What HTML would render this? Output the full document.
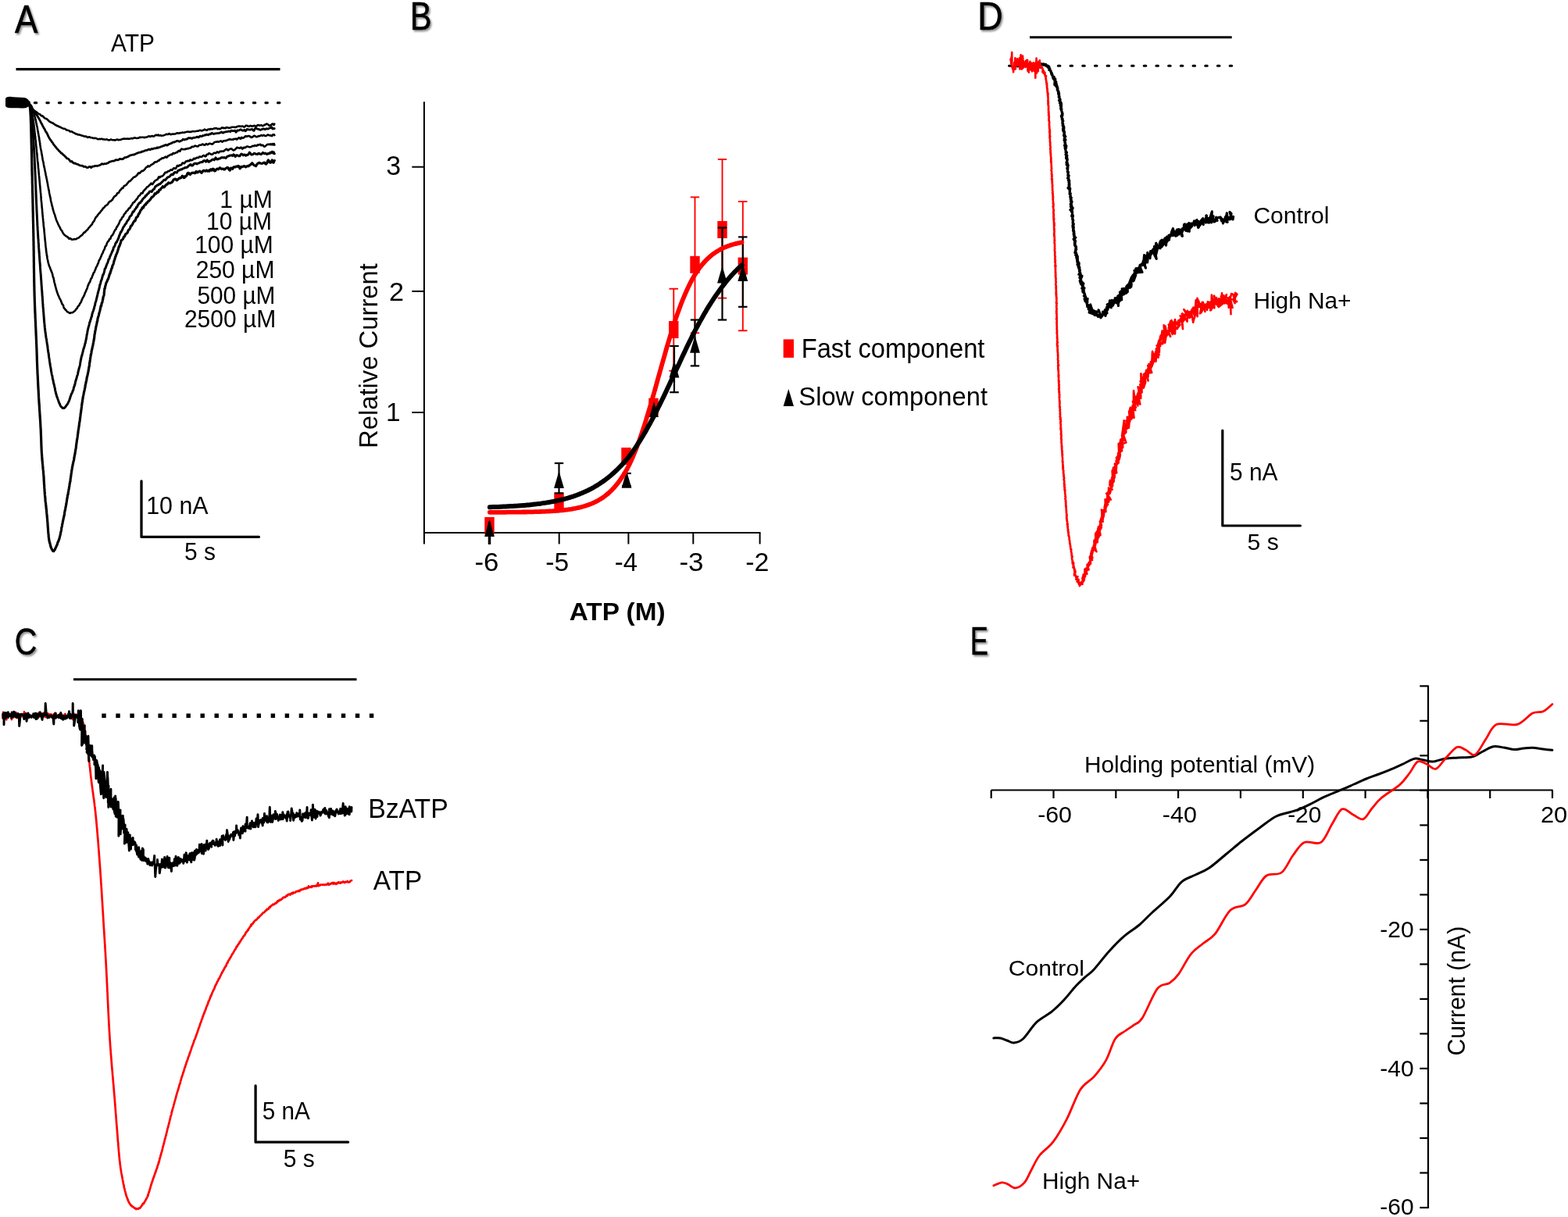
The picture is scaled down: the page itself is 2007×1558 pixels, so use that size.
<!DOCTYPE html>
<html><head><meta charset="utf-8"><title>Figure</title><style>html,body{margin:0;padding:0;background:#fff;overflow:hidden}svg{display:block}text{font-family:"Liberation Sans",Arial,Helvetica,sans-serif;fill:#000}</style></head><body>
<svg xmlns="http://www.w3.org/2000/svg" width="2007" height="1558" viewBox="0 0 2007 1558">
<defs><filter id="sh" x="-30%" y="-30%" width="160%" height="160%"><feDropShadow dx="1.8" dy="2.2" stdDeviation="1.3" flood-color="#000" flood-opacity="0.45"/></filter></defs>
<rect width="2007" height="1558" fill="#fff"/>
<line x1="20.5" y1="88.6" x2="358.5" y2="88.6" stroke="#000" stroke-width="3.1"/>
<path d="M44.3,131.6H361" stroke="#000" stroke-width="3.2" stroke-dasharray="2.4 13.16" stroke-linecap="round" fill="none"/>
<path d="M36,130.8 36.3,131.2 36.7,132 37.2,133 37.8,134.1 38.4,135.1 39,136.4 39.7,137.6 40.3,138.4 41,139 41.7,139.5 42.4,140.1 43.1,140.9 43.9,141.7 44.7,142.2 45.5,142.5 46.3,143.4 47.2,143.9 48,144.4 48.8,145.5 49.7,145.9 50.6,146.1 51.5,146.7 52.4,147.7 53.3,148.4 54.2,148.4 55.1,148.9 56,150.1 56.9,151 57.8,151.6 58.6,151.9 59.5,152 60.4,152.7 61.3,153.7 62.1,154.3 63,155.3 63.9,155.9 64.8,156.2 65.7,156.8 66.6,157.3 67.4,157.5 68.3,158 69.2,158.8 70.1,159.6 71,159.8 71.9,160.4 72.9,161.1 73.9,161.1 74.9,161.7 75.9,162.4 76.9,162.5 77.9,163.1 78.9,163.8 79.9,164 80.9,164.7 81.9,164.7 82.9,164.7 83.9,165.5 84.8,166.3 85.8,166.6 86.8,166.7 87.8,167 88.8,167.6 89.8,168.4 90.8,168.6 91.8,168.3 92.8,169 93.8,169.8 94.8,170 95.8,170.6 96.7,171.4 97.6,171.5 98.5,171.6 99.3,172.2 100.2,172.5 101.2,172.4 102.4,172.8 103.8,173.3 104.6,173.6 105.4,173.8 106.3,173.9 107.2,174.4 108.2,174.6 109.2,174.6 110.2,174.6 111.2,175.3 112.3,176 113.4,175.5 114.5,175.2 115.5,175.9 116.6,176.2 117.7,176.2 118.7,176.7 119.7,176.9 120.7,176.9 121.7,176.9 122.7,177 123.7,177.4 124.7,177.9 125.7,178.2 126.7,177.9 127.7,178 128.7,178.2 129.7,177.7 130.7,177.8 131.7,178.5 132.7,178.4 133.7,178.5 134.7,178.7 135.7,178.5 136.8,178.4 137.8,179 138.9,179.4 139.9,179.2 141,179.1 142.1,178.5 143.1,178.9 144.2,179.2 145.2,179.3 146.3,179.4 147.4,179.4 148.4,179.3 149.5,178.5 150.5,178.8 151.6,179.2 152.6,178.9 153.6,179.1 154.6,178.9 155.6,178.2 156.6,178 157.6,177.9 158.6,177.6 159.6,177.6 160.6,177.7 161.6,177.7 162.6,177.6 163.6,177.5 164.6,177.9 165.6,177.7 166.6,177.5 167.6,177.3 168.7,177.1 169.7,177.4 170.8,177 171.8,176.4 172.9,176.4 173.9,176.7 175,177 176,176.8 177.1,176.8 178.2,176.2 179.2,175.6 180.3,176 181.4,175.8 182.4,175.7 183.5,175.7 184.5,176.1 185.6,175.9 186.6,175.7 187.7,175.6 188.8,175.2 189.9,174.5 191,174.3 192,175 193.1,174.5 194.2,174.1 195.2,174 196.2,174.6 197.2,174.4 198.2,173.6 199.1,173 200,172.7 201.1,173.3 201.8,173.3 202.4,172.5 202.8,172.7 203.2,173.4 203.7,173.5 204.5,173.5 205.5,173.2 206.9,173.7 208.8,173.5 211.3,172.6 211.9,172.3 212.6,171.9 213.3,171.8 214,171.9 214.8,172.1 215.6,171.7 216.4,171.1 217.3,171.4 218.1,172.1 219,172.1 220,171.7 220.9,171.5 221.9,171.7 222.9,171.5 223.9,171.5 224.9,171.2 225.9,170.7 227,170.2 228.1,170.6 229.2,170.7 230.3,170.1 231.4,170.3 232.5,169.9 233.6,169.5 234.7,169.8 235.9,169.7 237,169.2 238.2,169 239.3,168.7 240.5,168.6 241.6,168.8 242.8,168.9 243.9,168.9 245,168.7 246.2,168.1 247.3,168.2 248.4,168.3 249.5,168.2 250.6,168 251.7,167.7 252.8,167.7 253.9,167.6 254.9,167.1 256,166.7 257,166.9 258,167.4 259,167.2 259.9,166.7 260.9,166.5 261.8,165.6 262.7,166 263.9,166.7 265,166.6 266.1,165.8 267.2,165.4 268.3,165.8 269.4,165.1 270.4,165.1 271.4,165.3 272.5,165.2 273.5,164.7 274.4,164.2 275.4,164.4 276.4,164.1 277.3,164.3 278.3,165.1 279.2,165 280.2,164.7 281.1,165.1 282,165 283,164.3 283.9,163.4 284.8,163.5 285.8,164 286.7,163.7 287.7,163.9 288.6,164.2 289.6,163.3 290.6,163.1 291.6,163.5 292.6,163.6 293.6,163.7 294.6,163.6 295.7,163.3 296.7,162.7 297.8,162.7 298.9,162.7 300,162.7 301.2,163.1 302.1,162.7 303,162.3 304,162.1 305,161.5 306,161.6 307,161.5 308,161.7 309.1,161.9 310.2,161.5 311.3,161.9 312.4,162.6 313.5,162.1 314.7,160.7 315.8,160.7 317,161.3 318.1,161.8 319.3,161.7 320.5,160.9 321.6,161.2 322.8,161.8 324,161.3 325.2,160.9 326.3,161.1 327.5,161.9 328.7,161.4 329.8,160.1 331,160.3 332.1,160.6 333.2,160.5 334.3,160.3 335.4,160.7 336.5,161.2 337.5,160.7 338.6,159.7 339.6,159.6 340.6,158.9 341.6,158.5 342.5,159.2 343.4,159.7 344.3,160.6 345.2,161 346,160.2 346.8,160.2 347.5,159.6 348.3,158.7 349,158.6 349.6,158.7 350.2,159.9 350.8,159.8 351.3,158.6" fill="none" stroke="#000" stroke-width="2.6" stroke-linejoin="round" stroke-linecap="round"/>
<path d="M36,131 36.3,131.8 36.7,132.7 37.2,133.2 37.8,133.7 38.4,134.7 39,135.9 39.7,137 40.3,138.1 41,138.8 41.5,139.7 42,140.8 42.6,141.4 43.1,142.1 43.7,142.7 44.3,143.6 44.9,144.7 45.5,145.4 46.1,146.1 46.8,147.2 47.4,148 48,148.5 48.5,149.5 49,150.5 49.4,150.9 49.9,151.7 50.4,152.9 50.9,153.8 51.4,154.5 51.9,155.7 52.5,157.1 53,158 53.5,158.6 54,159.7 54.5,161 55,161.8 55.5,162.6 56,163.8 56.5,164.6 57,165.1 57.5,166.1 58,167.3 58.5,168.4 59,169 59.5,169.5 60,170.5 60.4,171.2 60.9,172.3 61.4,173.7 61.9,174.4 62.4,175.5 62.9,176.6 63.4,177.3 63.9,178 64.5,179.1 65.1,179.6 65.7,180.5 66.4,181.8 67,182.2 67.6,183.1 68.2,184.2 68.8,185.2 69.4,186 70.1,186.6 70.7,187.6 71.3,188.1 71.9,188.9 72.6,190 73.4,190.7 74.1,191.4 74.8,192.3 75.5,193.3 76.3,193.7 77,194.4 77.7,195.4 78.5,196.3 79.2,196.4 79.9,196.8 80.7,198.1 81.5,198.6 82.3,199 83.1,200.1 83.9,200.8 84.6,201.4 85.4,202.7 86.2,202.9 87,203.1 87.8,203.8 88.7,204.6 89.5,205.8 90.3,206.8 91.1,206.6 92,206.5 92.8,207.6 93.8,208.5 94.7,209 95.8,208.9 96.7,209.3 97.6,209.9 98.6,210.1 99.7,210.4 100.7,210.9 101.8,211.6 102.9,211.9 103.9,212.1 105,212.2 106,212.4 106.9,213.3 107.8,213.5 109,213.2 110,213.7 110.9,214.3 111.8,214.6 112.7,214.5 113.6,213.8 114.6,213.3 115.8,213.7 116.6,214.6 117.5,213.9 118.4,213 119.3,213.2 120.3,213 121.2,212.5 122.3,212.4 123.3,212.3 124.3,212.5 125.4,212.1 126.6,211.8 127.7,211.4 128.6,211 129.5,210.4 130.4,209.6 131.4,210.1 132.4,210.1 133.4,209.7 134.4,209.7 135.5,209.6 136.5,209.3 137.5,208.9 138.6,208.4 139.6,207.6 140.6,207.1 141.7,206.9 142.7,206.5 143.7,206.2 144.7,206.1 145.7,206.1 146.7,205.7 147.7,204.8 148.7,204.6 149.7,204.9 150.7,204.9 151.6,204.7 152.6,203.9 153.6,203.3 154.6,203.7 155.6,203.8 156.6,203.5 157.6,203.5 158.6,202.5 159.6,201.7 160.6,201.7 161.6,201.4 162.6,201.1 163.6,200.6 164.6,200.2 165.6,199.4 166.6,198.9 167.6,198.7 168.6,198.5 169.6,198.2 170.6,198 171.6,198 172.6,197.5 173.6,197 174.6,196.6 175.6,196.1 176.6,195.7 177.6,195.4 178.7,195.2 179.8,195 180.8,194.7 181.9,194 183,193.8 184,193.6 185.1,192.8 186.1,192.7 187.1,192.4 188,192.3 189,192 189.9,191.4 190.7,191.1 191.5,191.5 192.7,191.5 193.5,190.6 194,190.5 194.4,190.4 195.1,190.8 196,190.6 197.6,189.8 200,189.8 200.6,189.1 201.3,188.8 202,189.3 202.7,189.1 203.4,188.7 204.2,188.6 205,188.3 205.9,187.9 206.8,187.5 207.7,187.3 208.6,186.8 209.5,186.5 210.5,186.4 211.5,185.5 212.5,185.4 213.5,186 214.5,185.9 215.6,184.8 216.6,184.4 217.7,184.1 218.8,183.5 219.9,183.4 220.9,182.3 222,182 223.1,182.1 224.2,181.5 225.3,181 226.4,180.4 227.5,180.3 228.6,180.7 229.7,181.3 230.8,180.7 231.8,180.2 232.9,179.8 233.9,178.5 235,178.4 236,179 237,178.5 238,178.2 238.9,178.3 239.9,177.7 240.9,176.7 241.9,176.7 242.8,176.9 243.8,176.7 244.8,176.9 245.8,177.4 246.8,176.7 247.7,176.1 248.7,176.4 249.7,176.2 250.7,176 251.7,175.4 252.7,175.1 253.7,175.8 254.7,175.6 255.7,174.4 256.7,174.1 257.6,174.6 258.6,174.4 259.6,173.5 260.6,173.7 261.6,173.3 262.6,172.7 263.6,173 264.6,172.2 265.6,172.5 266.6,172.9 267.6,171.8 268.6,171.7 269.6,171.8 270.6,170.7 271.5,170.4 272.5,171.1 273.5,171.5 274.5,171.3 275.5,170.9 276.5,170.8 277.5,170.6 278.5,170.7 279.6,170.7 280.6,170.2 281.6,170.2 282.6,169.5 283.6,168.9 284.6,169.8 285.7,170.1 286.7,169.2 287.7,169.1 288.7,168.9 289.7,168.7 290.8,168.5 291.8,168.4 292.8,167.9 293.8,168.2 294.8,168.6 295.8,167.2 296.9,167.2 297.9,167.6 298.9,167.7 299.9,167.2 300.9,167.2 301.9,169.2 302.9,168.4 304,166.8 305,167.2 306,167 307,166.2 308,165.6 309,166.5 310,166.8 311,167.3 312,166.9 313,166.2 314,167.7 315,167.2 316.1,165.4 317.2,165.6 318.3,165.9 319.4,166.2 320.5,166.2 321.7,165.4 322.8,165.4 324,166.9 325.2,167.3 326.3,164.7 327.5,164 328.7,164.8 329.9,165.1 331,165.3 332.2,165.9 333.3,166.4 334.5,165.8 335.6,165.4 336.7,164.9 337.8,164.9 338.9,165.5 340,165.5 341,164.7 342,165 343,165.2 343.9,164.5 344.9,164 345.7,163.7 346.6,163.8 347.4,162.6 348.2,163.4 348.9,165 349.6,164.4 350.2,164.6 350.8,164.9 351.3,164.5" fill="none" stroke="#000" stroke-width="2.8" stroke-linejoin="round" stroke-linecap="round"/>
<path d="M36,131 36.4,131.7 36.8,132.3 37.4,132.8 38,133.7 38.6,134 39.3,134.4 40,135.4 40.7,136.7 41.4,138.6 42,140.2 42.2,140.8 42.5,141.1 42.7,141.8 43,142.8 43.2,144 43.4,145.2 43.7,145.9 43.9,146.7 44.2,147.5 44.4,148.6 44.6,149.4 44.9,150.2 45.1,151.3 45.4,152.3 45.6,153.3 45.8,154.4 46.1,155.5 46.3,156.8 46.6,157.8 46.8,158.9 47,160.3 47.3,161.2 47.5,162.2 47.8,163.5 48,164.9 48.2,165.9 48.3,166.7 48.5,167.6 48.7,169 48.8,170 49,170.4 49.2,171.5 49.3,172.5 49.5,173.4 49.7,174.6 49.8,175.4 50,175.8 50.2,176.9 50.3,178.4 50.5,179.4 50.7,180.5 50.8,181.8 51,182.6 51.2,183.7 51.3,185.2 51.5,186.2 51.7,187.2 51.8,188.2 52,189.5 52.2,190.4 52.3,190.9 52.5,192 52.7,192.9 52.9,193.4 53,194.5 53.2,195.9 53.4,197.2 53.6,197.7 53.7,198.2 53.9,199.4 54.1,200.8 54.3,201.9 54.5,203.1 54.7,204.5 54.9,205.4 55.1,206.3 55.3,207 55.5,207.6 55.7,208.9 55.9,210.3 56.1,211.4 56.3,212.4 56.5,213.4 56.7,214.5 56.9,214.9 57.1,215.6 57.3,217.1 57.5,218.3 57.7,218.9 57.9,220 58.1,221.2 58.3,221.9 58.5,223.1 58.7,224.3 58.9,224.9 59.1,225.9 59.3,227.2 59.5,227.9 59.7,228.8 59.9,229.5 60.1,230.4 60.3,231.9 60.5,232.9 60.7,233.8 60.9,234.9 61.1,236 61.3,237.3 61.5,238.3 61.7,239.1 61.9,240.3 62.1,241.8 62.3,242.7 62.5,243.4 62.7,244.2 62.9,245.4 63.1,246.9 63.3,247.9 63.5,248.8 63.7,249.4 63.9,250.6 64.1,252 64.3,252.6 64.5,253.1 64.7,254.4 64.9,255.7 65.1,257.2 65.3,258 65.5,258.3 65.7,259.4 65.9,260 66.1,260.8 66.4,262.4 66.6,263.5 66.8,263.8 67.1,264.7 67.4,266.1 67.7,267.7 68,268.7 68.3,269.5 68.6,270.6 68.9,271.8 69.2,272.7 69.5,273.7 69.9,274.4 70.2,275 70.5,276.4 70.8,277.6 71.1,278.3 71.5,279.4 71.8,280.8 72.1,281.7 72.5,282.4 72.8,283.3 73.1,284.2 73.5,284.6 73.8,285.3 74.2,286.7 74.5,287.2 75,288.1 75.6,289.4 76.1,290.2 76.6,291.1 77.2,292.4 77.7,293.6 78.3,294.6 78.9,295.1 79.4,295.8 80,297.1 80.6,298.2 81.1,299 81.7,299.7 82.3,300.5 82.8,301.1 83.4,301.3 84.3,302 85.2,302.9 86.1,303 86.9,303.5 87.8,305.1 88.7,305.7 89.6,305 90.5,305.4 91.4,306.5 92.4,306.8 93.4,306.5 94.3,306.4 95.3,306.1 96.3,306.2 97.3,306.1 98.3,305.4 99.4,304.9 100.5,304.6 101.6,303.6 102.7,302.6 103.4,302.2 104,301.5 104.7,301.1 105.4,300.6 106.1,299.5 106.9,298.5 107.6,297.6 108.4,297.7 109.1,297 109.8,295.9 110.6,295.3 111.3,294.6 112.1,294 112.8,292.9 113.5,291.8 114.2,291.2 114.8,290.5 115.5,289.7 116.1,288.8 116.7,288.2 117.3,287.8 117.9,287 118.4,285.6 118.9,284.7 119.5,284.1 120,283.2 120.5,282.9 121,281.8 121.5,280.4 122.1,279.4 122.6,278.4 123.2,277.6 123.8,277.2 124.4,276.6 125.1,275.1 125.8,274.7 126.4,273.7 127,272.7 127.6,272.6 128.2,271.8 128.9,270.8 129.5,269.8 130.2,269.1 130.9,268.6 131.5,267.3 132.2,266.2 132.9,266.2 133.6,265.4 134.4,264.1 135.1,263.4 135.8,263 136.6,262.5 137.3,262.3 138.1,261.3 138.9,259.6 139.6,258.7 140.4,258.1 141.2,257.5 141.8,257.6 142.5,256.8 143.1,256.2 143.8,255.9 144.4,254.7 145.1,253.3 145.8,252.4 146.4,251.6 147.1,251.1 147.8,250.8 148.5,250.1 149.2,249.4 149.9,247.7 150.6,247 151.3,247.1 152,246.6 152.7,245.3 153.5,243.7 154.2,243.3 154.9,242.5 155.6,241.3 156.3,240.6 157,241 157.7,240.4 158.4,238.6 159.1,238 159.8,237.6 160.5,237.5 161.3,237 162,236.1 162.8,235.1 163.6,234.2 164.3,233.3 165.1,232.1 165.9,232.2 166.6,231.8 167.4,230.8 168.2,230.2 168.9,229.1 169.7,228.5 170.5,227.5 171.3,226.8 172,226.7 172.8,226.4 173.6,225.8 174.3,225.2 175.1,224.5 175.9,223.6 176.6,222.2 177.4,221.4 178.2,222 178.9,221.6 179.7,220.7 180.5,220 181.4,218.9 182.3,219 183.1,218.7 184,217.9 184.9,217.3 185.8,216.1 186.7,214.6 187.6,214.1 188.5,213.8 189.3,212.4 190.2,212.8 191.1,213.2 192,212.4 192.8,211.7 193.6,210.9 194.5,210.5 195.3,210.1 196.1,209.5 196.8,209.2 197.6,207.9 198.3,207.5 199,207.7 200.1,207.1 201.1,207.1 202,206 202.9,205.4 203.6,205.6 204.4,204.7 205.1,203.9 205.9,203.8 206.8,202.9 207.7,202.3 208.7,202.6 209.9,202.1 211.3,200.9 212,200.6 212.7,201.4 213.5,201.6 214.3,200.7 215.1,199.5 215.9,199.2 216.7,199.1 217.5,198.4 218.4,197.9 219.3,197.9 220.2,198 221.1,196.4 222,196 223,196.5 224,196.1 225,195.6 226,194.9 227,195.1 228,193.4 229.1,192.9 230.2,193.7 231.3,192 232.4,190.5 233.5,190.9 234.7,191.2 235.8,191.1 237,191.2 237.8,190.5 238.7,190.6 239.5,190.4 240.4,190.1 241.3,190.1 242.2,189.7 243.1,189.5 244.1,189.4 245,188.3 246,187.7 246.9,188 247.9,187.7 248.9,186.9 249.9,186.6 250.9,187.1 251.9,187.2 252.9,187.5 253.9,187 254.9,185.9 256,185.7 257,185.6 258,185.4 259.1,184.5 260.1,184.7 261.2,185.7 262.2,185.8 263.2,184.7 264.3,184 265.3,185.1 266.4,184.9 267.4,184 268.4,183.8 269.4,183.9 270.5,184.2 271.5,184.6 272.5,184.2 273.5,183.2 274.5,182.2 275.5,181.7 276.5,181.7 277.5,181.6 278.5,181.1 279.5,181.6 280.4,181.5 281.4,180.9 282.4,180.6 283.4,180.5 284.4,181.7 285.4,180.9 286.4,180.2 287.4,180.3 288.4,180.1 289.4,180.2 290.4,179.6 291.4,179.1 292.3,179 293.3,178.5 294.3,178 295.3,178.7 296.3,178.8 297.3,178.5 298.3,178.9 299.3,177.9 300.3,178 301.3,177.9 302.2,177.6 303.2,178.6 304.2,177.8 305.2,176.4 306.2,176.2 307.2,177.6 308.1,177.8 309.1,175.8 310.1,176.3 311.1,176.7 312.1,176.1 313,175.6 314,174.4 315,174.4 316.1,174.8 317.2,174.2 318.3,174.1 319.4,174.3 320.5,175.1 321.7,175.9 322.8,175.6 324,174.8 325.2,173.8 326.3,174.1 327.5,174.9 328.7,175.2 329.9,174.8 331,174.1 332.2,174.2 333.3,173.7 334.5,173 335.6,173.7 336.7,173.4 337.8,172.9 338.9,173.9 340,174 341,173.7 342,172.9 343,172.5 343.9,172.9 344.9,173.2 345.7,173.5 346.6,173.2 347.4,173.9 348.2,174.1 348.9,172.9 349.6,172.2 350.2,172.2 350.8,172.2 351.3,173.1" fill="none" stroke="#000" stroke-width="2.6" stroke-linejoin="round" stroke-linecap="round"/>
<path d="M36,131.4 36.3,131.3 36.6,131.6 37,133 37.5,133.8 38,134.8 38.5,136 39,137.1 39.5,138.1 40,140 40.2,140.9 40.3,141.4 40.5,141.9 40.6,142.8 40.8,143.7 40.9,144.2 41.1,144.7 41.2,145.1 41.4,146.3 41.5,147.5 41.7,148.2 41.8,149.2 42,150.3 42.1,151.5 42.3,152.1 42.4,153.1 42.6,154 42.7,155.1 42.9,156.2 43.1,157.3 43.2,159.2 43.4,160.5 43.6,161.7 43.8,163.1 44,164.8 44.1,165.9 44.2,166.9 44.3,167.3 44.3,167.7 44.4,168.6 44.5,169.4 44.6,170 44.7,170.9 44.8,172.1 44.9,173.1 45,173.9 45.1,174.8 45.2,175.5 45.3,176.5 45.4,177.8 45.5,178.7 45.6,179.4 45.7,180.4 45.8,181.4 45.9,182.6 46,183.5 46.1,184.5 46.2,185.6 46.3,186.5 46.4,187.1 46.5,188.1 46.6,189.3 46.7,190.4 46.8,191.2 46.9,192.5 47,194 47.1,195 47.2,195.3 47.3,196 47.4,197.4 47.5,198.5 47.6,199.7 47.7,201.4 47.8,202.6 47.9,203.1 48,204.4 48.1,205.7 48.2,206.7 48.3,207.6 48.5,208.7 48.6,210 48.7,210.7 48.8,211.4 48.9,213.1 49,214.7 49.1,215.5 49.2,216.2 49.3,217.3 49.4,218.3 49.5,219.4 49.6,221.1 49.7,222.2 49.8,223.2 49.9,224.2 50,225 50.1,226.3 50.2,226.9 50.3,227.6 50.4,228.8 50.5,229.9 50.6,231.3 50.7,232.4 50.7,232.7 50.8,233.6 50.9,234.7 51,235.6 51.1,237.2 51.2,238.3 51.3,238.9 51.4,240 51.5,241.2 51.6,242.5 51.7,243.4 51.8,244.3 51.9,245.6 52,246.5 52.1,247.1 52.2,248.2 52.3,249.7 52.4,250.9 52.5,251.5 52.6,252.5 52.6,254.3 52.7,255.4 52.8,256.1 52.9,257.3 53,258.2 53.1,259 53.2,260 53.3,261.1 53.4,261.8 53.5,263.4 53.6,265.1 53.7,265.6 53.8,266.4 53.9,267.3 54,268.5 54.1,269.7 54.2,270.6 54.2,271.3 54.3,272.3 54.4,274 54.5,274.9 54.6,275.6 54.7,276.6 54.8,277.7 54.9,278.9 55,279.6 55.1,280.2 55.1,281.2 55.2,282.2 55.3,282.9 55.4,283.9 55.5,285 55.6,285.6 55.7,286.4 55.7,288.1 55.8,289.1 55.9,289.4 56,290.6 56.1,291.7 56.3,291.9 56.4,292.8 56.5,294.3 56.6,295.9 56.7,297.7 56.9,298.3 57,299.5 57.1,300.9 57.2,301.9 57.3,303.4 57.4,304.5 57.5,305.5 57.6,306.6 57.7,307.4 57.8,308.5 58,310 58.1,311.2 58.2,312.6 58.3,313.6 58.4,314.2 58.5,315.4 58.6,316.2 58.7,316.6 58.8,317 58.9,318.5 59,320 59.1,320.8 59.2,321.5 59.3,322.3 59.5,323.7 59.6,324.5 59.7,324.8 59.8,325.4 59.9,326.8 60,327.5 60.2,327.4 60.3,327.9 60.4,329 60.5,330.4 60.7,331.5 60.8,331.9 61.1,333 61.4,334.5 61.7,336.1 62,337.1 62.3,338.2 62.6,339.2 63,340.6 63.3,341.2 63.6,341.7 64,342.8 64.3,343.7 64.6,344.7 65,345.4 65.3,346.3 65.6,347.1 66,348 66.3,348.5 66.6,349.3 66.9,350.5 67.2,351.3 67.5,352.7 67.7,353.8 68,354.9 68.2,355.2 68.5,355.5 68.7,357.2 69,358.2 69.2,359 69.4,360.7 69.7,361.9 69.9,362.3 70.2,363.3 70.4,364.6 70.6,365.5 70.9,366.3 71.1,367.3 71.4,368 71.6,368.9 71.9,369.9 72.1,370.9 72.4,372.1 72.8,372.9 73.1,374 73.5,375.4 73.9,376.3 74.3,377.4 74.7,378.4 75.2,379.1 75.6,380.2 76,381.2 76.4,382.4 76.8,382.8 77.2,383.3 77.6,384.3 78,385.1 78.4,386.4 78.8,387.3 79.3,388.7 79.9,389.9 80.4,390.1 80.9,390.7 81.4,392.8 81.9,394.3 82.4,394.9 82.9,395 83.4,396.3 84,396.8 84.5,397 85.4,398.4 86.2,399.2 87.1,399.6 88,399.9 88.9,400.8 89.8,400.9 90.8,400.3 91.6,400.2 92.5,400.3 93.4,399.9 94.2,399.1 95.1,398.5 96.1,397.8 97,396.3 98,395.2 98.5,394.9 98.9,394.2 99.4,393 99.9,392 100.4,391.7 101,391.3 101.5,390.4 102,389.2 102.5,388.4 103.1,387.6 103.6,386.9 104.1,385.8 104.6,384.2 105.1,383.3 105.6,381.9 106.1,380.9 106.6,380.4 107,379.5 107.5,378.7 107.9,377.8 108.4,376.3 108.8,375.2 109.2,374.4 109.6,373.5 110,372.8 110.4,371.6 110.7,370.8 111.1,370.4 111.5,369.2 111.9,368.1 112.2,366.8 112.6,365.5 113,365.2 113.4,364 113.8,362.6 114.3,361.9 114.7,361.4 115.1,361.1 115.5,359.7 115.9,358.5 116.4,357 116.8,356.3 117.2,356.2 117.6,355.4 118.1,353.7 118.5,352.5 119,352.1 119.4,350.2 119.9,349.1 120.3,348.9 120.7,348.5 121,347.7 121.4,346.4 121.8,345.6 122.2,344.8 122.6,343.5 123,342.3 123.4,341.6 123.8,341 124.2,340.5 124.6,339.4 125,338.3 125.5,337.6 125.9,336.5 126.3,335.1 126.7,333.5 127.2,332.7 127.6,332.3 128,331.5 128.4,330.6 128.8,329.7 129.2,328.8 129.6,327.9 130.1,326.5 130.5,325.6 130.9,324.8 131.3,324.2 131.8,323.2 132.2,321.8 132.6,320.8 133,320.1 133.5,319.6 133.9,318.5 134.3,316.9 134.8,315.4 135.2,315 135.6,314.8 136.1,314.3 136.5,312.7 137,311.2 137.5,310.3 138,309.2 138.5,308.9 139,308.6 139.4,307.8 139.9,306.5 140.4,305.8 140.9,305.6 141.4,305.7 141.9,304 142.4,302.4 143,301.8 143.6,301.4 144.2,300.7 144.8,299.7 145.5,298.2 145.9,297 146.3,296.4 146.8,295.3 147.2,294.7 147.6,293.9 148,293.8 148.5,293.5 148.9,291.7 149.4,290.5 149.8,290.6 150.3,289.8 150.7,288.6 151.2,288 151.7,287.3 152.2,286.4 152.7,285.1 153.2,283.8 153.8,282.3 154.3,281.6 154.9,281.3 155.5,280.2 156.1,279.2 156.7,277.9 157.3,277.7 157.9,277 158.6,275 159.3,273.9 160,273.2 160.5,273 161,271.5 161.6,270.7 162.1,270.6 162.7,269.6 163.2,269.4 163.8,269 164.4,267.6 165,266.5 165.6,266.6 166.3,266.3 166.9,265.2 167.5,263.9 168.2,263.1 168.8,262.4 169.5,261.1 170.1,259.8 170.8,259.3 171.5,259 172.2,258.4 172.8,257.3 173.5,256.5 174.2,255.8 174.9,254.9 175.6,254.4 176.3,253 177,251.6 177.6,251 178.3,250.5 179,250.1 179.7,249.1 180.4,247.5 181.1,247 181.7,247.5 182.4,247.4 183.1,245.8 183.7,244.4 184.4,244 185.1,243.2 185.7,242.4 186.5,241.7 187.3,240.6 188.1,239.7 188.9,239.2 189.7,238.8 190.5,237.8 191.3,237 192.1,236.4 192.9,235.3 193.7,234.6 194.5,235.7 195.3,236 196.1,234.3 196.9,233.5 197.7,232.3 198.5,231.4 199.3,230.9 200.1,230.5 200.9,230 201.7,229.8 202.5,227.8 203.3,226.4 204.1,227.3 204.9,226.8 205.7,225.9 206.5,226 207.3,225.6 208.1,225.2 208.9,224.5 209.7,223.4 210.5,222.4 211.3,221 212.2,220.6 213.1,220.9 214,220.3 214.8,219.2 215.7,219 216.6,219.1 217.5,218.3 218.4,217.4 219.3,217.5 220.2,217.9 221,216.9 221.9,215.7 222.8,215.2 223.7,215.4 224.6,216 225.5,214.9 226.4,213 227.2,211.8 228.1,212.7 229,212.5 229.9,211.3 230.8,211.5 231.7,211.3 232.6,210.3 233.5,208.6 234.3,208.6 235.2,209.1 236.1,209.1 237,207.8 237.9,206.6 238.9,206.8 239.8,206 240.7,205.7 241.6,206.3 242.5,206 243.3,204.6 244.2,204.5 245.1,205.2 246,204.9 246.8,204.6 247.7,203.2 248.6,202.8 249.5,203.5 250.4,202.8 251.3,202.2 252.2,201.7 253.2,202 254.1,202 255.1,200.6 256.1,200.5 257.2,200.7 258.2,200.7 259.3,199.9 260.4,198.9 261.5,199.2 262.7,200.3 263.5,200.1 264.4,198.1 265.2,197.7 266.1,197.8 266.9,196.5 267.8,196.3 268.7,196.7 269.6,197 270.5,197.7 271.4,197.8 272.3,197.4 273.2,196.3 274.2,195.7 275.1,195.7 276,196.1 277,195.5 278,194.3 278.9,195.1 279.9,195.5 280.9,194.2 281.9,193.8 282.9,193.9 283.9,193.6 285,193.7 286,193.6 287,192.9 288.1,192.2 289.1,191.1 290.2,190.9 291.3,192.2 292.3,192.4 293.4,191.2 294.5,190.7 295.6,190.4 296.7,190.5 297.8,191.8 298.9,192.5 300.1,191.9 301.2,191.1 302.1,190.2 303,188.9 304,188.9 305,189.2 306,189.5 307,189.7 308,188.8 309.1,188.8 310.2,190.6 311.3,189.7 312.4,188.6 313.5,189.3 314.7,188.4 315.8,187.5 317,187.5 318.1,187.9 319.3,188.2 320.5,188.3 321.6,188 322.8,187 324,186.9 325.2,186.9 326.3,186 327.5,186.6 328.7,186.7 329.8,185.4 331,185.7 332.1,185.1 333.2,184.9 334.3,186.3 335.4,185.9 336.5,185.7 337.5,187.2 338.6,187.8 339.6,187 340.6,186.3 341.6,185.4 342.5,184.8 343.4,184.9 344.3,184.9 345.2,185 346,184.4 346.8,185.3 347.5,185.1 348.3,184.2 349,185.4 349.6,185.1 350.2,184 350.8,184 351.3,185.6" fill="none" stroke="#000" stroke-width="2.6" stroke-linejoin="round" stroke-linecap="round"/>
<path d="M36,131.1 36.2,131.3 36.5,131.2 36.8,131 37.2,131.5 37.5,132.8 38,133.5 38.4,134.2 38.8,135.6 39.2,137 39.6,139.6 40,142.4 40.1,142.5 40.1,143.9 40.2,144.4 40.3,144.5 40.3,145.1 40.4,145.9 40.5,146.2 40.6,146.7 40.6,148.3 40.7,149.2 40.8,149.6 40.8,150.4 40.9,151.4 41,152.1 41,153 41.1,153.5 41.2,154.4 41.2,155.5 41.3,156.4 41.4,157.4 41.4,158 41.5,158.9 41.6,159.9 41.7,161.1 41.7,162.2 41.8,163.2 41.9,164 41.9,165.1 42,166.3 42.1,167.3 42.1,168.6 42.2,169.2 42.3,170.1 42.3,171.3 42.4,172.4 42.5,174 42.6,175.1 42.6,176.2 42.7,176.9 42.8,177.9 42.8,179.3 42.9,180.7 43,181.7 43,182.7 43.1,184.1 43.2,184.9 43.2,185.8 43.3,187.4 43.4,188.6 43.4,189.5 43.5,191.1 43.6,192.7 43.7,193.7 43.7,194.9 43.8,196.1 43.9,197.3 43.9,198.5 44,200 44,201.2 44.1,201.8 44.1,202.4 44.2,203.3 44.2,203.9 44.3,204.9 44.3,206.2 44.4,206.9 44.4,207.8 44.4,208.7 44.5,209.7 44.5,211 44.6,211.6 44.6,211.9 44.7,212.8 44.7,213.9 44.7,214.7 44.8,215.9 44.8,217.4 44.9,218.4 44.9,219.1 45,219.7 45,220.6 45,221.7 45.1,222.9 45.1,224.1 45.2,225 45.2,226.2 45.3,227.1 45.3,228.4 45.3,229.6 45.4,230.3 45.4,231.3 45.5,232.5 45.5,233.8 45.5,234.8 45.6,235.8 45.6,236.7 45.7,237.4 45.7,238.3 45.8,239.6 45.8,240.7 45.8,241.4 45.9,242.9 45.9,244.1 46,244.8 46,246.2 46.1,247.4 46.1,248.4 46.1,249.4 46.2,250.5 46.2,251.8 46.3,252.8 46.3,254 46.4,255 46.4,255.6 46.5,256.8 46.5,258.1 46.5,259.1 46.6,259.8 46.6,261 46.7,262.4 46.7,263.3 46.8,263.8 46.8,265 46.9,266.4 46.9,267.4 46.9,268.3 47,269 47,270.1 47.1,271.5 47.1,272.7 47.2,273.7 47.2,274.8 47.3,275.5 47.3,276.5 47.4,277.3 47.4,278.1 47.5,279.6 47.5,280.9 47.6,281.3 47.6,282.2 47.7,283.5 47.7,284.1 47.8,285.2 47.8,286.4 47.8,287.6 47.9,288.2 47.9,288.7 48,289.9 48.1,290.7 48.1,292.1 48.2,293.9 48.3,294.7 48.3,295.5 48.4,296.7 48.4,297.7 48.5,298.7 48.6,299.9 48.6,300.9 48.7,302.1 48.8,303.5 48.8,304.9 48.9,305.5 49,306.1 49.1,307.2 49.1,308.3 49.2,309.7 49.3,310.6 49.3,311.3 49.4,312.2 49.5,313.6 49.5,315.3 49.6,316.6 49.7,317.4 49.8,318 49.8,318.9 49.9,319.9 50,320.6 50,322.2 50.1,323.5 50.2,324.4 50.3,325.4 50.3,326.7 50.4,328.1 50.5,328.6 50.6,329.3 50.6,330.3 50.7,331.7 50.8,333.1 50.8,333.8 50.9,335 51,336 51.1,336.3 51.1,336.8 51.2,338 51.3,339.5 51.4,340.4 51.4,341.4 51.5,342.7 51.6,343.6 51.6,344.5 51.7,345.8 51.8,346.7 51.8,347.1 51.9,348.1 52,349.2 52.1,350.5 52.1,351.3 52.2,351.4 52.3,352.5 52.3,353.8 52.4,354.5 52.5,355.5 52.5,356.5 52.6,357.6 52.7,358.2 52.7,358.7 52.8,359.7 52.9,360.7 52.9,361.8 53,362.9 53,363.5 53.1,364.5 53.2,365.9 53.3,367 53.4,368.2 53.4,369.2 53.5,370.2 53.6,371.4 53.7,372.4 53.8,373.5 53.9,375.1 54,376.4 54,377.1 54.1,378.7 54.2,379.8 54.3,380.6 54.4,382.1 54.4,383.3 54.5,384.1 54.6,384.9 54.7,386.1 54.7,387.4 54.8,388.6 54.9,389.5 55,390.6 55,392 55.1,393 55.2,393.8 55.3,394.5 55.3,395.4 55.4,396.3 55.5,397.4 55.6,398.6 55.6,399.2 55.7,399.9 55.8,401 55.9,402.2 55.9,403 56,403.8 56.1,404.8 56.1,405.6 56.2,406.5 56.3,407.5 56.4,408.7 56.4,409.6 56.5,410.1 56.6,411.1 56.6,412.3 56.7,412.7 56.8,413.4 56.9,414.1 56.9,414.5 57,415.2 57.1,417.3 57.3,418.9 57.4,419.9 57.6,421.2 57.7,422.2 57.8,423.4 58,424.7 58.1,426.1 58.2,426.7 58.4,427.5 58.5,428.7 58.6,428.9 58.7,429.8 58.9,431.4 59,432.2 59.1,432.8 59.3,433.4 59.4,433.8 59.6,434.7 59.7,436.1 59.8,436.8 60,437.8 60.1,438.9 60.3,440.4 60.4,441.2 60.6,441.5 60.7,442.2 60.8,443.3 61,444.7 61.1,445.8 61.2,446.7 61.4,447.9 61.5,449.1 61.7,450.2 61.8,451.2 62,451.6 62.1,452.6 62.3,453.8 62.4,455.1 62.6,456.2 62.7,457 62.9,458.2 63,459 63.2,459.9 63.3,461.5 63.5,462.4 63.6,463.2 63.8,464.4 63.9,465.2 64.1,466.1 64.2,467.3 64.4,468.2 64.5,469 64.7,470 64.9,470.9 65.1,471.8 65.3,473.6 65.5,475.3 65.7,475.9 65.9,476.9 66.1,478.2 66.3,479.3 66.5,480 66.7,480.5 66.9,481.4 67.1,482.6 67.3,484.2 67.5,485.6 67.8,486.2 68,486.7 68.2,488 68.3,489.5 68.5,489.9 68.7,490.4 68.9,491.5 69.1,492.2 69.3,493 69.6,494.2 69.8,495.5 70.1,496.4 70.4,497.5 70.6,499.2 70.8,500.4 71.1,501.4 71.3,502.4 71.6,503.2 71.8,504.5 72.1,505.4 72.3,505.9 72.6,507.1 72.8,507.9 73.1,508.2 73.5,509.3 73.9,510.6 74.3,511.8 74.7,512.8 75.1,514.1 75.5,515.4 75.9,516.2 76.3,516.8 76.7,517.7 77.1,518.8 77.5,519.8 78.3,520.7 79.1,521.2 79.9,522.4 80.7,522.6 81.6,522.3 82.3,522.4 83,521.8 83.7,520.9 84.4,520 85.1,518.9 85.8,518.1 86.5,517.2 86.9,516.2 87.3,515.4 87.8,514.5 88.2,513.6 88.6,512.6 89,511.5 89.4,510.3 89.8,509 90.2,507.7 90.6,506.6 91,505.5 91.3,504.5 91.7,503.7 92,503.4 92.3,502.8 92.7,501.7 93,500.7 93.3,500 93.7,499.7 94,498.2 94.4,496.5 94.7,495.4 95.1,494.4 95.5,493.4 95.7,492.4 96,491.6 96.2,490.8 96.5,489 96.8,487.5 97.1,487.3 97.3,486.2 97.6,485.2 97.9,484.8 98.2,483.2 98.5,481.7 98.8,481.1 99.1,480.6 99.4,479.6 99.7,478.2 99.9,476.6 100.2,475.4 100.5,474.6 100.7,473.4 101,472.6 101.2,471.7 101.4,470.6 101.6,470.5 101.9,469.2 102.2,468 102.4,466.9 102.6,465.4 102.8,464.2 102.9,463.2 103.1,463.1 103.2,462.4 103.4,460.6 103.6,460.1 103.8,459.4 104,457.8 104.3,456.9 104.5,455.6 104.7,455.2 105,455.1 105.2,453.6 105.5,452.4 105.8,451.4 106.1,450.1 106.3,449.1 106.6,447.8 106.9,446.7 107.2,445.9 107.5,445.5 107.8,444.2 108.1,443 108.4,442.5 108.6,441.1 108.9,439.7 109.2,439.2 109.4,438.7 109.6,437.2 109.9,435.7 110.1,434.8 110.3,434.3 110.5,433 110.7,431.5 110.8,431 111,429.6 111.2,428.2 111.4,427.9 111.6,426.8 111.8,425.4 112,424.1 112.2,423.2 112.4,422.3 112.6,421.1 112.8,420.5 113.1,419.4 113.3,418.6 113.5,418 113.8,416.9 114.1,416 114.3,414.9 114.6,413 114.9,412.4 115.2,412.3 115.5,410.9 115.8,409.5 116.1,409 116.4,408.1 116.7,406.7 117,405.8 117.3,405.6 117.6,404.6 117.9,402.1 118.2,401.4 118.4,400.9 118.7,399.4 119,398.8 119.3,398.1 119.6,397.3 119.9,396.3 120.2,395.3 120.5,394.7 120.7,393.2 121,392.1 121.3,391.6 121.6,390.5 121.9,388.4 122.2,387.2 122.4,386.7 122.7,386 123,384.9 123.2,383.9 123.5,382.9 123.7,381.7 124,380.7 124.2,379.9 124.5,378.7 124.8,377.7 125,376.5 125.3,375.1 125.5,374.4 125.7,373.9 125.9,372.9 126.1,372.1 126.4,371.4 126.6,370.8 126.9,369.3 127.2,368.3 127.5,366.8 127.7,364.8 128,364.8 128.2,364.1 128.5,363.1 128.7,362.3 129,361 129.3,359.8 129.5,359.1 129.8,358.6 130.1,358 130.4,356.9 130.7,355.6 131,354.9 131.3,353.3 131.7,351.9 132,352 132.3,351.5 132.6,350.5 133,349.4 133.3,348.4 133.6,347.1 134,345.1 134.3,343.9 134.7,343.6 135.1,343.3 135.5,342.3 135.8,340.7 136.2,340.1 136.6,338.9 137,337.7 137.4,337.3 137.8,336.2 138.2,335 138.6,333.6 139,332.2 139.4,331.7 139.8,331.6 140.2,330.5 140.6,328.8 141,327.8 141.4,327.4 141.8,326.2 142.2,325.1 142.6,324.5 143,323.5 143.4,322.4 143.8,321.4 144.2,321.2 144.6,320.1 145,318.5 145.4,316.8 145.9,316.1 146.3,315.8 146.7,314.9 147.1,314.2 147.5,312.8 148,311.6 148.4,310.4 148.9,310.4 149.3,310.2 149.7,308.9 150.1,308.1 150.6,307.4 151,306.3 151.4,305.3 151.8,305 152.2,303.1 152.7,301.5 153.1,300.9 153.5,300 154,298.4 154.4,297.1 154.9,297.4 155.3,296.4 155.8,295.4 156.3,294.6 156.8,293.4 157.3,292.2 157.8,291.1 158.3,290.1 158.9,289.6 159.4,288.7 159.8,287.8 160.3,287.4 160.8,286.4 161.3,286.3 161.8,285.4 162.4,283.8 162.9,283 163.4,282.6 164,281.5 164.5,281 165.1,280.4 165.6,278.7 166.2,277.5 166.8,276.7 167.3,276.3 167.9,275.9 168.5,274.9 169,273.4 169.6,272.5 170.1,271.1 170.7,270.7 171.2,271 171.8,269.8 172.3,269 172.8,267.9 173.5,267.4 174.1,266.8 174.7,265.1 175.2,265.2 175.8,264.2 176.3,262.8 176.9,262.1 177.4,261 178,260.5 178.5,259.7 179.1,259.6 179.7,259.6 180.3,258 180.9,257.7 181.6,257.2 182.3,255.4 183.1,254.7 183.9,253.5 184.8,253 185.7,252.1 186.3,250.5 186.9,250.6 187.5,250.2 188.2,249 188.9,248.2 189.6,247.5 190.3,247.4 191,245.9 191.8,245.1 192.5,245.1 193.3,245 194.1,245.5 194.9,244.4 195.7,243.1 196.5,242.6 197.3,242.1 198.1,240.3 198.9,238.6 199.8,238.3 200.6,237.6 201.4,236.9 202.3,236.9 203.1,236 204,235.4 204.8,235.7 205.6,234.9 206.5,233.8 207.3,233.1 208.1,232.3 208.9,231.4 209.7,230.4 210.5,230.3 211.3,230.7 212.2,229.8 213.1,228.7 214,227.5 214.8,226.7 215.7,226.8 216.6,226.3 217.5,225.6 218.4,224.6 219.3,223.4 220.2,223.1 221,223.8 221.9,223.2 222.8,221.3 223.7,220.6 224.6,220.6 225.5,221 226.4,221.1 227.2,219.6 228.1,218.1 229,217.9 229.9,217.9 230.8,217.1 231.7,217 232.6,216.9 233.5,216.1 234.3,215.8 235.2,215.5 236.1,215.1 237,214.5 238,214.8 238.9,214.3 239.9,214.1 240.8,212.9 241.8,211.8 242.7,211.5 243.6,210.6 244.5,210.8 245.4,212.1 246.3,212 247.2,211.3 248.1,209.9 249.1,209.2 250,209.4 250.9,209.1 251.9,210 252.9,209.3 253.8,209.1 254.9,208.7 255.9,207.9 257,207.8 258,207.5 259.2,207.5 260.3,206 261.5,205.6 262.7,206.2 263.5,207.1 264.4,205.9 265.2,204.8 266.1,206.4 266.9,207.2 267.8,207.2 268.7,206 269.6,205.9 270.5,205.6 271.4,204.5 272.3,204.2 273.2,203.9 274.2,204.8 275.1,203.9 276,201.9 277,203.2 278,204.1 278.9,203.9 279.9,203.3 280.9,203 281.9,202.8 282.9,201.9 283.9,201.6 285,201.8 286,201.9 287,201.4 288.1,202.1 289.1,202.4 290.2,201.1 291.3,199.9 292.3,199.9 293.4,199.5 294.5,198.9 295.6,199 296.7,198.8 297.8,199.5 298.9,197.9 300.1,198.5 301.2,200.5 302.1,199.3 303,198.5 304,199.1 305,199.3 306,199.8 307,199.7 308,197.9 309.1,197 310.2,197.5 311.3,198.9 312.4,198.1 313.5,198.1 314.7,199.3 315.8,198.2 317,198.4 318.1,197.4 319.3,195.1 320.5,196.3 321.6,197.9 322.8,197.9 324,197.5 325.2,196.2 326.3,196.5 327.5,197.2 328.7,197.3 329.8,197.6 331,196.2 332.1,196.4 333.2,197.6 334.3,197.6 335.4,196.6 336.5,195.3 337.5,196.2 338.6,196.8 339.6,196.1 340.6,196.8 341.6,197.5 342.5,197.1 343.4,196.2 344.3,196.8 345.2,196.2 346,195.1 346.8,196 347.5,195 348.3,194.2 349,195.7 349.6,196.1 350.2,194.7 350.8,195.9 351.3,196.8" fill="none" stroke="#000" stroke-width="3.0" stroke-linejoin="round" stroke-linecap="round"/>
<path d="M36,130.7 36.1,130.9 36.3,131.6 36.5,131.9 36.7,132.2 36.9,132.7 37.1,132.7 37.4,133.2 37.6,134.1 37.9,135.2 38.1,136.7 38.4,137.8 38.6,139.6 38.8,142.2 39,145.1 39,146 39.1,146.6 39.1,147.3 39.1,148 39.2,148.3 39.2,148.6 39.2,149 39.3,150.1 39.3,151.3 39.3,152.4 39.3,152.9 39.4,153.4 39.4,154.2 39.4,154.9 39.5,155.4 39.5,156.6 39.5,157.8 39.6,158.5 39.6,159.7 39.6,160.7 39.6,161.2 39.7,162.4 39.7,163.8 39.7,164.6 39.7,165.3 39.8,165.8 39.8,166.6 39.8,167.9 39.9,169.3 39.9,170.3 39.9,171.6 39.9,172.9 40,173.8 40,175 40,175.6 40,176.7 40.1,178.1 40.1,178.7 40.1,179.9 40.1,181.5 40.2,182.7 40.2,183.8 40.2,184.4 40.2,185.2 40.3,186.5 40.3,187.7 40.3,189 40.3,190.4 40.4,191.6 40.4,192.4 40.4,193.5 40.4,195.2 40.5,196.2 40.5,196.7 40.5,197.6 40.5,199 40.6,199.9 40.6,201.1 40.6,202.3 40.6,203.6 40.7,205.1 40.7,206.1 40.7,206.8 40.7,208 40.8,209.2 40.8,210.1 40.8,211.6 40.8,212.6 40.8,213.2 40.9,214.6 40.9,216.3 40.9,217.6 40.9,218.4 41,219.6 41,220.4 41,221.4 41,222.8 41.1,223.3 41.1,223.9 41.1,224.7 41.1,225.4 41.2,226.7 41.2,227.7 41.2,228.6 41.2,229.9 41.3,230.9 41.3,232 41.3,233.4 41.3,234.2 41.4,235 41.4,236.3 41.4,237 41.4,237.5 41.5,238.1 41.5,239.3 41.5,241 41.5,242 41.5,243.3 41.6,244.5 41.6,245.2 41.6,245.9 41.6,246.6 41.7,247.6 41.7,248.9 41.7,249.9 41.7,250.7 41.8,251.7 41.8,252.9 41.8,253.6 41.8,254.4 41.9,255.8 41.9,257 41.9,258.2 41.9,259 41.9,259.7 42,260.5 42,261.9 42,263.3 42,264.1 42.1,264.8 42.1,265.6 42.1,267 42.1,268.2 42.1,269.1 42.2,270.5 42.2,271.1 42.2,271.5 42.2,273 42.3,274.3 42.3,275 42.3,275.8 42.3,276.9 42.3,277.8 42.4,279.1 42.4,280.2 42.4,281.4 42.4,282.5 42.5,283.6 42.5,284.3 42.5,285 42.5,285.9 42.5,286.5 42.6,287.5 42.6,289 42.6,290.3 42.6,290.8 42.6,292 42.7,293.6 42.7,294.3 42.7,295 42.7,296 42.7,296.8 42.8,298.3 42.8,299.4 42.8,299.9 42.8,300.9 42.8,301.8 42.9,302.7 42.9,304 42.9,304.9 42.9,305.6 42.9,306.8 42.9,308.2 43,309.2 43,309.8 43,311.1 43,312.1 43,313 43,314.5 43.1,315.7 43.1,316.5 43.1,317.8 43.1,318.7 43.1,319.3 43.1,320 43.2,321.2 43.2,322.7 43.2,323.6 43.2,324.9 43.2,326.3 43.2,327.1 43.2,327.7 43.3,328.6 43.3,329.9 43.3,330.4 43.3,331.4 43.3,332.8 43.3,333.5 43.3,334.6 43.4,336.5 43.4,337.5 43.4,337.9 43.4,338.7 43.4,340.2 43.4,341.1 43.4,341.9 43.4,343.1 43.5,344.1 43.5,345.4 43.5,346.1 43.5,347 43.5,348.4 43.5,349.1 43.6,349.7 43.6,350.8 43.6,352 43.6,352.3 43.6,353.1 43.6,354.5 43.6,355.5 43.7,356.7 43.7,357.7 43.7,359.1 43.7,360.5 43.7,361.1 43.8,362.2 43.8,363.6 43.8,364.4 43.8,364.6 43.8,365.5 43.9,367.1 43.9,367.7 43.9,368.4 43.9,369.7 43.9,370.9 44,371.9 44,372.6 44,373.4 44,374.1 44.1,375.3 44.1,376.5 44.1,377.1 44.1,377.9 44.2,379.3 44.2,380.8 44.2,381.5 44.3,382 44.3,383.3 44.3,385 44.4,386.3 44.4,387.4 44.5,388 44.5,388.9 44.5,390.3 44.6,391.2 44.6,393 44.7,394.2 44.7,394.8 44.7,395.9 44.8,397.1 44.8,398.5 44.9,399.4 44.9,400.2 45,401.3 45,402.2 45.1,403.3 45.1,404.7 45.1,405.8 45.2,406.8 45.2,407.4 45.3,408.6 45.3,410.1 45.4,411.4 45.4,412.3 45.5,412.7 45.5,413.5 45.6,414.7 45.6,416.1 45.6,417.3 45.7,418 45.7,418.8 45.8,420.4 45.8,421.5 45.9,422.2 45.9,423.1 46,423.8 46,424.5 46,425.7 46.1,427.2 46.1,428.4 46.2,429.1 46.2,429.8 46.3,430.9 46.3,431.9 46.3,432.5 46.4,433.2 46.4,434.4 46.4,434.9 46.5,435.5 46.5,436.6 46.5,437.5 46.6,438.4 46.6,439.2 46.6,440.1 46.7,441 46.7,441.6 46.8,443.4 46.8,444.7 46.9,445.6 46.9,447.1 47,448.3 47,449.1 47,450.1 47.1,451.7 47.1,452.8 47.1,453.3 47.2,454.7 47.2,456 47.2,456.5 47.2,457 47.3,457.9 47.3,458.8 47.3,459.6 47.3,460.5 47.4,461.2 47.4,462.1 47.4,462.8 47.5,463.5 47.5,464.5 47.5,465.6 47.6,466.9 47.6,468 47.7,468.6 47.7,469.9 47.7,471.2 47.8,471.7 47.8,472.7 47.9,473.6 47.9,474.8 47.9,475.8 48,476.6 48,477.7 48.1,478.9 48.1,479.5 48.2,480 48.2,480.8 48.3,481.6 48.3,483.1 48.4,484.6 48.4,485.5 48.5,486.6 48.5,487.7 48.6,489 48.6,490.3 48.7,490.9 48.7,491.9 48.8,493.4 48.8,494 48.9,494.8 48.9,496 49,496.6 49,497.8 49.1,498.8 49.2,499.9 49.2,501.1 49.3,502 49.3,503.5 49.4,504.6 49.4,505.3 49.5,506.3 49.5,507.7 49.6,508.9 49.7,509.5 49.7,510.6 49.8,511.8 49.8,512.4 49.9,513.7 50,515 50,516 50.1,516.9 50.2,517.4 50.2,518.5 50.3,520 50.4,520.9 50.4,522.2 50.5,523.3 50.6,524.4 50.6,525.6 50.7,526.1 50.8,526.8 50.8,527.9 50.9,529.1 51,530.3 51,531.2 51.1,531.9 51.2,533.5 51.2,534.7 51.3,535.3 51.4,536.7 51.4,537.7 51.5,537.8 51.6,538.9 51.6,540.2 51.7,541.3 51.7,542.1 51.8,542.9 51.8,544.4 51.9,545.6 51.9,546.6 52,547.4 52.1,548.3 52.1,549.2 52.2,550 52.2,551.3 52.3,552.9 52.3,553.9 52.3,554.4 52.4,555.1 52.4,556.2 52.5,557.8 52.5,559 52.5,559.5 52.6,560.4 52.6,561.8 52.7,562.8 52.7,563.5 52.7,564.5 52.8,565.4 52.8,567 52.8,568 52.9,568.6 52.9,570 52.9,570.9 53,571.5 53,572.5 53.1,573.5 53.1,574.4 53.1,575.3 53.2,576.2 53.2,577.2 53.3,578.6 53.3,579.4 53.4,580.1 53.5,581.3 53.5,582 53.6,582.9 53.7,584.2 53.8,585.2 53.9,586.3 53.9,587.5 54,588.8 54.1,589.6 54.2,590.5 54.3,592 54.4,592.9 54.5,593.5 54.6,594.4 54.7,595.5 54.8,596.3 54.8,597.5 54.9,598.4 55,599.3 55.1,600.5 55.2,601.4 55.3,602 55.4,603.1 55.5,604 55.5,604.5 55.6,605.4 55.7,606.9 55.8,607.8 55.8,608.4 55.9,609.7 56,611 56.1,612 56.1,613.3 56.2,614.5 56.2,615.5 56.3,616.4 56.4,617.5 56.4,618.3 56.5,619.2 56.5,620.5 56.6,620.9 56.7,621.4 56.7,622.8 56.8,624.4 56.9,625.3 56.9,625.7 57,626.4 57,627.8 57.1,629.1 57.2,629.9 57.3,631 57.3,632 57.4,633.2 57.5,634 57.6,634.6 57.7,636.2 57.8,637.1 57.9,637.7 58,638.8 58,640.3 58.1,641.5 58.2,642.4 58.4,643.1 58.5,643.8 58.6,645.1 58.7,646.2 58.8,647 58.9,647.4 59,648.7 59.1,650.3 59.2,651.3 59.3,651.8 59.4,652.4 59.5,653.6 59.6,654.7 59.7,656 59.8,657 59.9,657.7 60,658.7 60.1,659.4 60.2,660.8 60.3,662.3 60.4,662.9 60.5,664 60.6,664.7 60.6,666.1 60.7,667.4 60.8,667.8 60.9,668.9 61,670.5 61.1,671.8 61.1,673 61.2,674.2 61.3,675.2 61.4,676.3 61.5,677 61.5,677.9 61.6,679.4 61.7,680.4 61.8,681.3 61.8,682.1 61.9,682.9 62,683.5 62.1,684.4 62.2,685.9 62.2,687.1 62.3,687.5 62.4,687.8 62.6,689.5 62.8,691 63,692.4 63.3,693.6 63.5,694.8 63.7,695 63.9,695.2 64.1,696.2 64.3,697.2 64.5,698.1 64.9,699.8 65.2,700.7 65.6,701.4 65.9,702.4 66.3,703 67.1,704.3 67.9,705.5 68.7,705.7 69.3,704.9 69.8,704.1 70.4,703.4 71,701.7 71.4,700.9 71.8,700.3 72.2,699.2 72.6,698.2 73.1,697.6 73.5,696 73.8,694.8 74.2,694 74.5,693.1 74.8,693 75.2,691.6 75.5,690.6 75.9,689.9 76.3,688.1 76.5,687.2 76.7,686.4 76.9,685.6 77.1,684.7 77.3,684 77.5,683.2 77.7,681.7 77.9,680.8 78.1,680.4 78.3,679.5 78.5,678 78.7,676.1 79,674.8 79.2,674.1 79.4,673.1 79.6,671.7 79.8,670.8 80,670.4 80.2,668.9 80.4,667.5 80.6,666.6 80.8,665.8 81,665.4 81.2,663.8 81.4,662.9 81.6,662.7 81.8,661 82,660.2 82.2,659.8 82.4,658.5 82.6,657.3 82.7,655.9 82.9,655 83.1,654 83.3,652.9 83.5,652.4 83.7,651.3 83.9,649.8 84.1,649 84.2,648.5 84.4,647.6 84.6,646.3 84.8,645.4 84.9,644.9 85.1,643.4 85.3,642.2 85.5,640.8 85.7,639.5 85.8,638.7 86,637.8 86.2,636.9 86.4,635.3 86.5,634.6 86.7,634 86.9,633.1 87.1,632.8 87.2,631.6 87.4,630.2 87.6,629.1 87.8,627.7 87.9,626.7 88.1,626.4 88.3,625.5 88.5,624 88.6,623.2 88.8,622.6 89,620.9 89.1,619.9 89.3,618.9 89.5,617.7 89.6,616.9 89.8,616.6 90,616.3 90.1,614.3 90.3,612.6 90.4,612 90.6,611.2 90.7,610.3 90.8,609 91,608 91.1,606.9 91.3,605.6 91.4,605 91.5,604.3 91.7,602.9 91.8,602.1 92,601.1 92.2,599.7 92.3,598.8 92.5,598.2 92.7,597.1 92.9,596.4 93,595.6 93.2,594.3 93.4,593.8 93.6,592.8 93.8,591.5 94,590.6 94.2,590.2 94.4,589.7 94.6,588.7 94.8,587.2 95,585.7 95.2,584.6 95.4,583.6 95.6,582.6 95.9,581.5 96.1,579.8 96.2,579.2 96.4,578.4 96.5,577.4 96.6,576.4 96.8,575.8 96.9,575.2 97.1,574 97.2,573.2 97.4,572.4 97.5,570.6 97.7,569.3 97.8,568.3 98,567 98.2,566.1 98.3,564.7 98.5,563.3 98.6,562.7 98.8,562 99,561 99.1,559.8 99.3,558.5 99.4,557.3 99.6,556.3 99.7,555.1 99.9,554.2 100,553.1 100.1,551.8 100.3,550.6 100.4,550 100.5,549.4 100.7,548.4 100.8,547.7 100.9,546.7 101.1,545.4 101.3,544.5 101.4,543.2 101.6,541.5 101.7,540.7 101.9,540.4 102,539.3 102.1,538.7 102.3,537.3 102.4,536.5 102.5,535.8 102.6,534.6 102.7,534.2 102.9,532.7 103,531.6 103.1,530.8 103.2,529.9 103.4,528.7 103.5,528.1 103.6,527.7 103.8,526 103.9,524.6 104.1,524.1 104.2,523.1 104.3,521.9 104.5,520.7 104.6,519.6 104.8,518.3 104.9,517.2 105,516.5 105.2,515 105.3,514.6 105.5,514.1 105.6,512.6 105.8,511.1 106,510.6 106.1,509.3 106.3,507.9 106.5,507.1 106.7,506.2 106.9,505.3 107.1,504.3 107.3,502.9 107.5,502 107.7,501.5 107.9,500.3 108.1,499.7 108.3,498.7 108.5,497.1 108.7,496.9 108.9,495.7 109.1,494 109.4,492.6 109.6,491.6 109.8,490.9 110,489.9 110.2,488.7 110.4,488 110.6,487.6 110.8,486.4 111,485.1 111.2,483.2 111.5,482.3 111.7,481.9 111.9,480.5 112.1,480 112.3,479.2 112.5,477.7 112.8,476.7 113,475.8 113.1,474.8 113.3,474 113.5,472.9 113.7,471.6 113.8,470.4 114,469.8 114.2,469 114.4,468.1 114.5,466.6 114.6,464.9 114.8,463.8 114.9,463.9 115,463.7 115.1,462.3 115.2,461.1 115.3,460.9 115.4,460.3 115.6,458.7 115.8,457.1 116,456.3 116.1,455.5 116.3,453.9 116.5,453.6 116.7,453 116.9,451.7 117.1,450.1 117.3,448.7 117.6,447.9 117.8,447 118,446.2 118.2,445.1 118.4,443.8 118.7,443.2 118.9,442 119.1,440.6 119.3,440 119.5,439.1 119.7,437.8 119.9,436.8 120.1,435.8 120.2,434.5 120.4,433.7 120.6,433.4 120.7,432 120.9,429.9 121,428.7 121.2,427.6 121.3,427.1 121.5,426.3 121.7,425.1 121.8,424 122,423.1 122.2,422.4 122.3,422.1 122.5,421.1 122.7,419.5 122.9,418.2 123.1,417.5 123.3,417.1 123.5,415.7 123.8,414.6 124,413.9 124.2,411.8 124.4,411.3 124.7,411.3 124.9,409.1 125.2,407.1 125.4,406.7 125.6,406.2 125.9,405.3 126.1,404.3 126.4,403.6 126.6,402.5 126.9,401.2 127.1,400.6 127.4,399.4 127.7,398.4 127.9,397.6 128.2,396.2 128.5,395 128.8,393 129.1,391.7 129.4,392.2 129.7,391.4 130,389.3 130.2,388.3 130.5,387.5 130.8,387.3 131.1,386 131.4,383.9 131.6,383.6 131.9,382.2 132.1,380.4 132.3,379.7 132.5,379.2 132.7,378.9 132.9,378.6 133.1,377.4 133.2,376.6 133.3,374.8 133.4,373.6 133.5,373.2 133.6,372.1 133.7,371.3 133.8,369.6 134,369.1 134.3,369.2 134.6,367.6 134.8,365.9 135.1,365.8 135.4,364.3 135.7,362.7 136,362.4 136.4,361.1 136.7,360.8 137.1,360 137.4,359 137.8,358.3 138.2,357.4 138.6,356.7 139,355.5 139.4,354.1 139.8,352.7 140.2,351.3 140.5,350.5 140.9,350.2 141.3,348.8 141.6,347.7 141.9,346.7 142.3,345.5 142.6,344.4 142.9,343.5 143.2,343.4 143.5,342.6 143.9,340.4 144.2,339.6 144.5,339.2 144.8,338.5 145.1,338 145.4,336.8 145.7,335.4 146,334.2 146.4,333.1 146.7,332.1 147,331.7 147.3,330.1 147.7,328.7 148,328.7 148.3,327.4 148.7,326 149,325.7 149.4,324.8 149.7,323.9 150.1,323 150.4,322.2 150.8,320.8 151.2,319.4 151.5,318.7 151.9,317 152.2,315.6 152.6,315.5 153,314.9 153.3,313.9 153.7,312.9 154,311.7 154.4,311.2 154.7,309.6 155.1,307.7 155.7,307.4 156.2,307.3 156.7,306.7 157.3,306 157.8,305.1 158.3,303.6 158.9,303 159.4,302.9 160,301.5 160.6,299.8 161.3,299.1 162,299.1 162.4,298.6 162.9,298.1 163.4,297.2 163.9,295.6 164.4,294.7 164.9,294.2 165.4,293.8 165.9,293.3 166.5,292.3 167,290.5 167.6,289.3 168.1,289.1 168.7,288.5 169.3,287.5 169.9,286.4 170.4,285.2 171,284.3 171.6,283.3 172.2,282.7 172.8,282.8 173.3,282 173.8,280.4 174.3,278.7 174.8,278.1 175.2,278 175.7,277.6 176.2,277.1 176.6,276.4 177.1,274.8 177.6,273.6 178.1,273.7 178.6,272.3 179.1,271.6 179.6,270.2 180.2,268.9 180.8,268.4 181.4,267.8 182,266.1 182.7,265.3 183.4,266.1 184.1,264.2 184.9,262.9 185.7,262.1 186.3,261.4 186.8,261.8 187.4,260 188.1,259.6 188.7,259.5 189.3,258 190,257.7 190.7,257.4 191.4,256.3 192.1,255.4 192.8,255 193.5,253.4 194.3,252.4 195,252.3 195.8,251.5 196.5,251 197.3,249.9 198.1,247.9 198.9,247.7 199.7,248.1 200.4,247 201.2,245.8 202,246.3 202.8,245.9 203.6,243.4 204.4,242.9 205.2,243 206,241.4 206.8,240.8 207.5,239.8 208.3,238.6 209.1,239.6 209.8,239.9 210.6,239.1 211.3,238.3 212.2,237 213.1,236 214,236.2 215,234.6 215.9,233.8 216.8,234.6 217.7,234.5 218.6,234.1 219.6,233.5 220.5,233 221.4,231.4 222.3,229.9 223.2,229.7 224.1,229 225.1,229.4 226,230.8 226.9,230.6 227.8,229.4 228.7,228.8 229.7,228.3 230.6,227.6 231.5,227.9 232.4,226.6 233.3,225.2 234.2,225.7 235.2,227.6 236.1,227.4 237,225.7 238,225.8 238.9,224.7 239.9,222.1 240.8,221.3 241.8,221.7 242.7,223.3 243.6,223.5 244.5,221.9 245.4,221.6 246.3,221.3 247.2,221.2 248.1,221.1 249.1,221.7 250,221.6 250.9,219.6 251.9,219.8 252.9,220.9 253.8,219.9 254.9,219.5 255.9,219.1 257,220.3 258,221.3 259.2,219.8 260.3,218.3 261.5,218.3 262.7,219.1 263.5,218.6 264.4,217.9 265.3,219.1 266.2,218.9 267,218.1 267.9,219.1 268.8,217.6 269.8,216.8 270.7,218.2 271.6,218 272.6,216.1 273.5,216.5 274.5,218.9 275.4,218.7 276.4,217.4 277.4,216.4 278.4,216 279.4,216.8 280.4,215.9 281.4,214.8 282.5,215.7 283.5,216.3 284.6,216.2 285.6,216.1 286.7,217 287.7,216.9 288.8,215.7 289.9,215.1 291,214.4 292.1,214.8 293.2,217.3 294.3,218.1 295.5,215.1 296.6,215.3 297.7,216.2 298.9,213.9 300,213.9 301.2,214 302.1,213.1 303,213 304,213.3 305,212.3 306,213 307,215.8 308,214.7 309.1,213.3 310.2,213.6 311.3,213.2 312.4,212.5 313.5,213.1 314.7,213.9 315.8,212.9 317,212.4 318.1,212.8 319.3,211.6 320.5,211.1 321.6,209.9 322.8,208.8 324,210.4 325.2,211.6 326.3,212 327.5,212.6 328.7,210.6 329.8,209.4 331,208.8 332.1,208.3 333.2,209 334.3,209.2 335.4,209.4 336.5,208.9 337.5,208.3 338.6,208.1 339.6,209.6 340.6,210.1 341.6,208.8 342.5,206.6 343.4,204.9 344.3,206.1 345.2,207.8 346,208.2 346.8,208 347.5,206.7 348.3,204.9 349,206.1 349.6,208 350.2,208.2 350.8,206.2 351.3,205.6" fill="none" stroke="#000" stroke-width="3.2" stroke-linejoin="round" stroke-linecap="round"/>
<path d="M7,126.5 C7.2,124.6 9.5,123.6 13,123.7 C18,124.4 26,124.4 31,125 C34,125.4 36.5,127.5 38.5,130.5 L38.5,134 C36.5,137 34,138.4 30,138.4 C24,138.3 18,138 14,138.2 C10,138.3 7.5,137.4 7,135.5 Z" fill="#000"/>
<path d="M181,615.8V687.4H331.4" fill="none" stroke="#000" stroke-width="3.3" stroke-linecap="round" stroke-linejoin="round"/>
<line x1="542.9" y1="130.3" x2="542.9" y2="683" stroke="#000" stroke-width="2"/>
<line x1="542" y1="682" x2="973.5" y2="682" stroke="#000" stroke-width="2"/>
<line x1="527.3" y1="213.7" x2="543" y2="213.7" stroke="#000" stroke-width="2"/>
<line x1="527.3" y1="372.9" x2="543" y2="372.9" stroke="#000" stroke-width="2"/>
<line x1="527.3" y1="528" x2="543" y2="528" stroke="#000" stroke-width="2"/>
<line x1="542.9" y1="682" x2="542.9" y2="696.5" stroke="#000" stroke-width="2"/>
<line x1="626.9" y1="682" x2="626.9" y2="696.5" stroke="#000" stroke-width="2"/>
<line x1="715.7" y1="682" x2="715.7" y2="696.5" stroke="#000" stroke-width="2"/>
<line x1="804.4" y1="682" x2="804.4" y2="696.5" stroke="#000" stroke-width="2"/>
<line x1="887.3" y1="682" x2="887.3" y2="696.5" stroke="#000" stroke-width="2"/>
<line x1="972.6" y1="682" x2="972.6" y2="696.5" stroke="#000" stroke-width="2"/>
<line x1="715.5" y1="635" x2="715.5" y2="650" stroke="#ff0000" stroke-width="1.9"/>
<line x1="709.8" y1="635" x2="721.2" y2="635" stroke="#ff0000" stroke-width="1.9"/>
<line x1="709.8" y1="650" x2="721.2" y2="650" stroke="#ff0000" stroke-width="1.9"/>
<line x1="801.5" y1="576" x2="801.5" y2="592" stroke="#ff0000" stroke-width="1.9"/>
<line x1="795.8" y1="576" x2="807.2" y2="576" stroke="#ff0000" stroke-width="1.9"/>
<line x1="795.8" y1="592" x2="807.2" y2="592" stroke="#ff0000" stroke-width="1.9"/>
<line x1="836.5" y1="512" x2="836.5" y2="530" stroke="#ff0000" stroke-width="1.9"/>
<line x1="830.8" y1="512" x2="842.2" y2="512" stroke="#ff0000" stroke-width="1.9"/>
<line x1="830.8" y1="530" x2="842.2" y2="530" stroke="#ff0000" stroke-width="1.9"/>
<line x1="862.3" y1="369.7" x2="862.3" y2="474.7" stroke="#ff0000" stroke-width="1.9"/>
<line x1="856.5" y1="369.7" x2="868" y2="369.7" stroke="#ff0000" stroke-width="1.9"/>
<line x1="856.5" y1="474.7" x2="868" y2="474.7" stroke="#ff0000" stroke-width="1.9"/>
<line x1="889.5" y1="252.4" x2="889.5" y2="426.3" stroke="#ff0000" stroke-width="1.9"/>
<line x1="883.8" y1="252.4" x2="895.2" y2="252.4" stroke="#ff0000" stroke-width="1.9"/>
<line x1="883.8" y1="426.3" x2="895.2" y2="426.3" stroke="#ff0000" stroke-width="1.9"/>
<line x1="924.5" y1="204" x2="924.5" y2="381.6" stroke="#ff0000" stroke-width="1.9"/>
<line x1="918.8" y1="204" x2="930.2" y2="204" stroke="#ff0000" stroke-width="1.9"/>
<line x1="918.8" y1="381.6" x2="930.2" y2="381.6" stroke="#ff0000" stroke-width="1.9"/>
<line x1="950.8" y1="258" x2="950.8" y2="423.3" stroke="#ff0000" stroke-width="1.9"/>
<line x1="945" y1="258" x2="956.5" y2="258" stroke="#ff0000" stroke-width="1.9"/>
<line x1="945" y1="423.3" x2="956.5" y2="423.3" stroke="#ff0000" stroke-width="1.9"/>
<rect x="620.3" y="662" width="12.4" height="22" fill="#ff0000"/>
<rect x="709.3" y="630.6" width="12.4" height="22" fill="#ff0000"/>
<rect x="795.3" y="573" width="12.4" height="22" fill="#ff0000"/>
<rect x="830.3" y="509.7" width="12.4" height="22" fill="#ff0000"/>
<rect x="856.1" y="411" width="12.4" height="22" fill="#ff0000"/>
<rect x="883.3" y="327.8" width="12.4" height="22" fill="#ff0000"/>
<rect x="918.3" y="283" width="12.4" height="22" fill="#ff0000"/>
<rect x="944.6" y="329.6" width="12.4" height="22" fill="#ff0000"/>
<line x1="715.5" y1="593" x2="715.5" y2="631.4" stroke="#000" stroke-width="2.2"/>
<line x1="709.8" y1="593" x2="721.2" y2="593" stroke="#000" stroke-width="2.2"/>
<line x1="709.8" y1="631.4" x2="721.2" y2="631.4" stroke="#000" stroke-width="2.2"/>
<line x1="802" y1="606" x2="802" y2="622" stroke="#000" stroke-width="2.2"/>
<line x1="796.2" y1="606" x2="807.8" y2="606" stroke="#000" stroke-width="2.2"/>
<line x1="796.2" y1="622" x2="807.8" y2="622" stroke="#000" stroke-width="2.2"/>
<line x1="863" y1="443" x2="863" y2="502.2" stroke="#000" stroke-width="2.2"/>
<line x1="857.2" y1="443" x2="868.8" y2="443" stroke="#000" stroke-width="2.2"/>
<line x1="857.2" y1="502.2" x2="868.8" y2="502.2" stroke="#000" stroke-width="2.2"/>
<line x1="889.5" y1="409.5" x2="889.5" y2="468.4" stroke="#000" stroke-width="2.2"/>
<line x1="883.8" y1="409.5" x2="895.2" y2="409.5" stroke="#000" stroke-width="2.2"/>
<line x1="883.8" y1="468.4" x2="895.2" y2="468.4" stroke="#000" stroke-width="2.2"/>
<line x1="924.5" y1="291.5" x2="924.5" y2="409.5" stroke="#000" stroke-width="2.2"/>
<line x1="918.8" y1="291.5" x2="930.2" y2="291.5" stroke="#000" stroke-width="2.2"/>
<line x1="918.8" y1="409.5" x2="930.2" y2="409.5" stroke="#000" stroke-width="2.2"/>
<line x1="950.8" y1="303.4" x2="950.8" y2="392.8" stroke="#000" stroke-width="2.2"/>
<line x1="945" y1="303.4" x2="956.5" y2="303.4" stroke="#000" stroke-width="2.2"/>
<line x1="945" y1="392.8" x2="956.5" y2="392.8" stroke="#000" stroke-width="2.2"/>
<line x1="626.5" y1="668" x2="626.5" y2="697" stroke="#000" stroke-width="3.5"/>
<path d="M626.5,665 L632.9,687 L620.1,687 Z" fill="#000"/>
<path d="M715.5,603 L721.9,625 L709.1,625 Z" fill="#000"/>
<path d="M802,602.7 L808.4,624.7 L795.6,624.7 Z" fill="#000"/>
<path d="M836.5,512 L842.9,534 L830.1,534 Z" fill="#000"/>
<path d="M863,461.5 L869.4,483.5 L856.6,483.5 Z" fill="#000"/>
<path d="M889.5,429.7 L895.9,451.7 L883.1,451.7 Z" fill="#000"/>
<path d="M924.5,340.5 L930.9,362.5 L918.1,362.5 Z" fill="#000"/>
<path d="M950.8,338 L957.2,360 L944.4,360 Z" fill="#000"/>
<path d="M626.9,655.9 628.8,655.8 630.6,655.8 632.5,655.8 634.3,655.8 636.2,655.8 638,655.8 639.9,655.8 641.7,655.8 643.6,655.8 645.4,655.8 647.3,655.8 649.1,655.7 651,655.7 652.8,655.7 654.7,655.7 656.5,655.7 658.4,655.7 660.2,655.7 662.1,655.6 663.9,655.6 665.8,655.6 667.6,655.6 669.5,655.5 671.3,655.5 673.2,655.5 675,655.4 676.9,655.4 678.7,655.4 680.6,655.3 682.4,655.3 684.3,655.2 686.1,655.2 688,655.1 689.8,655.1 691.7,655 693.5,654.9 695.4,654.9 697.2,654.8 699.1,654.7 700.9,654.6 702.8,654.5 704.6,654.4 706.5,654.3 708.3,654.2 710.2,654.1 712,653.9 713.9,653.8 715.7,653.6 717.6,653.4 719.4,653.3 721.3,653.1 723.1,652.9 725,652.6 726.8,652.4 728.7,652.1 730.5,651.9 732.4,651.6 734.2,651.2 736.1,650.9 737.9,650.5 739.7,650.1 741.6,649.7 743.4,649.3 745.3,648.8 747.1,648.3 749,647.7 750.8,647.1 752.7,646.5 754.5,645.8 756.4,645.1 758.2,644.3 760.1,643.5 761.9,642.6 763.8,641.7 765.6,640.7 767.5,639.6 769.3,638.5 771.2,637.3 773,636 774.9,634.6 776.7,633.1 778.6,631.6 780.4,629.9 782.3,628.1 784.1,626.3 786,624.3 787.8,622.2 789.7,619.9 791.5,617.6 793.3,615.1 795.2,612.4 797,609.7 798.9,606.7 800.7,603.6 802.6,600.4 804.4,597 806.2,593.4 807.9,589.7 809.6,585.8 811.3,581.8 813.1,577.5 814.8,573.1 816.5,568.5 818.3,563.8 820,558.9 821.7,553.9 823.4,548.7 825.2,543.3 826.9,537.8 828.6,532.2 830.3,526.5 832.1,520.6 833.8,514.7 835.5,508.6 837.3,502.5 839,496.4 840.7,490.2 842.4,484 844.2,477.8 845.9,471.6 847.6,465.4 849.4,459.2 851.1,453.2 852.8,447.1 854.5,441.2 856.3,435.4 858,429.7 859.7,424.1 861.4,418.6 863.2,413.3 864.9,408.1 866.6,403.1 868.4,398.2 870.1,393.5 871.8,389 873.5,384.6 875.3,380.4 877,376.4 878.7,372.5 880.4,368.7 882.2,365.1 883.9,361.6 885.6,358.3 887.4,355.2 889.1,352.3 890.9,349.4 892.7,346.8 894.5,344.2 896.2,341.9 898,339.6 899.8,337.5 901.6,335.5 903.4,333.6 905.1,331.8 906.9,330.1 908.7,328.5 910.5,327 912.2,325.6 914,324.3 915.8,323.1 917.6,322 919.4,320.9 921.1,319.9 922.9,318.9 924.7,318 926.5,317.2 928.2,316.4 930,315.7 931.8,315 933.6,314.4 935.3,313.8 937.1,313.2 938.9,312.7 940.7,312.2 942.5,311.8 944.2,311.4 946,311 947.8,310.6 949.6,310.3" fill="none" stroke="#ff0000" stroke-width="5.8" stroke-linejoin="round" stroke-linecap="round"/>
<path d="M626.9,649.3 628.8,649.2 630.6,649.1 632.5,649.1 634.3,649 636.2,648.9 638,648.9 639.9,648.8 641.7,648.7 643.6,648.6 645.4,648.5 647.3,648.4 649.1,648.3 651,648.3 652.8,648.1 654.7,648 656.5,647.9 658.4,647.8 660.2,647.7 662.1,647.6 663.9,647.4 665.8,647.3 667.6,647.2 669.5,647 671.3,646.9 673.2,646.7 675,646.5 676.9,646.4 678.7,646.2 680.6,646 682.4,645.8 684.3,645.6 686.1,645.4 688,645.1 689.8,644.9 691.7,644.7 693.5,644.4 695.4,644.1 697.2,643.9 699.1,643.6 700.9,643.3 702.8,643 704.6,642.6 706.5,642.3 708.3,642 710.2,641.6 712,641.2 713.9,640.8 715.7,640.4 717.6,640 719.4,639.5 721.3,639.1 723.1,638.6 725,638.1 726.8,637.6 728.7,637 730.5,636.5 732.4,635.9 734.2,635.3 736.1,634.6 737.9,634 739.7,633.3 741.6,632.6 743.4,631.8 745.3,631.1 747.1,630.3 749,629.4 750.8,628.6 752.7,627.7 754.5,626.8 756.4,625.8 758.2,624.8 760.1,623.8 761.9,622.7 763.8,621.6 765.6,620.5 767.5,619.3 769.3,618.1 771.2,616.8 773,615.5 774.9,614.1 776.7,612.7 778.6,611.3 780.4,609.8 782.3,608.2 784.1,606.6 786,604.9 787.8,603.2 789.7,601.5 791.5,599.7 793.3,597.8 795.2,595.9 797,593.9 798.9,591.9 800.7,589.8 802.6,587.6 804.4,585.4 806.2,583.1 807.9,580.8 809.6,578.4 811.3,575.9 813.1,573.4 814.8,570.8 816.5,568.2 818.3,565.5 820,562.8 821.7,559.9 823.4,557.1 825.2,554.2 826.9,551.2 828.6,548.1 830.3,545 832.1,541.9 833.8,538.7 835.5,535.5 837.3,532.2 839,528.8 840.7,525.5 842.4,522 844.2,518.5 845.9,515 847.6,511.5 849.4,507.9 851.1,504.3 852.8,500.7 854.5,497 856.3,493.3 858,489.6 859.7,485.9 861.4,482.2 863.2,478.5 864.9,474.8 866.6,471.1 868.4,467.4 870.1,463.7 871.8,460 873.5,456.3 875.3,452.6 877,449 878.7,445.3 880.4,441.8 882.2,438.2 883.9,434.7 885.6,431.2 887.4,427.7 889.1,424.3 890.9,420.9 892.7,417.6 894.5,414.3 896.2,411 898,407.9 899.8,404.7 901.6,401.6 903.4,398.6 905.1,395.6 906.9,392.7 908.7,389.8 910.5,387 912.2,384.3 914,381.6 915.8,379 917.6,376.4 919.4,373.9 921.1,371.5 922.9,369 924.7,366.6 926.5,364.3 928.2,362.1 930,359.9 931.8,357.7 933.6,355.6 935.3,353.6 937.1,351.7 938.9,349.8 940.7,347.9 942.5,346.1 944.2,344.4 946,342.7 947.8,341.1 949.6,339.5" fill="none" stroke="#000" stroke-width="6.0" stroke-linejoin="round" stroke-linecap="round"/>
<rect x="1002.7" y="434.4" width="13.3" height="23.5" fill="#ff0000"/>
<path d="M1009.3,498 L1016,520 L1002.7,520 Z" fill="#000"/>
<line x1="94" y1="869.8" x2="456.5" y2="869.8" stroke="#000" stroke-width="3.1"/>
<path d="M130.3,916.3H480" stroke="#000" stroke-width="5.6" stroke-dasharray="5.4 12.63" fill="none" stroke-linejoin="round"/>
<path d="M3.6,919.3 4,911.9 4.5,916.7 4.9,915.1 5.5,915.3 6,915.7 6.5,912.8 7.1,915.6 7.7,914.6 8.3,921.3 9,916.3 9.7,915.4 10.3,915.5 11.1,914.9 11.8,914.3 12.5,915.3 13.3,916.7 14.1,915.6 14.9,921.1 15.7,915.6 16.5,916 17.3,918.4 18.2,916.8 19.1,915.1 19.9,911.8 20.8,916.8 21.7,919 22.6,913 23.5,915.5 24.4,917.5 25.4,914.5 26.3,915.5 27.2,917.3 28.2,916.9 29.1,916.1 30.1,917 31,911.4 32,917.6 32.9,914.4 33.9,913.3 34.8,916.4 35.8,917 36.7,915.2 37.6,916.5 38.6,916 39.5,915.8 40.4,918.2 41.4,917.1 42.3,916.3 43.2,917.7 44.1,915.6 44.9,914.5 45.8,916.9 46.7,914.7 47.5,915.6 48.4,914.7 49.2,916.4 50,912 50.8,917.1 51.7,916.8 52.5,913.4 53.4,916.1 54.2,914.5 55.1,917.3 56,912.8 56.9,914.6 57.7,917.2 58.6,918 59.5,912.7 60.5,915.4 61.4,913.5 62.3,915.2 63.2,918.7 64.1,914.3 65,916.8 66,914.6 66.9,918.5 67.8,916.2 68.7,915.7 69.7,913.6 70.6,919 71.5,913.1 72.4,917.6 73.3,918.2 74.2,917 75.1,915.4 76,915.2 76.9,915.2 77.7,918.7 78.6,914.2 79.4,915.6 80.3,916 81.1,916.9 81.9,917.5 82.7,914.6 83.5,913.9 84.3,916.7 85.1,918.6 85.9,917.9 86.6,917.1 87.3,916.2 88,917.2 88.7,916.4 89.4,918.1 90,915.6 90.7,917.1 91.3,916.7 91.9,917.8 92.5,917.3 93,921 93.6,919.3 94.1,917.4 94.5,913.7 95,916.5 98.1,916.1 99.6,918 99.9,913.5 99.7,919.1 99.6,919.2 100,915.9 100.5,916.9 101.1,917.5 101.6,919.2 102.2,920.4 102.8,922.7 103.4,920.4 103.9,922.1 104.5,922.2 105,924.7 105.5,924.6 106,926.3 106.2,924.6 106.4,926 106.6,926 106.8,928.7 106.9,928.7 107.1,928.5 107.3,929.2 107.4,930.7 107.6,930.5 107.8,931.1 107.9,933 108.1,935.3 108.2,934.2 108.4,934.8 108.5,935.3 108.7,936.1 108.8,938.2 109,939.2 109.1,939.6 109.3,940.7 109.4,941.5 109.6,942.4 109.7,942.4 109.8,943.9 110,945.1 110.1,945.3 110.3,946.3 110.4,946.8 110.5,947.8 110.6,949.1 110.7,949.3 110.9,950.2 111,951.4 111.1,952.1 111.2,953.2 111.4,952.6 111.5,954.5 111.6,954.8 111.7,955.8 111.8,956.8 112,957.7 112.1,958.5 112.2,959 112.3,960.3 112.4,960.6 112.5,961.4 112.7,962.6 112.8,963 112.9,964.7 113,965.2 113.1,966.5 113.2,966.7 113.4,967.5 113.5,968.5 113.6,969.6 113.7,969.9 113.8,971 113.9,971.6 114,972.8 114,972.8 114.1,974.1 114.2,974.3 114.3,974.9 114.4,975.7 114.5,976.3 114.5,977.5 114.6,978.5 114.7,978.9 114.8,979.8 114.9,980.9 114.9,981.2 115,982 115.1,982.6 115.2,983 115.3,984.5 115.3,984.5 115.4,986 115.5,986.7 115.6,987.8 115.7,988.3 115.8,988.9 115.9,990.1 116,990.7 116,991.6 116.1,992.6 116.2,993.4 116.3,994.3 116.4,995 116.6,996.1 116.7,996.5 116.8,998 116.9,998.7 117,1000.3 117.1,1001.1 117.2,1000.8 117.3,1002.1 117.3,1002.7 117.4,1003.1 117.5,1004.3 117.6,1004.7 117.7,1005 117.8,1006.1 117.9,1006.8 118,1007.6 118.1,1007.9 118.2,1009.2 118.3,1009.9 118.4,1010.1 118.5,1011 118.6,1011.9 118.7,1012.4 118.8,1013.9 118.9,1014.2 119,1014.5 119.1,1015.3 119.2,1016.3 119.3,1017.8 119.4,1017.8 119.5,1018.7 119.6,1019.6 119.7,1020.2 119.8,1021.7 119.9,1021.6 120.1,1022.8 120.2,1023.4 120.3,1024.4 120.4,1024.6 120.5,1026.4 120.6,1026.6 120.7,1027.5 120.8,1028 120.9,1029 121,1030.2 121.1,1031.2 121.2,1032 121.4,1033.1 121.5,1033.8 121.6,1034.5 121.7,1035.6 121.8,1036.5 121.9,1037.2 122,1038.4 122.1,1039.5 122.2,1040.2 122.3,1040.9 122.4,1042.2 122.5,1043.6 122.6,1043.9 122.7,1044.6 122.7,1045.3 122.8,1046.4 122.9,1046.2 122.9,1047.5 123,1048.5 123.1,1048.6 123.1,1050 123.2,1050.4 123.3,1050.8 123.3,1051.7 123.4,1051.9 123.5,1052.9 123.5,1054.4 123.6,1054.3 123.7,1055.9 123.7,1056 123.8,1057.1 123.9,1057.5 123.9,1057.6 124,1058.9 124.1,1059.8 124.1,1060.2 124.2,1060.9 124.3,1062.2 124.3,1062.7 124.4,1063.1 124.5,1064.2 124.5,1065.5 124.6,1065.8 124.7,1067.1 124.7,1068 124.8,1068.4 124.9,1068.8 124.9,1069.6 125,1070.7 125.1,1071.8 125.1,1072.5 125.2,1073.3 125.3,1073.9 125.3,1074.9 125.4,1075.5 125.5,1076.4 125.5,1076.9 125.6,1077.6 125.7,1078.8 125.7,1079.4 125.8,1080.3 125.9,1081.6 125.9,1082.2 126,1084 126.1,1084.2 126.1,1084.6 126.2,1085.9 126.3,1086.6 126.3,1087.1 126.4,1088.5 126.5,1088.8 126.5,1089 126.6,1091 126.7,1091.4 126.7,1093 126.8,1093.2 126.8,1093.9 126.9,1095.6 127,1095.6 127,1096.9 127.1,1098.1 127.2,1098.6 127.2,1099.4 127.3,1100.4 127.4,1101.5 127.4,1101.8 127.5,1103.1 127.6,1104 127.6,1105.4 127.7,1105.5 127.7,1106.2 127.8,1107.6 127.9,1108.1 127.9,1109.2 128,1110 128.1,1111.1 128.1,1111.3 128.2,1112.2 128.2,1112.2 128.3,1113.5 128.3,1115 128.4,1115.1 128.4,1115.9 128.5,1116.5 128.5,1117.8 128.6,1118.5 128.6,1118.9 128.7,1120.3 128.8,1120.9 128.8,1121.9 128.9,1122.3 128.9,1123.8 129,1124.2 129,1124.9 129.1,1125.6 129.1,1126.5 129.2,1127.7 129.2,1128.2 129.3,1129.4 129.4,1130.1 129.4,1131.2 129.5,1131.9 129.5,1132.4 129.6,1132.7 129.6,1134.2 129.7,1135.2 129.7,1135.9 129.8,1136.9 129.8,1137.4 129.9,1138.3 130,1139 130,1140.6 130.1,1141 130.1,1141.7 130.2,1142.3 130.2,1143.5 130.3,1144.9 130.3,1145.4 130.4,1145.9 130.4,1147.5 130.5,1148.3 130.5,1149 130.6,1149.8 130.7,1150.8 130.7,1151.5 130.8,1152.4 130.8,1152.8 130.9,1154.3 130.9,1154.8 131,1156.2 131,1155.8 131.1,1157.5 131.1,1158.4 131.2,1158.9 131.2,1160 131.3,1160.9 131.3,1161.7 131.4,1162.2 131.4,1163.1 131.5,1164.3 131.5,1165.2 131.6,1165.7 131.6,1166.5 131.7,1167.4 131.7,1168.4 131.8,1168.6 131.8,1169.3 131.9,1170.6 131.9,1171 132,1171.9 132,1172.9 132.1,1173.9 132.1,1174.2 132.2,1175.5 132.2,1175.5 132.3,1177 132.3,1177.1 132.3,1177.9 132.4,1179.3 132.4,1179.7 132.5,1180.3 132.5,1181.2 132.6,1182.2 132.6,1182.8 132.7,1183.5 132.7,1184.5 132.7,1184.7 132.8,1185.5 132.8,1186.1 132.9,1187.3 132.9,1188 133,1188.7 133,1189 133.1,1190 133.1,1191.3 133.2,1191.9 133.2,1193.2 133.3,1194.1 133.4,1194.6 133.4,1195.6 133.5,1196.5 133.5,1197.9 133.6,1199 133.6,1199 133.7,1199.9 133.7,1199.9 133.8,1201.5 133.8,1202.2 133.9,1202.6 133.9,1203.9 134,1203.9 134,1205.1 134,1205.9 134.1,1206.2 134.1,1207.5 134.2,1208.3 134.2,1208.2 134.3,1208.9 134.3,1210.2 134.3,1210.7 134.4,1211 134.4,1211.9 134.5,1212.7 134.5,1213.3 134.6,1214.3 134.6,1214.8 134.6,1215.9 134.7,1216.5 134.7,1217 134.8,1217.8 134.8,1218.6 134.8,1219.1 134.9,1219.2 134.9,1220.5 135,1221 135,1222.2 135,1222.5 135.1,1223.4 135.1,1224.1 135.2,1225.3 135.2,1225.6 135.3,1226.3 135.3,1227.3 135.4,1227.9 135.4,1229 135.5,1229.8 135.5,1230.8 135.6,1232.2 135.6,1232.4 135.7,1233.5 135.7,1234.4 135.8,1235.7 135.8,1236.1 135.9,1237.3 135.9,1238.6 136,1239.9 136,1240.3 136.1,1240.8 136.1,1241.4 136.1,1242.4 136.2,1243.4 136.2,1243.7 136.2,1244.3 136.3,1245.1 136.3,1245.4 136.3,1246.3 136.4,1247 136.4,1247.9 136.4,1248.5 136.5,1248.8 136.5,1250.3 136.6,1251.2 136.6,1251.3 136.6,1252.3 136.7,1253 136.7,1253.9 136.7,1253.9 136.8,1255.7 136.8,1255.8 136.8,1257.1 136.9,1257.5 136.9,1258.1 137,1259 137,1260.1 137,1260.4 137.1,1261.3 137.1,1262.1 137.1,1262.5 137.2,1264.3 137.2,1264.9 137.3,1265.5 137.3,1266.7 137.3,1266.8 137.4,1267.9 137.4,1269.3 137.4,1269.9 137.5,1269.8 137.5,1270.3 137.6,1271.8 137.6,1273.3 137.6,1273.7 137.7,1274.6 137.7,1275.7 137.8,1276.1 137.8,1277.3 137.8,1278.3 137.9,1279.1 137.9,1279.9 138,1280.5 138,1281.7 138,1282.3 138.1,1283.7 138.1,1284.9 138.2,1284.8 138.2,1285.2 138.2,1286.6 138.3,1287.7 138.3,1288.8 138.4,1289.7 138.4,1290 138.5,1290.8 138.5,1292.3 138.5,1292.5 138.6,1294 138.6,1294.5 138.7,1295.6 138.7,1296.5 138.7,1297.4 138.8,1298.3 138.8,1298.6 138.9,1299.8 138.9,1300.6 139,1301.5 139,1302.7 139,1303.1 139.1,1303.8 139.1,1304.6 139.2,1305.6 139.2,1306.8 139.3,1307.2 139.3,1308.6 139.4,1309.2 139.4,1309.9 139.4,1310.4 139.5,1311.7 139.5,1312.7 139.6,1312.7 139.6,1314.5 139.7,1315.4 139.7,1315.8 139.8,1316.7 139.8,1318.1 139.8,1318.5 139.9,1318.7 139.9,1319.8 140,1320.5 140,1321.3 140.1,1321.4 140.1,1323.2 140.2,1323.5 140.2,1324.5 140.3,1325.2 140.3,1326.3 140.4,1326.7 140.4,1327.3 140.5,1328.4 140.5,1329.4 140.6,1329.8 140.6,1331.2 140.7,1331.7 140.7,1332.3 140.8,1333.8 140.8,1333.9 140.9,1335.4 141,1335.7 141,1336.9 141.1,1339 141.1,1338.2 141.2,1339.6 141.3,1340.2 141.3,1341 141.4,1341.6 141.4,1342.7 141.5,1343 141.6,1343.9 141.6,1345 141.7,1345.6 141.7,1346.5 141.8,1347.5 141.9,1348.3 141.9,1349.1 142,1350.5 142.1,1351.1 142.1,1352 142.2,1352.4 142.2,1353 142.3,1353.5 142.4,1354.7 142.4,1354.9 142.5,1356.2 142.6,1357.4 142.6,1358.5 142.7,1359.1 142.8,1359.3 142.8,1360.5 142.9,1360.9 142.9,1362.2 143,1362.7 143.1,1363.8 143.1,1365.1 143.2,1365.4 143.3,1366.6 143.3,1366.7 143.4,1367.3 143.5,1368.6 143.5,1369.5 143.6,1369.6 143.7,1370.5 143.7,1370.8 143.8,1372 143.9,1373.1 143.9,1373.6 144,1374.2 144.1,1374.7 144.1,1376.1 144.2,1377 144.3,1377.7 144.3,1378.3 144.4,1378.6 144.5,1380.4 144.5,1380.6 144.6,1381.3 144.7,1382.4 144.7,1382.2 144.8,1383.6 144.9,1384.4 144.9,1385.3 145,1386.4 145.1,1386.9 145.1,1387 145.2,1388.2 145.3,1389.2 145.3,1389.9 145.4,1390.2 145.5,1390.9 145.5,1392.4 145.6,1393.1 145.7,1393.7 145.7,1394 145.8,1395.9 145.9,1395.2 145.9,1396.8 146,1398.3 146,1398.4 146.1,1399.3 146.2,1399.7 146.2,1401.3 146.3,1401.2 146.4,1402.5 146.4,1403.2 146.5,1403.7 146.6,1405.1 146.6,1405.2 146.7,1406.2 146.8,1407.3 146.8,1408 146.9,1409.1 147,1410.1 147,1410.5 147.1,1411.3 147.2,1412.1 147.2,1413 147.3,1414.3 147.4,1414.8 147.4,1415.9 147.5,1416.6 147.6,1417.2 147.6,1418.6 147.7,1418.9 147.8,1420.1 147.8,1421.5 147.9,1421.5 148,1422.7 148,1423.1 148.1,1424.4 148.2,1424.9 148.2,1426.2 148.3,1427 148.4,1428.1 148.5,1429.5 148.5,1429.9 148.6,1431 148.7,1431.6 148.7,1432.5 148.8,1433.2 148.9,1433.7 148.9,1435.2 149,1436.6 149.1,1437.1 149.1,1437.7 149.2,1439.3 149.3,1439.5 149.3,1440.3 149.4,1441 149.5,1442 149.6,1443.1 149.6,1444.7 149.7,1444.8 149.8,1445.4 149.8,1446.4 149.9,1447.4 150,1447.8 150,1449.2 150.1,1450.3 150.2,1451 150.2,1451.9 150.3,1452.1 150.4,1452.8 150.4,1454.6 150.5,1455.4 150.6,1455.4 150.6,1456.7 150.7,1457.5 150.7,1458.4 150.8,1459.1 150.9,1459.7 150.9,1460.7 151,1461.5 151.1,1462.2 151.1,1462.4 151.2,1462.7 151.3,1464.2 151.3,1464.7 151.4,1466 151.4,1466.9 151.5,1467.5 151.6,1468 151.6,1468.8 151.7,1469.9 151.7,1469.9 151.8,1471.2 151.8,1471.8 151.9,1472.3 152,1473.3 152,1473.2 152.1,1474.4 152.1,1474.4 152.2,1475.1 152.2,1475.6 152.3,1476.7 152.3,1476.8 152.4,1477.7 152.4,1477.9 152.5,1479.1 152.6,1480.9 152.8,1481.8 152.9,1483.5 153,1484.4 153.1,1486.1 153.3,1486.6 153.4,1487.1 153.5,1489 153.6,1489.5 153.7,1490 153.8,1491 153.9,1491.4 154,1492.7 154.1,1493.1 154.2,1494.6 154.2,1494.9 154.3,1494.8 154.4,1495.4 154.5,1496.3 154.6,1496.5 154.7,1497.6 154.8,1498.2 154.9,1498.5 155,1499.1 155.1,1500 155.2,1500.9 155.3,1501.5 155.4,1501.6 155.5,1502.5 155.6,1502.6 155.7,1503.7 155.9,1503.9 156,1505.2 156.1,1505.4 156.3,1506.3 156.4,1507.5 156.6,1508.5 156.8,1508.7 156.9,1509.9 157.1,1511 157.3,1511.9 157.4,1512.4 157.6,1513.5 157.8,1514.3 157.9,1515.7 158.1,1516.3 158.3,1516.5 158.5,1517.1 158.7,1518.7 158.8,1519.9 159,1520.4 159.2,1521.4 159.4,1521.8 159.6,1522.3 159.8,1523.7 159.9,1524.3 160.1,1525.2 160.3,1525.3 160.5,1526.5 160.7,1526.9 160.9,1528.1 161,1528.3 161.2,1528.9 161.4,1529.5 161.7,1531.2 162.1,1531.9 162.4,1532.6 162.7,1533.5 163.1,1534.3 163.4,1536 163.7,1535.7 164,1536.8 164.4,1538 164.7,1538.8 165.1,1539 165.4,1539.9 165.8,1540.5 166.2,1541.2 166.6,1541.5 167,1542.5 167.6,1542.8 168.2,1543.9 168.9,1543.7 169.5,1545 170.2,1544.9 170.9,1545.3 171.6,1546.4 172.3,1546.4 173,1547.2 173.7,1546.9 174.3,1548 174.9,1547.6 175.7,1547.3 176.5,1547.6 177.3,1547.6 178,1546.6 178.7,1546.5 179.4,1546.4 180.2,1545.2 181,1544 181.4,1543.3 181.9,1543.2 182.3,1542 182.8,1540.9 183.2,1541.1 183.7,1540.4 184.1,1540.7 184.6,1539.5 185.1,1538.4 185.6,1537.6 186,1537.4 186.5,1536.1 187,1535.3 187.4,1534.6 187.9,1533.7 188.3,1532.8 188.6,1532.2 188.8,1531.9 189.1,1531.4 189.3,1529.6 189.6,1530.4 189.8,1528.9 190,1528.5 190.3,1527.1 190.5,1526.8 190.8,1526 191,1525.2 191.2,1524.7 191.5,1523.8 191.7,1522.4 191.9,1521.9 192.2,1521.4 192.4,1520.6 192.7,1519.4 192.9,1518.6 193.2,1517.8 193.4,1516.7 193.7,1515.8 193.9,1515.9 194.2,1514.4 194.5,1513.7 194.7,1512.6 195,1512.5 195.2,1511.9 195.5,1510.5 195.7,1510 196,1508.9 196.2,1509 196.5,1508 196.8,1506.7 197,1506.7 197.3,1505.6 197.5,1504.9 197.8,1504.2 198.1,1503.1 198.3,1502.4 198.6,1502 198.9,1501 199.2,1500 199.4,1500.2 199.7,1498.7 200,1497.8 200.3,1496.9 200.5,1496.6 200.8,1495.9 201.1,1494.9 201.4,1494.2 201.6,1492.6 201.9,1492.1 202.2,1491.2 202.5,1490.5 202.8,1489.8 203,1488 203.3,1488.9 203.5,1486.8 203.7,1486.6 203.9,1486 204.1,1485.3 204.3,1484.4 204.5,1482.6 204.7,1482.5 204.9,1482.4 205.1,1481.1 205.3,1480.3 205.5,1479.1 205.7,1479.6 205.9,1478.6 206.2,1477.3 206.4,1476.8 206.6,1476.1 206.8,1474.9 207,1474.4 207.2,1473.8 207.4,1473.1 207.6,1472.6 207.8,1471.4 208,1470.4 208.2,1469.9 208.4,1468.7 208.6,1467.7 208.8,1467.7 209,1466.4 209.3,1465.7 209.5,1465.1 209.7,1463.7 209.9,1463.4 210.1,1462.6 210.3,1461.5 210.5,1460.9 210.7,1459.7 210.9,1458.3 211.2,1458.2 211.4,1457.1 211.6,1457 211.8,1455.9 212,1454.8 212.2,1454.3 212.4,1454 212.6,1453.1 212.8,1452.1 213,1451.4 213.2,1450.3 213.4,1449.6 213.6,1449.1 213.8,1448 214,1447.4 214.2,1446.1 214.4,1445.1 214.6,1444.3 214.8,1444 215,1443.8 215.2,1442.9 215.4,1441.4 215.6,1440.4 215.8,1440.4 216,1439.5 216.2,1438 216.4,1438.1 216.6,1437 216.8,1436.6 217,1435.4 217.2,1434.8 217.4,1433.8 217.6,1432.5 217.8,1432 218,1431 218.2,1430.8 218.4,1429.3 218.6,1428.4 218.8,1428.4 219,1427.7 219.2,1427.1 219.4,1426.2 219.6,1424.5 219.8,1424 220,1423.3 220.2,1422.7 220.4,1421.2 220.6,1421.2 220.8,1420.6 221,1419.4 221.2,1419 221.4,1418.6 221.6,1417.4 221.9,1416.9 222.1,1416.1 222.3,1415 222.5,1414.2 222.8,1413.1 223,1412.9 223.2,1411.5 223.4,1410.6 223.6,1410.3 223.9,1409 224.1,1408.6 224.3,1408.1 224.5,1407 224.7,1406.2 224.9,1405.7 225.2,1404.9 225.4,1403.3 225.6,1402.6 225.8,1402.8 226,1401.7 226.3,1400 226.5,1399.5 226.7,1399.3 226.9,1398.2 227.1,1397.9 227.3,1397 227.6,1396.4 227.8,1395.1 228,1395 228.2,1394.7 228.4,1393 228.7,1393 228.9,1392.1 229.1,1391.2 229.3,1390.2 229.6,1389.1 229.8,1388.4 230,1388.3 230.2,1387.6 230.5,1386.9 230.7,1386 230.9,1385.3 231.1,1384 231.4,1383 231.6,1382.8 231.8,1382.2 232,1381.3 232.2,1380 232.5,1379.7 232.7,1378.6 232.9,1378.5 233.1,1377.3 233.3,1377 233.6,1376.4 233.8,1375.6 234,1375.4 234.2,1373.8 234.5,1372.7 234.7,1373.1 234.9,1372.5 235.1,1371.8 235.4,1370.6 235.6,1370 235.9,1369.1 236.1,1367.8 236.4,1367.3 236.6,1366.9 236.9,1365.7 237.2,1365.8 237.4,1363.7 237.7,1363.3 238,1363 238.3,1361.5 238.6,1360.4 238.9,1359.4 239.2,1358.7 239.4,1358.9 239.6,1357.9 239.9,1357.2 240.1,1356.2 240.4,1356 240.6,1355 240.8,1353.9 241.1,1353.3 241.4,1352.8 241.6,1352.5 241.9,1351.2 242.1,1350.7 242.4,1350.5 242.7,1348.7 243,1347.7 243.2,1347.8 243.5,1346.8 243.8,1345.8 244.1,1345.1 244.4,1344.1 244.7,1343.6 244.9,1342.5 245.2,1342.1 245.5,1340.5 245.8,1339.9 246.1,1339.4 246.4,1338.3 246.7,1338 247,1336.9 247.3,1335.9 247.6,1335.3 247.9,1334.2 248.2,1333.1 248.4,1332.4 248.7,1331.7 249,1331.1 249.3,1330.5 249.6,1330 249.9,1329.1 250.2,1328.7 250.4,1327.8 250.7,1326.5 251,1326.4 251.3,1325.5 251.5,1324.1 251.8,1323.7 252.1,1323.2 252.3,1322.2 252.6,1321.8 252.8,1320.9 253.1,1320.3 253.3,1319.2 253.5,1318.8 253.8,1317.9 254,1317.7 254.3,1315.8 254.7,1315.7 255,1315.1 255.3,1314 255.6,1312.9 255.9,1312.2 256.2,1310.9 256.5,1310 256.8,1309.4 257.1,1308.7 257.4,1308.3 257.7,1306.9 257.9,1306.8 258.2,1305.1 258.5,1304.6 258.7,1304.2 259,1303.9 259.2,1302.5 259.5,1301.2 259.8,1301.5 260,1300.6 260.3,1299.5 260.5,1298.9 260.8,1298.3 261,1297.9 261.3,1297.4 261.5,1295.9 261.8,1296.6 262.1,1295.1 262.3,1294.2 262.6,1293.9 262.9,1293 263.1,1293.1 263.4,1291.9 263.7,1290.6 264,1289.9 264.3,1289.1 264.6,1288.3 264.9,1288 265.2,1286.7 265.5,1286.8 265.8,1285.4 266.1,1284.6 266.4,1284.2 266.7,1282.3 267,1282 267.3,1281.8 267.7,1280.8 268,1280 268.3,1279.4 268.6,1278.3 268.9,1277.7 269.2,1276.4 269.5,1275.5 269.8,1275.9 270.2,1274.3 270.5,1273.7 270.8,1273.7 271.1,1272.8 271.4,1271.5 271.8,1270.7 272.1,1270.1 272.4,1269.1 272.7,1268.9 273,1268 273.4,1267.3 273.7,1266.8 274,1266.1 274.3,1265.8 274.7,1264.9 275,1263 275.3,1263.2 275.7,1261.7 276.1,1260.8 276.4,1260.9 276.8,1259.6 277.1,1259 277.5,1258.8 277.8,1257.4 278.2,1256.6 278.6,1256.3 278.9,1255.9 279.3,1254.9 279.7,1253.4 280,1253 280.4,1252.5 280.8,1252.6 281.1,1251.5 281.5,1250.8 281.9,1250.2 282.2,1248.9 282.6,1248.5 283,1247.8 283.3,1246.5 283.7,1246.2 284.1,1245.7 284.4,1244.4 284.8,1244.4 285.2,1243.7 285.5,1243.2 285.9,1241.8 286.3,1241.4 286.6,1241.3 287,1240.3 287.4,1239 287.8,1238.6 288.2,1238.3 288.6,1237 289,1236.5 289.4,1236.6 289.8,1234.8 290.2,1234.1 290.6,1233 291,1232.4 291.4,1232.5 291.8,1231.2 292.2,1230.1 292.6,1229.5 293,1229.1 293.4,1228.7 293.8,1227.4 294.2,1227.3 294.6,1226.1 295,1225.8 295.4,1225.1 295.8,1224.5 296.2,1223.4 296.6,1222.8 297,1222.4 297.4,1221 297.8,1220.9 298.2,1220.4 298.6,1219.9 299,1218.8 299.4,1218 299.9,1217.4 300.3,1216.3 300.8,1215.8 301.2,1215.3 301.7,1214.5 302.1,1213.3 302.6,1212.9 303,1211.4 303.4,1211.9 303.9,1210.7 304.3,1210.3 304.8,1209 305.2,1208.8 305.7,1208.3 306.1,1207.8 306.6,1206.2 307,1206.4 307.5,1205.3 307.9,1204.4 308.3,1204.2 308.8,1203.2 309.2,1202.5 309.7,1201.7 310.1,1201.4 310.6,1200.7 311,1199.9 311.5,1198.9 311.9,1198.4 312.4,1198 312.9,1197.7 313.3,1196.5 313.7,1196.4 314.2,1195.1 314.6,1194 315.1,1194 315.5,1192.6 316,1192.6 316.4,1192.2 316.9,1190.9 317.3,1190.3 317.8,1190.8 318.2,1189.1 318.7,1188.5 319.2,1188 319.7,1187 320.2,1186.3 320.7,1185.9 321.2,1184 321.8,1185 322.3,1183.2 322.9,1182.5 323.4,1182.7 323.9,1181.9 324.4,1180.7 324.9,1180.8 325.4,1179.6 326,1179.2 326.5,1178.3 327,1178 327.6,1178 328.2,1177.3 328.7,1176.8 329.3,1176.5 329.9,1175.4 330.4,1174.6 331,1174.2 331.6,1174.5 332.2,1173.2 332.8,1172.7 333.4,1172 334,1171.6 334.6,1171.1 335.2,1170.3 335.8,1169.7 336.4,1168.8 337,1168.3 337.6,1168.3 338.2,1167.9 338.8,1167.5 339.4,1166.5 340,1165.6 340.6,1165.8 341.3,1165.2 341.9,1163.7 342.5,1164.2 343.2,1163.6 343.8,1163.6 344.5,1161.7 345.2,1161.1 345.8,1161.6 346.5,1159.8 347.2,1159.8 347.8,1159.1 348.5,1158.7 349.2,1157.7 349.9,1158.1 350.5,1158.2 351.2,1157.4 351.9,1157 352.5,1156.1 353.2,1156.5 353.8,1155.6 354.5,1155.4 355.1,1153.7 355.7,1154.2 356.3,1153 356.9,1153.4 357.5,1152.9 358.1,1151.8 358.7,1152.1 359.5,1152.1 360.3,1151.2 361.1,1150.8 361.8,1149.5 362.6,1149.2 363.3,1148.5 364,1148.7 364.7,1148.9 365.4,1148.1 366,1147.5 366.7,1146.5 367.4,1147 368.1,1146.3 368.8,1145 369.4,1144.8 370.1,1145.2 370.8,1144.6 371.5,1145.6 372.3,1144.4 373,1143.4 373.8,1143.4 374.5,1144.2 375.3,1142.5 376.1,1143.1 376.8,1142.6 377.6,1142.8 378.4,1142 379.2,1141.1 380,1141.3 380.8,1140.8 381.6,1141 382.4,1140.1 383.2,1141 384,1139.5 384.8,1139.6 385.5,1138.7 386.3,1138.8 387.1,1138.5 387.8,1138.4 388.6,1138.5 389.4,1137.4 390.2,1137 391.1,1137.8 391.9,1136.8 392.7,1136.3 393.4,1137.1 394.2,1136.7 395,1134.4 395.8,1135.5 396.6,1136 397.4,1135.8 398.2,1134.8 399,1135.9 399.7,1134.3 400.6,1134.4 401.4,1134.4 402.2,1134.2 403,1134.5 403.8,1134.5 404.6,1133.7 405.4,1134.4 406.2,1133 407,1130.4 407.8,1134.3 408.6,1133.2 409.4,1133.7 410.3,1132.7 411.1,1132.7 411.9,1132.7 412.7,1132.8 413.6,1132.4 414.4,1132.5 415.2,1132.8 416,1133.1 416.9,1132.3 417.7,1132.5 418.5,1132.6 419.3,1131.2 420.1,1130.8 420.9,1132.7 421.8,1132.4 422.6,1131.5 423.4,1131.6 424.2,1130.7 425,1130.3 425.8,1131.3 426.6,1130 427.4,1131.5 428.3,1130.3 429.1,1130.9 429.9,1131.8 430.7,1131.7 431.5,1130.2 432.3,1130.9 433.2,1129.4 434,1129.6 434.8,1130.2 435.7,1130.7 436.5,1129.3 437.4,1129.9 438.3,1129.5 439.3,1128.5 440.2,1129.1 441.1,1130.1 442.1,1128.9 443,1129.1 443.9,1129.2 444.7,1128 445.6,1129.3 446.4,1129.4 447.1,1129.3 447.8,1129 448.5,1127.7 449,1127.5 449.6,1127.3 450,1127.2" fill="none" stroke="#ff0000" stroke-width="2.7" stroke-linejoin="round" stroke-linecap="round"/>
<path d="M3.7,914.6 3.8,915.6 4.2,919.7 5.1,917.4 5.2,912.4 5,927.7 5.4,914.6 6.1,916.3 6.7,912.5 6.7,916.5 7.2,916.5 7.2,919.5 8.1,916.7 8.8,917.1 9.3,912.7 9.4,912.3 10.4,911.8 10.5,918.4 11,915.3 11.9,914 12,914.5 12.8,914.5 13.3,916.8 14,915.7 14.7,919.2 15.1,911.9 15.7,916 16.3,914 16.6,917.7 17.7,911.3 18.8,915.2 19.1,916.4 19.9,912.7 20.3,918.1 20.9,916.3 21.7,918.2 22.4,918.1 23.1,913.8 23.4,914.2 24.3,915.5 24.7,929.4 25.9,917.8 26.4,914.4 27,914.6 27.5,914.2 28.6,914.6 29.4,915.4 30,915.6 30.8,920.5 31.1,914.8 32.2,915.3 32.7,916.9 32.8,913.8 34.1,923.2 34.6,916 35.4,917.6 36,913 36.7,918.9 37.8,915.2 38.1,916.3 39,917.8 39.8,917.4 40.2,918.3 40.7,916.3 41.7,915.9 42.3,916.6 42.8,913.8 43.7,918.6 44.6,914.2 45.2,913.2 46,920.5 46.6,915.7 47,913.4 47.6,920.1 47.9,915.3 49.1,918.3 49.3,914.2 50.1,915.5 51,912.3 51.3,911.8 51.5,913.9 52.3,915.9 53.1,917.8 54.1,921.4 54.3,913.8 55,918.3 55.5,914.7 56.5,915.7 57.1,912.8 57.9,912.8 58.2,900.6 59.2,913.5 59.4,916.1 60.3,914.5 61,918.9 61.7,916.4 62.5,916.5 62.6,918.6 63.8,917.3 64.4,916 64.9,915.9 65.8,915.9 66.7,918.5 67.2,917.9 67.8,917 68.8,926.9 69.2,915 70.2,917.3 70.8,913.1 71.5,919.2 72.2,916.4 73,916.6 73.3,917.5 74.3,916.2 74.6,915.7 75.5,918.9 76.2,916.5 76.8,914.3 77.1,917.3 77.8,912.5 78.4,920 79.3,915.9 80,916.4 80.7,921.3 80.9,921.1 81.9,916.6 82.6,917.8 83.1,918.8 83.6,920.1 84.4,916.2 85.1,916.8 85.7,919.2 86.2,917.1 86.2,918.2 87.3,917.9 87.5,914.1 88.3,914.7 88.5,910.8 89.2,916 89.5,919.6 90,914.2 91,919.4 90.8,918.9 91.7,916.6 91.9,916.7 92.1,917 93.1,914.9 93.2,900.6 93.4,916.8 94,918.3 94.1,918.7 95,915.3 94.7,929 97,915 97.9,916.9 99.6,919.1 100.2,917.9 100.4,917.8 100.6,919.7 99.8,917 99.5,917.2 100.1,919.5 99.8,924.7 100.4,921 100.3,909.8 100.4,923 100.8,910.4 101.5,921.2 101.6,930.5 101.4,924 100.4,922.5 101.7,921.1 102.1,931.4 102.3,930.5 102,912 102.9,929.1 102.8,934.2 102,932.1 103.4,909.7 104,933.2 103.7,931.2 103.5,930.7 104.9,935.3 104.8,932.8 103.8,920.3 105.3,920.5 105.2,939.1 105.3,953.2 104.6,954.3 104.8,936.9 105.8,930.7 106.8,938.4 106.2,936.5 106.4,936.5 106.3,934.6 106.6,936.3 107.4,944.9 106.8,946.6 108.3,928.8 107.9,941.6 108,938.5 108,946.3 108,951 108.4,937.1 108.1,950.3 109,935.9 108.4,944.8 110.5,948.7 109.7,941.5 109.3,941.4 110.3,949.7 110.5,953.4 110.4,948 111,956.8 110.7,958.9 111.3,959.8 111.5,953 112,944.4 111.7,956.4 112.3,955.6 111.1,963 113.1,965.1 112.9,942.2 113.3,955.4 113.1,961.4 113.8,974.5 113.6,957.4 114.1,957.8 114.4,958.8 114.5,959.6 114.6,962.3 115.6,954.4 116,956.2 116,966.2 116.9,965.2 116.6,959.3 117.1,967.8 117.7,959.2 117.8,961.5 117.7,954.8 117.6,958.1 118.1,964 118.3,969.5 119.5,968.7 118,966.8 120.7,967.5 119.5,972.6 120.6,966.9 120.4,967.4 120.7,968.9 120,972.7 121.2,973.7 120.9,978.7 121.4,970.3 120.9,976.9 121.5,968.8 121.4,975.1 122,973.5 122.4,981.4 122.2,976.9 122.6,972.7 122.9,996.7 122.8,977.6 122.9,993.7 122.4,975.9 123.9,973.7 123.7,976.4 123.7,979.8 124.1,984.2 124,975.2 124.3,976.2 124.8,981.1 124.2,981.8 124.9,986.7 125.3,979.2 124.7,986.8 125.2,991.8 126.4,1001.6 127,990.3 126.4,982.5 126.7,989 126.3,989.7 127.5,996.5 127,986.2 127.3,990.6 127.6,995.1 127.4,985.7 127.5,991.5 128,996.4 127.8,989.4 128.2,996.1 127.5,996.7 128.4,1005.8 129.4,1016.8 129.9,1001.3 130,995.4 129.6,995.4 130.3,997.9 130.1,987.7 130.4,1005.9 131.6,980 131.2,994.8 131.5,998.1 132.1,1004.6 132.7,1021.8 132.6,1000 132.7,1004.2 133.3,1002.5 133.4,998.7 133.5,1004.5 133,988.5 133.8,997.8 134.5,1010.1 134.3,1011 135.9,1020.8 136.3,1002 136.3,1003.5 135.5,1004.5 136.3,1011.3 136.5,1003.1 136.8,1008.3 136.2,1016.6 137.5,988.5 138.1,1010.6 137.9,995 138.7,1017.5 137.9,1014.5 138.6,1010.1 139,1005.9 138.3,1027.5 138.9,1010.7 138.8,1033.4 139.7,1015.6 139,1015.4 139.9,1013.2 139.7,1015.7 140.5,1018 140.1,1019.7 140.4,1024.3 140.8,1014.5 140.5,1019.2 140.8,1026.5 141.1,1022.7 141.2,1024.3 141.7,1029.9 141.4,1017.3 141.9,1026.2 141.9,1010.2 142,1032.9 142,1030.4 141.8,1023.5 142.5,1029.4 143.2,1022.8 143,1032.8 144,1031.5 143.1,1028.6 143.6,1028.2 143.3,1022.9 144.6,1034.3 143.8,1031.2 144.8,1031 144.9,1035.9 146.1,1021 145.8,1031.6 145.8,1031.7 145.7,1029.6 146.7,1028.4 146,1035.5 145.8,1035.4 146.9,1041.1 146.7,1025 146.7,1038.4 147.4,1039.1 147.7,1019 147.1,1042 148.3,1032.4 149,1041.2 148.3,1045.3 148.1,1022.1 149.1,1036.9 149.2,1042.7 149.8,1043.8 150.1,1041.7 150,1046.2 150.9,1046.2 149.9,1040.4 150.7,1045.8 151.3,1026.6 151.7,1039 151.8,1038.2 152.3,1052.2 152,1048.2 151.9,1070.2 153.4,1044 154,1037.1 153.8,1052 153.7,1050.7 154.2,1067.8 155,1052.8 155.2,1050.4 155.9,1044.4 156.4,1050.3 156.6,1061 156.4,1057.9 157.2,1060.8 157.3,1044.3 157.5,1056 157.8,1054 158.1,1059.4 158,1048.5 158.8,1060.7 158.7,1066.1 159.2,1057 159.8,1063.3 160.1,1056 159.4,1080.1 160.1,1060.7 160.2,1062.6 161,1063.9 160.9,1070 161.7,1064.4 161.5,1063.3 162.1,1061.4 161.9,1078.5 162.2,1063.8 162.7,1065.7 163.2,1067.9 162.6,1071 163.6,1066.7 163.3,1072.1 164.2,1076.6 163.8,1065.7 164.5,1076.2 165.4,1088.9 165.7,1070.5 165.1,1075.2 166.3,1068.9 165.9,1075.3 166.3,1073.5 166.7,1076.2 166.9,1072.5 167.2,1073.3 167.4,1087.1 168,1074.7 168.2,1075.6 168.3,1077.6 168.5,1075.1 168.8,1078.8 169.5,1081.4 170.1,1072.6 170.4,1081.5 170.5,1078.8 171.1,1078 171.2,1077.8 171.7,1079.9 172.2,1080.6 172.3,1077.7 173.2,1079.9 173.5,1087.8 173.4,1082.2 174.1,1087.5 174.3,1089.2 174.7,1082.3 175,1090.1 175.7,1094 175.8,1086.3 176.1,1090 176.7,1088.3 177,1089.4 177.6,1097.1 177.2,1088.7 178,1093 177.6,1084.8 178.5,1091.9 178.5,1097 178.8,1096.3 179.5,1095.6 179.5,1091.9 180.1,1100.3 179.7,1099.1 181.3,1089.2 180.5,1092.9 181.4,1095.3 182.4,1086.1 181.9,1101.4 183.2,1097.3 183.4,1087.5 183.4,1101.1 183.7,1095.7 184.1,1101.7 184.7,1099.4 185.3,1101.2 185.8,1100.8 185.3,1097.8 186.7,1098.7 187.1,1102.2 187.1,1102.7 188.3,1101.8 188.9,1106 189.4,1102 189.7,1099.6 190.5,1102.5 191.2,1103.1 191.3,1103.5 191.9,1107.5 192.5,1105.7 193.6,1107.5 193.8,1106.3 194.2,1104.1 194.7,1107.9 195.2,1104.1 196.2,1105.8 197,1102.2 197.7,1095.5 197.6,1104.6 198.2,1106.9 198.8,1122.4 199.4,1113.3 199.8,1109.5 201.2,1106.6 201.5,1100.6 201.8,1107.8 201.8,1105.5 203.5,1107.3 203.9,1106.9 204.3,1117.7 205.1,1112.1 205.3,1106.5 206.3,1106.7 206.5,1110.4 207.5,1100 207.9,1105 208.2,1105.9 209,1109.9 210.1,1109.5 210.7,1097.5 210.9,1106.9 211.3,1110.9 211.9,1110.8 212.8,1103.6 212.8,1107.1 214.1,1096.6 214.2,1106.2 214.7,1106.8 215.6,1110.7 216.8,1098.3 216.6,1110.8 217.4,1103.8 217.7,1107.1 218.8,1108.4 219.4,1115.4 219.9,1105.3 220.4,1106.8 221.3,1104.7 222,1108.6 222.2,1105.2 222.9,1104.7 223.4,1099.7 224,1108.1 225.1,1104.5 225,1096.3 226,1100.9 226.8,1108.3 226.9,1107.7 227.8,1103.6 228.4,1097.5 228.4,1101.6 229.7,1105.3 229.6,1103.1 230.6,1100.7 230.6,1099.2 231.2,1103.7 232.2,1100.3 233.3,1101.7 234.2,1102 234.8,1105.2 235,1100.6 235.5,1100.6 236,1094.2 236.5,1102.6 236.8,1101.7 237.3,1098.8 238.2,1091.7 238.8,1096.6 239,1098.3 239.4,1104.1 240.1,1099.3 241.8,1094.7 241.2,1099.5 242.4,1100.8 242.9,1093.1 243.4,1093.7 243.4,1092.4 244.8,1103.7 244.8,1094.3 245.1,1095.4 245.6,1091.8 246.3,1094.9 247.5,1091.7 247.1,1100.4 247.8,1092.1 248.6,1101.1 249.3,1098.1 249.4,1089.3 249.9,1095.5 250.6,1094.1 251.5,1087.4 251.8,1093.5 252.4,1091.1 253,1092.1 253.6,1088.2 254.4,1090.3 254.4,1091.4 255.1,1089.4 255.4,1081.3 256.4,1088.8 256.9,1086 257.1,1089.7 258.1,1080.6 258.2,1092.5 259.2,1087.9 259.1,1088.8 259.6,1089.6 259.9,1082.9 260.5,1093.2 261.2,1082.6 261.2,1081.6 262.4,1086.3 263.1,1089 263.6,1084.7 264,1080.1 264.6,1085 264.8,1076.3 265.3,1082.8 266.2,1081.8 266.5,1087.5 267.3,1081.7 267.4,1086.4 268.3,1079.8 268.9,1079.2 269.1,1079.9 270.2,1083.1 270.7,1084.1 270.2,1080.2 272.3,1076.2 271.6,1079.9 273.4,1080.7 273,1076.4 273.2,1078.2 274.1,1080.1 275.2,1081.9 275.3,1082.3 276.1,1079 277.2,1076.2 277.1,1074.2 278.2,1081.3 279,1083 278.7,1079.7 279.5,1083.2 280.5,1076.9 281,1076.9 281.7,1082.6 281.6,1074.7 282.5,1079.3 283.5,1078.4 284.2,1070.3 284.9,1082 284.9,1073.9 285.3,1075 285.8,1069.7 286.3,1072.5 286.5,1073.9 288.1,1073.9 288,1074.2 288.4,1075.4 289,1072.2 289.8,1067.9 290.2,1074 290.5,1062.8 291.5,1069.3 291.8,1070.1 292.2,1077.5 292.8,1074.9 293.6,1074.8 294,1073.2 294.3,1071.3 295.2,1068.9 294.7,1071.9 296.1,1069.2 296.1,1068.2 296.7,1069.2 297.4,1068.6 298.5,1071.3 298.4,1065.4 298.9,1075.5 299.7,1064.7 299.5,1066.1 300.6,1070 301.4,1064.3 301.4,1065.1 302.5,1066.3 302.6,1057 303,1064.2 304.2,1062.5 304.5,1064.4 305.3,1066.4 305.7,1066.5 305.8,1068.9 307,1068.4 307.4,1072.9 307.9,1063.4 308.3,1066.4 308.6,1060 309.9,1062.5 310.3,1066.8 310.6,1064.6 311,1057.7 312.1,1059.9 312,1064.2 312.6,1063 314,1064.1 314.1,1055.3 314.7,1056.5 315.2,1059.3 316.2,1046.2 316.2,1059.4 316.8,1059.2 317,1059.9 317.8,1058.2 317.9,1060 318.8,1060.4 319.4,1058.2 320.2,1053.7 320.9,1061 320.9,1057.5 321.3,1057.8 322.3,1056.7 322.5,1051.1 323.8,1057.4 324.2,1053.4 324.1,1058.7 325,1058.7 325.9,1053.6 325.8,1055.1 326.4,1056.7 327.1,1058.7 328.1,1048 328.4,1051 328.7,1055.1 329.5,1050.8 330,1042.8 330.6,1058.6 331.2,1052.9 331.7,1054.4 332.4,1052.5 332.8,1050.3 333.3,1052.1 333.9,1051.1 334.1,1049.5 335,1051.6 336.2,1056.9 336.3,1047.5 337,1053.5 337.7,1052.7 337.9,1052.4 338.5,1041.6 339.3,1050.1 339.5,1049.2 340.6,1046.5 341.1,1051.1 341.6,1044.7 342.1,1052.8 342.9,1050.1 343.2,1047.3 343,1052.9 344.5,1049.9 344.7,1049.4 345.3,1033.3 345.9,1049.7 346.4,1052.3 346.5,1051.2 347,1043.9 348,1051.9 348.6,1052.4 349.2,1050 349.2,1046.2 350,1042.7 350.8,1044.4 351,1045.3 351.5,1047.8 352.8,1048.5 352.3,1038.4 353.2,1041.7 353.8,1045.3 354.6,1042.4 356.4,1050.4 355.9,1049 356.9,1047.6 357.7,1048.5 358.5,1043 359.4,1048.9 359.5,1045.4 360.4,1043.3 361,1042.8 360.9,1046 362,1048.8 361.8,1039.8 362.7,1047.3 363.5,1045 363.4,1043.1 364.3,1045 365,1045.2 365.6,1045 366.1,1047.6 367.2,1042.4 367.1,1051 368.1,1039.5 369,1043.2 368.8,1039.1 369.5,1044.8 369.9,1043.6 371.1,1047.1 371.9,1047 371.6,1050.5 372.5,1044.3 373.2,1035.1 374.7,1043.3 374.5,1043.4 375.4,1041.3 375.6,1050.3 376.9,1044.1 376.9,1043.3 377.9,1045.3 378.2,1046.1 379.2,1043.9 379.8,1040.7 380.5,1045.2 381.2,1041.6 382.3,1043 382.2,1044.7 383.4,1044.7 383.8,1036.9 384.3,1049 385,1046.2 385.6,1049.6 386.4,1051.3 387.1,1050.1 387.6,1041.9 388.1,1044.3 388.2,1046.3 389.5,1041.9 390.2,1042.4 390.5,1046.5 391.1,1040.5 391.4,1043.8 392.3,1046.4 393.1,1033.4 393,1045.3 393.8,1042.5 394.4,1047.5 395.5,1041.1 395.6,1042.1 395.8,1041.6 397,1042.6 397.9,1043.7 398.1,1036.7 398.6,1042.9 399.4,1049.9 400.4,1041.5 400.4,1030.3 401,1040.2 401.8,1046.1 402.1,1036.1 402.4,1042.5 403.5,1036.8 404,1048 404.8,1044 405.3,1040.6 406,1045.6 406.1,1038.5 407.1,1040.3 407.4,1039.3 408.3,1041.1 408.7,1040.1 409.9,1039.8 409.8,1041.1 410,1044.1 411.3,1041.1 411.7,1040.8 412.2,1039.6 413.1,1038.3 414.1,1036 414.2,1037.1 414.6,1040.3 415.9,1034.4 416.4,1042 416.7,1038.7 417.1,1037.1 418.1,1038.2 418.3,1041.8 418.9,1040.8 419.5,1040.5 420.5,1044.9 421.4,1046.7 421.6,1035.7 422.8,1042.2 422.3,1037.2 423.6,1035.4 423.7,1037.9 425.2,1042.5 426,1038.5 425.8,1038 426.8,1043.6 427.7,1040.9 428,1039.1 428.8,1044.8 429.5,1040.8 430.5,1037.1 431,1036 431.6,1037.9 432.4,1039.7 433.3,1041.9 434,1041.6 434.6,1039.3 435.8,1035.4 436,1041.7 436.8,1039.1 437.6,1035.5 438,1041.2 439.2,1028.5 439.7,1039.6 440.3,1040.9 440.4,1034.7 441.3,1044.1 442.1,1032.8 442.9,1038.1 443,1042.2 443.6,1041.3 443.9,1035.2 444.4,1039.8 445.7,1041.7 445.9,1040.1 446.5,1034.9 447.2,1042.8 447.3,1032.8 447.8,1037.8 447.9,1034.4 448.4,1036.3 449.1,1036.5 449.7,1039 450,1033.6 449.8,1038.1" fill="none" stroke="#000" stroke-width="3.0" stroke-linejoin="round" stroke-linecap="round"/>
<path d="M327.1,1390V1462.2H445.6" fill="none" stroke="#000" stroke-width="3.3" stroke-linecap="round" stroke-linejoin="round"/>
<line x1="1318" y1="47.8" x2="1576.7" y2="47.8" stroke="#000" stroke-width="3.1"/>
<path d="M1291.5,84.3H1580" stroke="#000" stroke-width="3.0" stroke-dasharray="2.6 13.1" stroke-linecap="round" fill="none"/>
<path d="M1300,84 1300.5,84.2 1300.8,83.8 1301.7,83.5 1302,83.7 1301.9,83.4 1302.5,84.1 1302.7,84.9 1303.7,83.7 1304.3,83.7 1305.7,84.4 1305.5,84.3 1305.5,84.2 1306.6,83.5 1307.6,84.1 1307.8,84.6 1308.7,83.3 1309.6,83.8 1310.5,82.9 1311.1,83.3 1311.5,82.9 1312.8,84 1313.1,83.3 1313.8,84.3 1314.2,84.2 1315.1,84 1316.2,82.4 1316.1,83.8 1317.2,84.1 1318.1,84.2 1318.3,83 1319.1,83.7 1319.1,83.3 1320.5,83.4 1321.2,84.7 1321.7,83.3 1321.8,83.7 1322.8,84.3 1324.2,83.1 1325.1,83.3 1325.2,83.3 1326.2,83.1 1326.1,82 1326.8,82.8 1327.4,83.7 1328.1,81.4 1327.9,83 1329.3,82.4 1330,81.7 1329.6,83.6 1330,82.6 1331.1,81.1 1331.5,82 1331.6,82.4 1333.6,81.8 1334,82.5 1334.4,82 1336,82.6 1335.8,83.3 1336,81.8 1336.9,82.7 1337,82.4 1337.7,83.1 1338.7,82.4 1338.8,83.2 1339.4,83.8 1340.7,85.1 1340.8,85.8 1341.2,84.2 1341.6,85.1 1342,86.8 1342.8,85.2 1342.6,87 1343.8,87.9 1342.9,89.5 1343.5,89.6 1343.4,89.3 1344.1,89.8 1344.8,90.5 1345.5,92.6 1344.8,91.5 1345.4,92.2 1345.5,93.4 1345.6,93.6 1345.7,94.1 1346.5,93.9 1346,95.4 1347,95.6 1347.3,97.6 1347.3,97.8 1347.4,97.7 1347.5,98.9 1349.1,98.5 1348,100.3 1349.5,99.9 1349.3,101 1349.1,99.9 1349,102 1350.2,100.8 1350.8,101.2 1349.8,108.5 1350.2,103.2 1351,104.6 1350.8,107 1351.8,104.8 1350.8,105.5 1351.4,106.7 1350.8,107.5 1352.5,107.5 1351.4,108 1350.9,109.5 1352,109.9 1352.2,109.1 1353.3,110.7 1352.4,111.5 1352.8,111.2 1353.3,113.2 1353.9,112.7 1353.2,114.8 1353.9,114.5 1353.7,114.9 1353.5,114.7 1353.8,115.6 1353.9,114.3 1353.6,115.5 1354.7,117.4 1353.6,115.5 1355,118.8 1355,116.8 1354.6,119.7 1354.5,118.7 1354.8,120.7 1355.3,120.6 1355.6,119.6 1355.5,122.9 1356,123.7 1355.4,122.8 1355.9,123.3 1355.2,124.1 1356.5,126.4 1356.3,126.8 1356.2,126 1357.1,127.3 1357,127.4 1355.5,128.5 1357,128.8 1356.4,131.7 1357.7,130.7 1358.4,132.3 1357,131.8 1357.4,131.6 1357.3,132.5 1357.7,132.7 1357.9,133.8 1358.3,133.9 1357.2,134.5 1358.6,134 1357.4,135.1 1358.1,138.1 1358.6,136.3 1358.4,136.5 1357.7,138.4 1357.9,140.1 1358.1,137.8 1358.4,139.6 1359,139.8 1357.9,139.3 1358.9,142.4 1359,142.2 1359.1,142.9 1359.1,142.7 1359.7,144.6 1359.3,144.2 1359.5,145.2 1359.5,144.9 1360.1,145.4 1358.4,148.6 1360,147.4 1359.4,148.8 1359.4,149.2 1359.2,149.4 1358.8,150 1359.6,151.8 1359.5,151.5 1360.2,152.3 1359.3,153.1 1360.8,155 1360.3,155.1 1360.1,155.5 1360,155.2 1360,155 1359.9,158 1360.3,158.7 1360.7,158.2 1360.6,159.6 1360.1,160.5 1360.7,161.2 1360.5,161.9 1361.1,161.2 1362,163.8 1361.5,161.6 1361.1,164.4 1360.5,164.7 1360.7,165.7 1360.6,167.3 1361.9,167.6 1361.2,165.5 1361.7,165.6 1361.4,168.7 1361.8,167.5 1362.6,169.1 1361.6,167.2 1361.8,168.6 1361.7,168.8 1362.6,171.8 1361.7,172.2 1361.7,172.5 1361.6,173.4 1361.7,173 1362.7,173 1363.8,174.9 1362.1,174.7 1363.1,174.6 1362.8,177.4 1362.2,177.5 1362.7,178.5 1362.8,177.7 1362.6,178.7 1364,178.9 1362.1,179.6 1363.3,181.3 1363.3,180.9 1362.9,182.7 1363.4,183.3 1363.8,185.6 1363.5,182.7 1363.7,185.7 1363.9,185.3 1362.5,185.9 1364.4,189.4 1364.9,186.7 1364.3,188.5 1364.3,188.3 1363.1,189 1363.9,189.3 1363.6,191.4 1363.7,190.7 1364.6,189.1 1363.7,191.2 1364.1,190.5 1363.3,189.8 1364.2,193.2 1364.4,195.8 1364.1,195 1364.1,194.3 1365.5,195.2 1364,198 1364.1,197.5 1364.3,198 1365.4,198.5 1365.9,199.2 1365.1,200.6 1364.6,201 1364.8,201.2 1365.6,200.5 1364.6,202.7 1365.9,202.1 1366,204.5 1365.3,202.7 1365.7,204.4 1365.8,205.2 1366.3,204.4 1365,208.2 1366.2,208.5 1365.5,207.1 1365.3,209 1365.8,209.2 1365.7,206.6 1365.4,210.3 1365.1,210.5 1365.5,211.3 1366.9,210.7 1367.2,212.1 1366.6,212.8 1366.9,214.9 1366.1,214.6 1366.3,214.8 1366.6,217 1365.9,215.4 1366,216.2 1366.7,215.3 1366.5,219.5 1366.2,219.5 1367,220 1366.7,220.3 1367.5,220.4 1367,221.1 1366.9,221.2 1367.2,221.8 1367.1,222.7 1366.9,224.9 1367.1,224.4 1367.8,224.4 1367.8,224.4 1368.2,225 1366.6,228 1367.4,227.4 1367.4,227.5 1367.8,227.7 1367.6,227.5 1367.6,229.2 1368.3,230.8 1368.1,230 1367.4,230.8 1368.8,231.4 1368.7,232.4 1367.9,231.1 1368.7,233.2 1367.9,233.1 1369,235.6 1368.4,234.4 1368.1,236.5 1368.4,238.1 1368.2,236.7 1368.8,237 1368.9,238.5 1368.9,238.9 1368.6,238.4 1367,240.6 1369.1,242.9 1368,241 1369.3,241.7 1369.8,241.4 1369.4,243.4 1369.1,242.3 1369.3,243.1 1369.4,246.3 1369.2,244.5 1369.2,247.3 1369.1,248.4 1370.3,247.6 1369.7,248.5 1370.3,250.7 1369.7,248.9 1370,249.1 1369.9,248.8 1370.3,251 1370.6,253.1 1370.3,253.2 1369.8,251.7 1369.8,252.4 1371.3,253.4 1370.2,254.8 1370.3,254.9 1371.3,256 1371.2,256.7 1370.9,256.6 1370.5,257.5 1372.1,258.4 1371,258.6 1371.2,259.9 1370.8,262 1370.2,261.2 1370.3,261.2 1371.3,259.9 1371.4,262.8 1371.1,260.8 1370.6,262 1370.5,265.1 1371.2,265.5 1370.6,265.2 1372,264 1372.2,266.1 1373.2,266.4 1372.2,268.5 1371.4,270.9 1371.3,269.2 1369.9,268.7 1371.6,268.8 1371.9,270.7 1372.6,271.2 1372.5,270.7 1372.5,272.7 1372.3,271.9 1372.7,275 1373.2,275.6 1371.8,276.2 1372.2,275 1371.7,276.8 1373.5,276.6 1373.4,276.9 1373.1,277.6 1372.1,277.1 1372.9,277.6 1372.7,280.7 1373,280.2 1372.9,281.2 1373.4,282.7 1372.9,280.2 1373.7,281.9 1373.4,283.6 1373.1,284.4 1373.3,284.2 1373.2,286.4 1373.9,286.1 1373.4,285.1 1373.8,286 1373.4,288.6 1372.9,288.9 1374.3,286.8 1373.2,291.1 1374.3,290.9 1374.2,292.4 1373.1,291.1 1373.6,291.8 1373.9,291.5 1373.8,296.4 1373.6,293.9 1374.8,296.6 1374.3,294.7 1374.7,296.3 1374.3,294.9 1374.8,297 1374.2,299.2 1374.7,297.3 1375.1,300.6 1374.9,300.4 1374.6,299.5 1374.3,300.8 1375.1,301.5 1375.3,302.6 1375,302.7 1374.8,303 1375.6,304.3 1376.8,304.1 1375.2,304.4 1375.7,306.5 1375.7,308.2 1374.1,306 1375.7,308.4 1375.3,308.3 1376.6,308.5 1375.7,311.3 1375.4,310.3 1375.8,313.2 1376.1,311.2 1375.8,313.1 1376.1,313 1375.4,313 1376.1,315.1 1376.8,314.8 1377.5,316.3 1376.9,316.1 1376.7,315.4 1377.3,317.1 1377.2,317.8 1377.7,319.4 1377.4,317.7 1376.7,319.3 1377,317.8 1377,321 1377.1,319.5 1377.1,319.1 1376.6,321.6 1375.9,323.5 1376.8,320.8 1376.1,322.3 1377.5,323.6 1377.6,324 1376.7,326.6 1378.2,325.9 1378.4,326.8 1378.1,329 1379.2,328.1 1379.4,335.4 1377.7,329.1 1379.1,329.4 1378.9,329.2 1379,334.2 1379.4,332.1 1378.6,333.3 1378.8,333.5 1378.7,334.2 1378.9,334.6 1379.4,337.3 1378.7,334.2 1379,334.1 1380.1,335.2 1379.8,335.3 1380.2,338.3 1379,338.9 1379.7,337.2 1380,337.2 1380.4,339 1380.1,341.7 1381.2,337.1 1380.7,341.9 1380.8,340.6 1380.9,343.8 1381.5,341.8 1380.8,343.4 1381.9,342.4 1381.6,343.7 1381.5,347.3 1381.5,347.2 1381.9,346.2 1382.4,346.2 1382.4,345.4 1382.1,347.9 1382.5,349 1382.1,349.5 1383,350.1 1382.2,349.3 1380.9,351.3 1383.4,351.9 1382.6,354.3 1381.9,355.7 1382.6,353.6 1382.3,353.3 1384.5,354.9 1383.5,354.7 1382.1,355.1 1383.7,356.7 1383.2,355.8 1385,353.2 1382.9,358.4 1382.2,359.5 1384,359.4 1383.8,359.2 1383.9,359.5 1382.7,361.1 1384.8,361.3 1385.9,363.1 1383.3,363.3 1385.7,361.8 1384.6,364.6 1386.9,363 1385.6,364.7 1385.2,365.8 1386.4,363.6 1386.1,367.6 1385.3,368.3 1386.5,368.4 1385.7,368.6 1384.8,369.2 1388,368.8 1386.2,370.6 1386.1,370.7 1387.1,372.4 1385.7,370.9 1386,373.9 1386.8,374.4 1387,370.4 1387.6,374.7 1388.7,377 1387.4,373.8 1388.4,378.1 1388.7,378.3 1387.4,379 1388.7,379.8 1387.8,378.6 1389.7,379.9 1389.4,382.1 1389.1,385.9 1388.1,382.5 1389.6,380 1388.9,384.3 1390.4,386 1389.8,386.3 1389.4,385.4 1391.2,382.5 1391.2,387.8 1390.2,386.4 1392.1,382.4 1391,388.7 1391.2,385.6 1391.9,386.6 1391.3,388.5 1391.8,392.9 1392.4,390.2 1394.4,392.1 1394.7,395.7 1393.1,395.9 1395.4,392.9 1393.9,393.1 1394.6,391.4 1395.5,393.1 1395.1,396 1397.8,396.5 1395.7,390 1394.4,398.7 1397.6,395.4 1396.1,397.6 1396.6,399.9 1394.1,400.1 1399,401.8 1399.3,397.4 1399.7,399.6 1400.4,401.6 1401.7,398.9 1400.1,397.8 1401.7,403.4 1400.1,402.2 1401,403.4 1403,399 1402.9,402.7 1401.4,402.5 1404,402.2 1403.8,399.1 1403.6,403.8 1405.8,403.7 1405.5,405.4 1404.5,402.9 1405.5,404.2 1409.7,405.9 1406.1,396.8 1408.8,403.1 1409.9,404.5 1410.6,404.5 1408.8,406.8 1410.5,405 1411.7,402.5 1413.1,402 1411.8,402.9 1411.6,399 1414.9,399.9 1415.5,402 1414.9,404.4 1414,398.3 1415.7,398.1 1415.7,398.3 1417,400.9 1414.5,396.6 1416.7,400.2 1416.6,393 1415.7,398.5 1417.9,394.1 1418,396.2 1417.8,396.4 1419.3,388.8 1417.2,390 1419.5,393.1 1420.5,384.9 1420.7,387 1422.3,393.8 1419.5,391.8 1419.5,391.3 1422.4,388.2 1423.1,391.9 1425.9,387.9 1424.3,391.2 1422.6,385.1 1425.4,384.8 1423.6,387.4 1423.1,384.4 1429.3,387.8 1426.5,386.2 1427.5,382.4 1427.7,384.8 1429.9,383.1 1428.2,386.2 1429.9,381.4 1427.2,381.5 1427.1,385.8 1431.5,388.2 1432,387.1 1431.1,381.2 1431.1,381.2 1431.4,391.5 1430.7,379.3 1434.2,376.5 1433.4,385.2 1433.6,379.6 1433.9,375.5 1435.3,372.8 1434.9,372.9 1435.7,383.9 1433.4,374 1436.2,375.3 1439,375.9 1435.6,376.6 1436.6,373.5 1438.5,375.4 1439,371.1 1439,372.2 1436.2,369.8 1439.7,375.6 1437.7,377.1 1438.6,369.3 1441,370 1440.2,369.9 1442.2,372 1446,365 1443,366 1443.3,373.5 1441.3,375.3 1442,370.4 1441.7,366.9 1442.8,368.8 1442.3,366.4 1443.2,365.1 1444.1,364.3 1443.3,368.3 1443,365.8 1443.4,365.8 1446.3,361.9 1446.1,368.3 1447.8,367.2 1448.2,363.4 1446.5,363.1 1448.4,354.8 1445.7,361.8 1451.5,358.8 1450.4,359.9 1448.8,360 1447.7,356.6 1450.2,352.3 1447.3,357.8 1449.1,354.2 1451.6,354.9 1450.9,353.7 1450.4,354 1452.8,347.9 1450.3,357.6 1452.5,354.3 1451.7,356.3 1451.5,358.3 1453.7,352.2 1452,346.4 1456.5,348.5 1453.3,347.1 1457.3,348.7 1453.2,349.8 1456,343.3 1453.8,349.5 1453.9,343.7 1456.5,348.4 1457.6,346.7 1455.2,345.5 1459.1,345.7 1456.6,343.8 1458.3,343.1 1459.1,339.4 1459.8,343.7 1456.7,348.6 1462,348.4 1460.9,346 1459.9,343.7 1459.4,339.1 1458.8,344.7 1459.7,339.8 1462.8,339.4 1461.9,338.3 1461.1,338.9 1462.3,336.9 1465.7,337.5 1463.3,334.1 1463.3,335.7 1466.5,343 1465.5,340.3 1465.3,334.7 1464.7,332.9 1463.7,336.5 1464.6,326.7 1466,332.8 1466.8,335.6 1468,326.5 1468.7,332.3 1468.6,336 1468.9,329 1467.5,330.7 1466.3,328.4 1469,333.8 1468.8,323.3 1469.6,326.5 1470.6,326.4 1469.5,329.5 1470.1,328.8 1472,330.6 1472.7,321.5 1472,327.8 1474.1,324.3 1473.4,322.7 1472.6,325.8 1474.6,321 1477.7,317.2 1474.3,321.7 1477.4,318 1478.1,320.1 1478.7,322.6 1475.7,322 1480.2,331.4 1477.8,319.7 1477.6,315.4 1478.1,317.3 1479.8,316.3 1479.4,315 1479.6,326.2 1482.2,315.7 1479.7,311.3 1479.7,318.8 1482.9,316 1483.3,317 1484.3,315.8 1481.6,316.9 1485.2,314.8 1484.8,317.9 1487.2,315.1 1483.2,314.7 1485.9,314.3 1485.6,308.4 1484.2,311.9 1485.9,311.2 1489.1,312.3 1487.2,307.2 1487.3,315.8 1490.2,310.9 1490.8,306.6 1491.3,304.8 1489.2,308.7 1490.7,308.9 1492.8,306.7 1490.8,308.7 1491.1,306.2 1493.9,309.4 1495.5,305.3 1491.9,306.9 1490.3,309.6 1492.5,314 1493.6,303 1495.4,304.2 1497,302.7 1496.4,307.2 1496.1,301.1 1497.9,302.7 1496.7,303.7 1498.6,300.4 1498.2,300.1 1503.7,301.2 1501.4,292.6 1499.4,297.6 1499.7,300.3 1501,301.6 1499.7,300.3 1501.6,295.1 1502.1,298.7 1505,302.2 1503.6,301.1 1503.5,298.8 1503.2,296.1 1504,300.3 1506.1,296.3 1506.4,294.2 1508.9,295 1506.8,301.4 1509.8,297.4 1509.1,299.9 1509.3,294.6 1506.8,298.6 1508.3,293.6 1511.9,294.6 1513.4,302.3 1512.1,296.8 1513.5,292.7 1512.3,301.3 1512.9,294.5 1513,296.9 1516,291.4 1515.6,287.4 1515.3,291.4 1515.7,292 1517.6,292 1517.8,295.3 1516.6,286.8 1521,293.2 1519.3,287.2 1519.5,292.8 1522.3,296.2 1522.1,291.9 1521,290.1 1522.5,289.5 1520.6,294.2 1521.8,285.7 1519.9,295.9 1525.7,289.4 1521.6,290 1526,286.2 1524.2,288.2 1524.5,286.2 1526.2,287.2 1527.5,286.2 1528.5,283 1530.7,286.1 1529.1,288.6 1530.5,282.9 1528.9,284.8 1531.5,287.3 1531.3,281.9 1531,285.5 1532.1,281.6 1532.8,288 1533.7,291.4 1534.6,290.4 1533.9,283.5 1534.1,286.3 1536.9,284.3 1533.8,284.1 1536,288.3 1539.8,279.6 1534,286.6 1537.6,283.2 1540.3,287.5 1537.3,283.7 1544.3,281 1537.1,283.8 1543.7,285 1544.5,282.8 1544.1,284.1 1543,280.9 1544.4,276 1543.1,285 1546.3,284.2 1543.9,276 1545.8,282.1 1548.2,284.9 1545.6,280.3 1547.3,279.5 1548.7,280.9 1547,285 1551.3,270.9 1550.6,284.8 1548.4,279.2 1551.2,277.7 1550.6,284.7 1551.4,280.5 1553.1,276.8 1552.5,279.6 1555.6,283.3 1553.8,284 1556.9,279.1 1556,281.5 1558,282.3 1556.6,278.2 1557.3,281.1 1556.9,279.8 1560.1,278.3 1561.2,278.3 1563.6,279.9 1563,279.7 1562.1,277.9 1562,278.2 1563.6,282.8 1563.7,280 1566.6,281.9 1566.5,282.8 1564.5,280.9 1565.5,285.9 1569.3,276.5 1568.4,281.4 1568.3,277.9 1571.1,284.4 1569.4,283.8 1570.3,272.8 1570.7,275.7 1569.1,280.6 1573.9,280.9 1571.5,280.7 1573,278.2 1573.3,279.7 1576.1,280.2 1575.4,278 1576,273.3 1574,271.4 1576.8,280 1575.1,275 1578.1,280.9 1578.6,277.3" fill="none" stroke="#000" stroke-width="3.2" stroke-linejoin="round" stroke-linecap="round"/>
<path d="M1293.5,75.7 1293.7,77.4 1294,77.2 1294.2,81.5 1294.5,73.2 1294.8,82.1 1295.2,67 1295.5,86.5 1295.9,86.8 1296.3,88.6 1296.7,85.9 1297.1,92.3 1297.5,86.2 1298,88.9 1298.4,79.8 1298.9,85 1299.4,74.2 1299.8,88.4 1300.3,78.8 1300.8,81 1301.3,83.8 1301.8,83.3 1302.2,75.3 1302.7,83.6 1303.2,81.6 1303.6,81.1 1304.1,81.4 1304.6,82.9 1305,74.4 1305.4,88.5 1305.8,78.4 1306.2,78.5 1306.6,70.2 1306.9,88 1307.3,85 1307.7,88.4 1308.1,88.4 1308.5,78.2 1309,71.5 1309.4,76.7 1309.8,86.8 1310.2,78.4 1310.6,80.7 1311,81.1 1311.4,81.8 1311.8,81.7 1312.2,85.5 1312.6,86 1313.1,77.9 1313.5,81.2 1313.9,77.1 1314.3,82.1 1314.7,77 1315.1,76.8 1315.5,90.8 1316,82 1316.4,84.6 1316.8,92.6 1317.2,85.2 1317.6,81.5 1318,82.2 1318.4,78.9 1318.8,86.7 1319.3,80.7 1319.7,89.6 1320.2,80.8 1320.6,80.8 1321.1,91.4 1321.6,85 1322,83.3 1322.5,88.3 1323,80.3 1323.4,83.9 1323.9,90.9 1324.4,81.8 1324.9,85.2 1325.3,99.6 1325.8,80.2 1326.2,80.5 1326.6,74.6 1327.1,93.4 1327.5,85.2 1327.9,88.7 1328.3,81.5 1328.7,91.2 1329,85.8 1329.4,78.7 1329.7,80 1330,85.4 1330.3,81.8 1330.5,83 1330.8,77.2 1331,81.9" fill="none" stroke="#ff0000" stroke-width="2.6" stroke-linejoin="round" stroke-linecap="round"/>
<path d="M1331.4,82.9 1331.2,84.6 1331.2,82.3 1331.7,85.8 1332.2,86.8 1332.7,85.1 1330.9,86.7 1332.4,87 1333,86.7 1332.8,86.7 1333.7,85.9 1335.3,90.3 1334.7,89.2 1334.4,92.4 1335,91.1 1335.3,91 1335.8,90.6 1335.5,92.9 1336.3,91.5 1335.9,94 1337.5,92.8 1337.3,93.8 1337.2,92.9 1337.5,96.3 1337.5,94.9 1337.6,95.1 1337.5,96.4 1337.8,95.8 1337.7,97.5 1338,96.6 1338.6,98.2 1338,97.5 1339.1,97.4 1338.3,98.7 1338.7,98.5 1338.5,100.3 1338.7,100.4 1339,101.2 1338.6,101.4 1338.9,101.7 1338.9,102.5 1339.1,103.6 1339.3,103.5 1339.3,103.9 1339.3,104.5 1339.4,105.3 1339.1,105.4 1339.9,107.2 1339.7,106.1 1340.1,106.6 1340,107.5 1339.7,108.5 1339.4,108.5 1340.2,108.7 1340.2,109.3 1340.1,110 1339.9,111.2 1340.3,110.8 1340.2,111.8 1340.2,112.1 1340,113.1 1340.4,113.7 1340.6,113.3 1340.8,115.8 1340.4,115.2 1340.7,115.4 1340.6,115.7 1340.5,116.6 1340.8,117.2 1341,118 1340.5,118.2 1341.3,118.9 1340.8,118.3 1340.8,119.2 1341.2,119.5 1341.6,120.6 1341.2,121.1 1341.2,120.4 1341.1,121.2 1341,121.6 1341.5,121.7 1341.5,120.6 1341.1,121.4 1341.1,121.3 1341,120.9 1341.1,122.2 1341.3,120.9 1341.1,121.6 1341.2,122.5 1341.1,123 1341.5,123.7 1341.4,125.6 1341.7,127 1341.4,128.5 1341.4,130.5 1341.6,130.3 1342,130 1341.6,132 1341.8,130.7 1341.4,132.6 1341.5,131.7 1341.6,132.2 1342,132.4 1341.5,133.3 1341.4,132.9 1341.8,134.4 1341.6,134.1 1341.8,134.3 1341.9,134.3 1341.7,135.1 1342,135.3 1342.1,136.6 1342.1,136.5 1342.2,135.7 1342,137.6 1342,136.1 1342.1,138.4 1342.1,137.1 1342.1,138.5 1341.9,139.3 1342.3,139.3 1342,139.2 1342,140.8 1341.9,139.7 1342.2,140.3 1342,142.2 1342.1,141.5 1342.4,142.5 1342,143.3 1342.5,143.3 1342.4,143.9 1342,144.3 1342.6,144.9 1342.3,145.8 1342.5,146.2 1342.5,146.4 1342,147.1 1342.7,146.9 1342.3,147.3 1342.5,147.7 1342.5,149.1 1343,150 1342.9,149.7 1342.7,149.2 1342.7,150.5 1342.6,151.5 1342.6,151.9 1342.5,152.3 1342.5,153.3 1342.7,153.8 1342.4,153.2 1342.9,154.6 1342.4,154.6 1343.1,155.6 1343.2,156.6 1342.9,157.5 1343.2,157.5 1343.2,157.4 1342.9,158 1343.1,159 1343.2,158.8 1343,159.8 1342.8,160.7 1343.2,161.5 1343.3,161.4 1343.2,162.3 1343.4,163.4 1343.4,163.4 1343,162.9 1343.2,164.5 1343.5,165.1 1343.6,165.3 1343.7,166.1 1343.3,165.9 1344,167.8 1343.2,168 1343.4,168.1 1343.2,169.1 1343.3,169.6 1344,169.7 1343.8,169.3 1343.6,169.8 1343.7,172.8 1343.5,171.8 1343.9,172.8 1343.9,173.8 1343.5,174 1343.7,175.3 1344.3,174.8 1343.4,176.1 1344,175.4 1343.7,177.4 1344,177.9 1343.9,178.4 1344,178.9 1343.9,179.5 1343.8,180.3 1344,180.9 1343.9,180.6 1344.1,182.1 1344.3,181.7 1344,182.8 1344.4,183.2 1344.1,184.1 1344.3,184.3 1344.3,185.2 1344.1,185.3 1344,185.7 1344.5,187.2 1344.5,187.5 1344.6,188.1 1344.8,188.8 1344.5,188.4 1344.2,189.9 1344.3,189.5 1344.5,190.8 1344.2,191 1344.6,191.8 1344.6,192.5 1344.5,192.7 1344.8,192.8 1344.4,194.3 1344.8,194.9 1344.9,195.2 1344.5,195.9 1344.8,195 1344.9,196.5 1345.1,196.9 1345.1,196.5 1344.6,198 1345.1,198.5 1345.1,198.2 1344.9,199.1 1345.2,200 1345,200.8 1345.1,201.3 1345.2,200.9 1345.1,201.4 1345.3,202.2 1345.5,202.9 1345.5,203.1 1345,203.7 1345.2,204.7 1345.2,205.1 1345.4,205.3 1345.6,205.1 1345.2,205.9 1345.5,206.8 1345,207.4 1345.4,208.1 1345.7,207.6 1345.6,208.5 1345.5,208.7 1345.7,208.4 1345.6,209.9 1345.7,210.1 1345.7,212.3 1345.9,212.4 1346,212.4 1345.7,213.3 1345.7,214 1346.2,215.3 1346,215.3 1345.8,216.2 1345.9,216.3 1345.9,217.2 1346,217.8 1345.4,218.1 1345.9,218.2 1346.1,219.3 1346.1,219.1 1346.1,220.5 1346,220.2 1346.2,220.5 1346.1,222.3 1346.2,221.7 1345.8,222.5 1346.3,222.4 1346.1,223.1 1346.6,223.8 1346.4,224 1346.3,225.6 1346.1,225.1 1346.6,225.4 1346.4,227.1 1346.3,227.4 1346.3,226.4 1346.2,227.7 1346,229 1346.3,228.6 1346.6,229.4 1346.3,229.9 1347,229.4 1346.6,230.6 1346.5,231.9 1347.1,232.7 1346.9,232.5 1346.8,232.9 1346.7,233.7 1346.7,234 1346.6,234.7 1346.8,234.5 1346.9,235.4 1347.1,236.2 1346.9,236.7 1346.9,236.1 1347,237.8 1347.4,237.9 1347,238.4 1347.2,237.9 1347,239.3 1347,239 1346.8,239 1347.2,240.8 1347.2,241.2 1347.2,241.7 1347,242.2 1347.2,242.6 1347,243.6 1347.4,244 1347.3,244.9 1347.5,245.8 1347.6,245.4 1347.5,245.9 1347,246.9 1347.4,246 1347.3,246.7 1347.3,247.5 1347.5,247.1 1347.8,248.8 1347.7,249.6 1347.4,248.6 1347.5,249.3 1347.6,250.7 1347.7,251.4 1347.6,250.3 1347.7,251.9 1347.6,252 1348.1,251.7 1347.8,252.9 1348,253.3 1347.9,254.1 1347.5,254.5 1347.9,254.9 1347.7,255.4 1347.8,255.9 1347.8,256.7 1347.9,257.4 1348.1,257.9 1347.9,257.4 1348,258 1348.1,258.5 1347.8,260.1 1348.3,260.1 1348,259.9 1348.3,260.2 1348.5,260.8 1348,261.8 1348.6,261.8 1348.4,262.8 1348.5,264 1348.5,263.7 1347.7,264.7 1347.8,264 1348.2,265.5 1348.4,266 1348.1,265.8 1348.5,267.5 1348.4,267.3 1348.5,267.5 1348.5,268.2 1348.4,269.3 1348.8,268.6 1348.8,269.9 1348.6,269.8 1348.7,270.9 1348.3,271.1 1348.1,271.8 1348.6,272.7 1348.4,272.9 1348.7,273.6 1348.4,274.2 1348.5,274.6 1348.9,275 1348.4,275.4 1348.9,276.2 1348.7,277 1348.4,277.8 1348.5,278.2 1348.3,277.4 1348.6,278.5 1349,279.1 1348.4,280 1348.8,280.4 1349.2,279.7 1348.7,281 1349.2,280.5 1348.6,281.7 1349.1,281.9 1348.9,282.6 1349,284.2 1349.1,283.6 1348.9,284.2 1348.9,285 1349,285.9 1349.4,285.1 1349.7,287.2 1349,286.5 1349.2,286.9 1348.9,288 1349.6,288.8 1349.1,290.3 1349.4,289.9 1349.1,289.6 1349.1,290.3 1349.2,290.5 1349.1,291.8 1349.4,292.4 1349.4,292.3 1349.6,293.5 1349.2,292.6 1349.1,293.7 1349.5,294 1349.4,294.7 1349.3,294.6 1349.5,296.4 1349.7,296 1349.6,296.9 1349.3,298.1 1349.5,298.8 1349.2,299.1 1349.3,297.9 1349.3,299.3 1349,299.8 1349.4,300.1 1349.6,300.6 1349.2,301.2 1349.8,302.3 1349.5,302.3 1349.2,302.3 1349.6,302.7 1349.7,304.1 1349.8,303.6 1349.8,305.4 1349.9,305.3 1349.7,305.8 1349.7,306.6 1349.7,306.8 1349.5,307.9 1350.1,307.4 1349.9,307.6 1349.8,310 1349.9,309.6 1349.9,308.7 1349.6,311.4 1349.5,310.3 1350.1,312.6 1350,313 1349.9,313 1350.2,313.1 1350,313.1 1350,314.5 1350,314.4 1350,315.6 1350.2,315.4 1350.2,315.3 1350,316.2 1349.9,317.1 1350.1,317.3 1350,318.2 1350.2,318.1 1349.8,319.9 1350.1,319.3 1350.1,320.4 1350.1,319.8 1349.9,321.5 1350.4,322.4 1350.2,322.4 1350.4,322.5 1350.2,322.6 1350.2,323.9 1350.4,324.4 1350.5,324 1350.2,325.1 1350.2,325.9 1350.2,325.7 1350.4,326.9 1350.1,327 1350.5,328.4 1350.4,327.5 1350.4,328.9 1350.7,329.2 1350.8,328.7 1350.5,329.7 1350.3,330.3 1350.4,331.7 1350.6,331.5 1350.8,332.2 1350.4,332.8 1350.6,334.6 1350.9,333.6 1350.5,335.3 1350.9,334.7 1350.5,334.5 1350.6,335.4 1350.3,335.7 1350.7,336.7 1350.6,336.6 1351,337.4 1350.8,339.3 1350.6,339 1350.4,339.6 1350.5,340.8 1351.2,339.6 1351.3,341.2 1351.1,341.2 1350.6,342 1351.1,342.1 1350.9,343.1 1351,344.1 1350.8,344.6 1350.9,344.7 1351,345.5 1350.8,345 1351.2,344.6 1350.8,347.1 1351.1,348.1 1351.2,347.8 1351,347.8 1350.8,348.7 1350.9,349.8 1351.2,349.1 1351.3,350.2 1351.2,351 1351.3,350.7 1350.9,352.8 1351.4,352.6 1350.9,353.6 1351.4,352.7 1351.2,353.9 1351.1,355 1351.3,355 1351.1,355.9 1351.3,354.8 1351.2,356.2 1351.6,355.8 1351.5,357 1351.5,357.9 1351.6,358.3 1351.6,358.2 1351.5,359.5 1351.3,360.1 1351.5,360.3 1351.7,361.2 1351.6,361.9 1351.5,362.5 1351.5,362.2 1351.5,363.1 1351.2,363 1351.4,363.8 1351.3,364.9 1351.5,364.8 1351.4,365.1 1351.7,365.5 1351.9,366.6 1351.7,367.6 1351.7,367.8 1351.4,367.7 1352,368.7 1351.6,369.3 1351.6,370 1351.7,369.4 1351.8,370.6 1351.8,370.5 1351.8,371 1351.8,372.3 1352,372.5 1351.7,372.7 1351.9,373.8 1351.9,373.7 1352,373.7 1351.8,375.1 1351.5,374.6 1352,375.1 1352,375.8 1351.7,376.4 1352.2,377.5 1351.6,377.3 1352.3,377 1352,378.1 1352.1,379.1 1352.1,379.3 1351.9,379.8 1352.1,379.7 1352.5,380.6 1352.1,381.7 1352.2,382.2 1352.4,382 1352.5,382.6 1352.3,383 1352.4,384.4 1352.2,384.1 1352.4,384.8 1352.4,385.1 1352.4,385.5 1352.2,386.4 1351.8,387.4 1352.4,387.1 1352.2,388.5 1352.9,388.3 1352.4,389.2 1352.4,390.6 1352.2,390.9 1352.5,390.4 1352.4,390.7 1352.4,391.1 1352.5,392 1352.5,391.1 1352.4,392.2 1352.2,392.9 1352.1,393 1352.2,393.4 1352.5,395 1352.2,394 1352.7,395 1352.4,395.3 1352.7,395.8 1352.4,396 1352.4,397.3 1352.4,397.3 1352,398.7 1352.3,397.6 1352.6,398.8 1352.2,398.5 1352.4,399.7 1352.1,400.6 1352.5,399.9 1352.2,401.4 1352.4,400.9 1352.5,401.2 1352.7,402.4 1352.6,403 1352.5,403.1 1352.6,403.7 1352.4,404 1352.6,404.2 1352.4,403.8 1352.5,405.1 1352.7,405.4 1352.6,406.5 1352.8,406.3 1352.7,408.2 1352.5,407.9 1352.1,407.9 1352.2,408.9 1352.3,408.9 1352.7,410.1 1352.8,409.8 1352.7,411.2 1352.7,410.4 1352.7,411.5 1352.4,411.9 1352.6,412 1352.8,412.8 1352.7,413.4 1352.5,413.4 1352.4,414 1352.8,415.2 1352.9,415.1 1352.5,416.8 1352.7,417.4 1352.6,416.9 1352.9,417.9 1352.8,418.5 1352.9,419.1 1352.7,419.1 1352.9,420.3 1352.6,420.2 1352.8,421 1352.7,422.3 1352.6,422.2 1352.9,422.4 1353.2,423.2 1353,424.3 1353,424.3 1352.6,424.9 1353.2,426.1 1352.7,426.2 1353.1,428.4 1353,427.6 1353.1,429 1353,428.6 1353.2,429.8 1353,430.8 1353.3,431.1 1353.2,431.5 1353.1,431.3 1353.3,432.1 1353.1,432.3 1352.9,432.1 1353.2,433.8 1353,433.3 1353.6,434 1353.4,434.9 1353.3,435.3 1353.1,436.7 1353.2,435.8 1353.4,437 1353.2,436.6 1353,437.1 1353.5,438.1 1354,438.4 1353.5,438.2 1353.6,438.9 1352.9,439.5 1353.2,440.7 1353.4,439.9 1353.2,440.9 1352.9,441.5 1353.4,441.8 1353.5,441.9 1353.9,443 1353.5,442.6 1353.4,444.6 1353.2,442.7 1353.6,443.6 1353.6,445.1 1353.5,445.8 1353.4,446.2 1353.7,446.2 1353.6,446.9 1353.8,447.5 1353.9,447.5 1353.7,448.3 1353.5,448.5 1354,450 1353.6,450.2 1353.6,450.2 1353.9,450.8 1353.8,451.2 1354.2,451.8 1354,452.6 1353.9,452.8 1354.1,453.2 1354.1,454.2 1353.9,454.5 1354.4,455 1354.1,455.6 1354,456 1354.1,456 1354.2,457 1354.1,458.3 1354.1,457.8 1354.1,458.3 1354.3,459 1353.9,459.6 1354.1,461 1354,460.7 1354.6,461.9 1354.7,462.3 1354.3,462.8 1354.2,463.3 1354.3,463.7 1354.1,464.3 1354.3,465.2 1354.3,464.1 1354.4,465.8 1354.4,466.7 1354.6,466.4 1354.8,467.2 1354,468.2 1355.2,467.4 1354.4,469 1354.5,468.9 1354.2,470.1 1354.3,470.7 1354.5,471.2 1354.6,471.1 1354.2,472.1 1354.6,472.3 1354.5,473.4 1354.7,473.6 1354.9,473.9 1354.9,475.3 1354.4,474.8 1354.8,475.7 1354.9,477 1355,477.2 1354.7,478 1354.8,477.6 1354.8,478.7 1354.9,478.8 1354.8,478.9 1354.8,480.6 1355.4,480.3 1354.6,481.4 1355.1,481.4 1355.1,482.7 1355.2,483.3 1354.8,483 1355.1,483.6 1355,483.3 1355.1,484.9 1355.2,485.6 1354.9,485.9 1355.2,487.2 1355.2,487.3 1354.9,487.9 1355.7,488.1 1355,488.2 1355.5,489.5 1355.1,490.4 1355.3,491.2 1355.4,491.2 1355.4,491 1355.7,492 1355.4,492.8 1355.8,492.7 1355.5,493.6 1355.2,494 1355.6,494.4 1355.4,494.8 1355.8,496 1355.7,496.7 1355.7,497.5 1355.3,497.3 1355.7,498 1355,497.6 1355.5,499.1 1355.5,500.2 1355.4,499.6 1355.9,500.8 1355.5,500.8 1355.4,501.8 1356.1,502.4 1355.7,501.8 1355.9,502.6 1355.6,503.2 1356,504 1355.9,505.2 1356.3,505.1 1355.8,505.6 1355.9,506.2 1356.2,506.2 1356,507.6 1355.7,507.8 1356,508.4 1356,508.6 1356.3,508.3 1355.8,509.7 1356,509.6 1355.9,510 1356.1,512.3 1356,511.8 1356,511.6 1356.4,512.7 1356.2,513.3 1356.4,513.4 1356,513.5 1356.2,514.7 1356.6,515 1356.3,515.4 1356.3,514.7 1356.4,516.2 1356.4,517.4 1356.5,516.3 1356.3,517.1 1356.2,517.5 1356.4,518.2 1356.2,519 1356.6,520.6 1356.2,520 1356.4,521.6 1356.9,520.9 1356.5,522.2 1356.6,522.5 1356.6,522.9 1356.9,523.8 1357,524.9 1356.7,525 1356.5,525.7 1356.8,525.9 1356.9,526.7 1357,527.2 1356.9,528 1356.9,528.1 1357,528.4 1356.7,529 1357.1,529.6 1356.8,530.7 1357.1,530.5 1357,531.9 1356.9,532.2 1357,533.2 1356.7,533.3 1357.3,534.2 1356.9,534.5 1357.2,534.9 1357.7,535.2 1357.3,536.1 1356.9,536.5 1357.2,536.6 1357.1,537.2 1357.8,537 1357.8,539.1 1357.3,539.7 1358.1,539.4 1357.3,539.5 1357.6,541 1357.3,541.8 1357.2,541.7 1357.7,541.9 1357.6,543.4 1357.9,543.8 1357.6,544.4 1357.7,545.3 1357.7,544.9 1357.7,545.5 1357.6,546.9 1357.6,546.9 1357.9,548.2 1357.7,546.2 1357.9,547.2 1358,548.8 1358.2,549.2 1357.3,548.9 1357.8,549.5 1357.9,550.1 1358.3,551.3 1357.9,550.8 1358.2,551.9 1358.3,552.1 1358,551.5 1358.4,553.6 1358.3,554.9 1357.9,554.4 1357.9,555.4 1358.1,555.5 1357.8,555.9 1358,555.6 1358.7,556.8 1358.2,556.4 1358.4,557.6 1358.6,558.5 1358.2,559 1358.5,559 1358.6,559.8 1358.5,559.8 1358.1,561.2 1358.3,560.7 1358.8,563.2 1358.3,562.7 1358.8,562.7 1358.6,564.1 1358.7,563.2 1358.7,564.8 1358.5,564.3 1358.6,565.1 1358.6,565.3 1358.6,565.7 1358.2,566.2 1358.7,567.1 1359,567.3 1358.7,568.8 1358.7,568.4 1358.8,567.5 1358.8,568.9 1358.9,569.6 1358.8,570.3 1359.1,570.9 1359.1,570.4 1359.3,571.6 1358.9,571.5 1359.3,572.4 1358.9,572.7 1359.3,573.9 1359.1,574.2 1359.3,574.9 1359,574.2 1359.3,574.8 1359.3,575.5 1359.1,575.6 1359.1,576 1359.5,577 1359.8,578.3 1359.3,577.8 1359.7,578.9 1359.3,577.8 1359.5,580 1359.6,580.5 1359.6,579.9 1359.4,580 1359.7,581 1359.5,580.2 1360,581.6 1359.5,581 1359.6,583.1 1359.6,582.7 1360,583 1359.6,582.9 1359.9,585.3 1359.9,585.3 1359.9,585.5 1360,587 1360.1,586.3 1360,588.2 1360,588.9 1360.1,588.6 1359.9,590 1360.4,590.8 1359.9,590.1 1359.9,590.7 1360.1,592 1360.1,592.5 1360.5,592.3 1360.4,591.7 1360.2,593 1360.4,594.9 1360.5,594.6 1360.6,594.9 1360.3,596.1 1360.6,595.5 1360.7,598.1 1360.8,596.5 1360.3,597.9 1360.9,598.7 1360.5,599.3 1361,598.9 1360.3,599.8 1360.8,601 1360.8,601 1361.1,601.8 1361.2,602 1361,602.5 1360.7,602.5 1361.4,602.8 1361.2,603.7 1361.3,603.8 1361,605.5 1360.9,605.7 1361.3,606.4 1361.4,605.5 1361.2,606.1 1361.6,607.5 1361.7,607.7 1361.4,608.2 1361.4,609.1 1361.6,608.5 1361.2,608.9 1361.8,609.5 1362,611.5 1361.6,610.9 1361.7,611 1362.3,612.5 1361.9,612.7 1362,613.2 1361.6,613.5 1361.9,613.5 1361.8,615 1361.8,615 1361.7,614.4 1361.8,614.9 1362.3,615.6 1362.3,616.8 1362.2,616.6 1362.4,617.2 1362,617.6 1362,618.3 1362.2,619.4 1362.2,619 1362.7,619.7 1362.4,621 1362,619.9 1362.7,621.3 1362.1,621.7 1362.2,622 1362.7,623.1 1362.9,624.1 1362.3,623.5 1362.6,624 1362.7,624.8 1363.1,624.4 1362.9,625.3 1362.4,626.2 1363,626.6 1362.7,626.6 1362.8,628.1 1363.4,627.4 1362.9,628.2 1363.3,628.5 1363.1,629.7 1363.2,630.5 1363.1,630.5 1363.1,631.7 1363.1,631.4 1363.3,632.2 1363.7,632.7 1363.5,633.1 1363.4,633.7 1363.4,633.7 1363.4,633.7 1363.8,634.9 1363.3,635.5 1363.7,636.1 1363.7,636.3 1364.1,636.7 1363.5,638.8 1363.3,638.7 1363.7,639 1363.8,639.5 1363.7,639.6 1364.2,640.4 1364,641.5 1363.8,642 1364.2,641.7 1364.4,642.3 1364,642.8 1364.3,643.2 1364.4,644.6 1364,644.9 1364.2,645.3 1364.2,645.4 1364.5,646.8 1364.2,646.7 1364.2,646 1364.2,648.4 1364.7,648.4 1364.4,648.5 1364.6,650 1364.3,648.6 1364.8,650 1364.6,651.2 1364.7,651 1364.7,652.9 1364.8,653.4 1365,653 1364.8,653.5 1365.1,654.8 1364.9,654.7 1364.8,654.4 1364.8,655.3 1364.9,655.5 1364.9,656.8 1365.2,657 1365.3,658.2 1365.1,658.1 1365.1,658.1 1365.5,658.4 1365.2,660.2 1365,660.6 1365.7,660 1365.5,660.2 1365,660.6 1365.4,662.4 1365.6,662.2 1365.4,663.8 1365.5,663.1 1365,663.7 1365.6,664.2 1365.7,665.1 1365.5,666.1 1365.7,665.2 1365.5,666.6 1365.8,667.3 1366,667 1366,667.3 1366.1,668.5 1366.3,668.1 1366,668.8 1365.9,668.9 1366.2,669.5 1366.1,670.4 1366.9,671 1365.8,671.3 1366.3,672 1366.2,671.9 1366.8,674.2 1366.7,673.1 1366.4,674.5 1366.7,674.4 1366.8,675.4 1366.8,674.9 1366.7,676.1 1366.8,676.4 1366.9,677.7 1367.3,678.1 1366.8,678.2 1367.2,678.7 1366.9,679.9 1367.3,680 1367.2,681.1 1368,681.4 1367.3,681.6 1367.7,682.2 1367.5,681.9 1367.4,683.3 1367.7,683.8 1368,684.4 1367.5,685.6 1368.1,685.5 1368.1,685.9 1368.3,686.4 1368,686.7 1368.7,688.1 1368.5,687.9 1368.7,689 1368.7,689.2 1368.8,689 1368.5,690 1368.9,690.9 1368.5,690.6 1368.9,691.3 1368.8,691.7 1369.1,692.2 1369.2,693.1 1369.2,692.8 1369.2,693.5 1369.3,694.2 1369.4,693.3 1369.2,694.9 1369.5,695.6 1369.8,696.2 1369.4,696.2 1369.8,696.5 1369.7,697.9 1369.8,697.5 1369.9,698.6 1369.9,698.8 1370.3,698.9 1370.3,699.5 1370,699.8 1370.1,701.2 1370.3,701.2 1370.3,700.6 1370.5,703.1 1370.7,703.3 1370.6,703.7 1370.8,702.9 1371.4,703.7 1370.9,704.2 1371.1,706.1 1371.1,705.7 1371.1,706.4 1370.9,706.6 1371.2,706.4 1371.6,708.6 1371.5,710.1 1371.7,708.8 1371.9,708.9 1371.5,709.6 1371.7,710.2 1371.6,710.1 1371.7,711.4 1372.6,712.1 1372.1,711.6 1371.9,713.8 1372.5,713.6 1372.2,713.5 1372,715.1 1372.4,717 1372.9,717.4 1372.8,717.7 1372.8,718.2 1372.8,718.6 1372.5,718.9 1373.3,719.5 1372.6,721.2 1373.3,719.3 1374.3,721 1372.6,719.2 1374,721.9 1373.9,723.1 1373.4,721.7 1373.9,724.5 1373.5,722 1373.8,725.2 1374.3,723.7 1373.7,724.8 1374.2,724.4 1374.7,726 1374.2,725.5 1374.4,727.5 1373.5,726.5 1374.2,727.2 1374.3,727 1375.4,728.2 1374.4,727.5 1374.8,728.1 1374.7,727 1375.1,728.6 1375.1,729.5 1375.2,730.5 1375.3,731.5 1376.1,730 1375.2,733.9 1375,736.6 1376.1,734 1376.6,731.5 1375.5,736.1 1376,735.4 1376.3,735.5 1376.8,736.5 1376.6,736.7 1376.4,736.7 1377.7,738.4 1377.4,738.2 1376.9,737.7 1377.4,739.8 1378.2,741.1 1377.3,741.6 1379.5,738 1377.9,740.3 1378.8,741.8 1378.2,741.6 1379.3,741.7 1378.6,744.6 1379.7,743.7 1379.9,744.5 1379.6,741.3 1378.9,742 1379.7,744.2 1380.5,741.7 1380.9,747.8 1379.8,744.8 1382.1,749.8 1382,747.3 1382.4,746.1 1381.9,748.8 1381.9,750.2 1383.4,747.3 1383.4,747 1381.8,747.2 1385.5,747.9 1384,745.3 1384.5,745.2 1384.3,745.1 1386.3,743.8 1385.4,744.3 1386.1,741.3 1386.2,737.8 1385.3,740.6 1386,740.6 1385.9,745.4 1387.4,743.2 1387.9,741.3 1386.4,738.9 1386.6,737 1387.9,737.8 1387,740.1 1388,738.2 1386.5,735.6 1388.7,738.1 1387.9,735.5 1389.1,737.7 1387.5,740.7 1388.5,737.7 1388.4,728.9 1389,737.1 1390.1,732.4 1390.9,733.6 1391,733 1389.1,732 1392.5,726.6 1389.4,733.8 1389.9,727.9 1389.7,727.7 1391.3,734.8 1390.5,731 1392.5,727.4 1392,724.4 1391.9,729.1 1392.8,726.9 1393.6,729.3 1391.8,729.9 1391.6,723.2 1391.6,722.7 1392.2,725.1 1391.9,722.8 1392.2,723.2 1391.6,724.4 1391.5,724 1392.4,723.8 1392.5,726.5 1393.6,723.4 1394.2,723.9 1394.1,719.6 1392.7,722.8 1396,719.4 1395.3,718.4 1395.2,717.9 1396,721.9 1395.8,717.5 1395.5,718.8 1395.6,717.6 1395.4,718.1 1395.2,714.7 1395,712.3 1394.8,714.4 1395.7,714.9 1397.2,711.9 1397.6,713.5 1395.8,714.8 1397.5,707.3 1396.1,715.9 1398.4,714.1 1397.4,711.8 1396.6,713.5 1397.3,704.7 1396.1,709.9 1397.8,709.9 1396.7,714.5 1398.1,717 1396,712.2 1398.1,708.7 1399.2,704.7 1398,701.9 1399.4,702.7 1398.5,703.8 1399,704.9 1399.8,703.8 1397.7,704.1 1399.3,701.4 1400.1,701.4 1399,703.1 1399,700.9 1400.1,699.3 1399.4,705.1 1398.5,701.3 1401,698.2 1400.6,698.3 1402.5,703.5 1401,697.8 1399.8,698.2 1403.5,706.2 1399.3,701.4 1402.1,698.1 1402.7,692.3 1400.7,701.7 1400.4,692.3 1401.3,691.1 1400.9,691.6 1400.7,697.2 1401.3,692.7 1403,687.1 1400.9,696.9 1404.8,687.1 1402.5,695.9 1402.2,683.4 1403.1,689.5 1402.9,689.4 1404.4,687.2 1406.1,688.1 1404.3,690.8 1403.4,687.9 1404.9,688.8 1404.7,694.2 1402.9,682.4 1403.9,683.8 1404.4,684.7 1405,686.9 1406.6,686.9 1407.1,684.9 1404.6,681.2 1406.3,682.9 1403.4,681.5 1405.6,679.2 1406.7,675.2 1403.9,681.2 1407.3,678 1408.5,685.1 1406.2,682.2 1405.5,679.7 1405.9,674.3 1406.5,675.4 1406.8,680.1 1408.1,674.3 1406.3,675.3 1405.5,676.7 1405.2,676.7 1408.5,673.6 1409.9,675.5 1408.3,668.9 1409.2,673.1 1408.2,672.3 1409,676.9 1407.8,672.8 1409.1,664.9 1409.3,675 1408.5,677.9 1409.2,671.4 1409.9,671.3 1409.8,673.3 1409,668.3 1407.8,667.7 1408.1,668.1 1411.4,657.5 1409.8,664.8 1411.7,667.9 1410.6,667.2 1412.8,660.6 1410.4,663.8 1411.4,662.4 1411.3,661.5 1411.7,665.8 1409.9,652.5 1412,661.5 1411.4,663.5 1413.1,658.5 1410.4,660.6 1410.4,657.3 1411.7,659.6 1410.9,658.9 1412.3,660.5 1410.4,656.9 1413.2,656.9 1410.8,660.9 1413.5,654.9 1412.1,653.3 1415.5,652 1413.5,654.2 1412.7,654.8 1413.4,654.1 1412.9,657.1 1415.2,651.8 1413.7,650.7 1414.3,646.1 1415.4,655.2 1414,653.5 1413.6,652.8 1413.9,648.2 1414,648.2 1415.7,647.8 1416.4,645.2 1415.9,649.6 1415.8,647.7 1414.8,651.1 1414.6,639.2 1415.9,645.9 1417.3,640.8 1416.6,647.6 1416.4,641.7 1416,639.7 1415.9,640.5 1418,646.2 1415.8,644.9 1416.7,646.5 1417.1,642.3 1419.2,642.8 1419.5,640 1415.8,646.5 1415.5,642.3 1416.5,644.4 1418.1,640.7 1418.5,636.5 1417,641.3 1417.3,633.3 1421.8,639.7 1418.7,636.5 1417,637.5 1419,627.8 1418.8,635.6 1418.4,632.9 1416.1,631.8 1421,638 1418.6,634.9 1419.2,631.7 1419,630.3 1417.5,630.7 1419.1,631.8 1420,631.8 1419.5,630.6 1419,624.6 1421.6,629.3 1418.8,629.5 1419.4,630.5 1420.1,627.6 1423.7,626.7 1418.9,626.9 1421.5,624.6 1420.6,631.9 1422.5,622.9 1420.5,621.7 1420.7,616.2 1423.2,624.4 1422.2,625.1 1422.2,622.1 1422.8,620.4 1421.3,619 1424.1,621.1 1421,621.4 1422.2,620 1422.4,615.9 1421.1,615.2 1424.2,622 1423.4,611.9 1423.8,617.1 1421.8,622.6 1423.5,619.5 1421.1,620.6 1421.1,614.8 1424.6,618.2 1425.5,616.7 1424.4,615.3 1423.6,618.7 1425.5,609.3 1423.8,615.5 1425.3,610.9 1425.8,615.8 1424.6,611.5 1427,606.3 1424.1,611.5 1423.6,602.6 1425.5,604.4 1424.7,610.5 1423,612.7 1423.9,609.5 1426.8,608.6 1426.5,611.9 1426.3,609.4 1424.9,601.9 1427.4,604.2 1423.9,609.9 1425.5,601 1427,600.2 1426,601 1425.1,598.4 1424.3,602.9 1428.2,601.4 1426.5,604.6 1428.4,600.1 1429.2,605.5 1426.8,599.1 1427.3,602.3 1427.3,602.7 1429,599.7 1429,597.4 1427.8,593.4 1426.9,593.6 1428.8,598.3 1428.8,594.9 1426.9,597.5 1429.5,593 1426.9,594.7 1430.1,594.4 1427.4,596 1430.2,592.2 1429.3,595.1 1429.3,587.2 1429.2,587.8 1430.6,591.7 1428.4,590.4 1430.2,592 1430.1,584.9 1429.7,590.4 1432.1,583.7 1431.6,592.7 1429,585.8 1433.3,586.2 1430.5,589 1432.7,587.9 1430.2,584.5 1430.6,585.2 1429.9,590.6 1431.2,581.8 1431.9,589.2 1431.5,582.1 1433,579.5 1432.1,586.9 1433.6,584.4 1432.5,582.3 1432.2,584.8 1431,580.6 1431.8,579.2 1432.9,581.9 1432.2,580.7 1431.7,568 1433.9,582.9 1432,579.8 1432.7,583.1 1432.4,588.5 1434.5,573 1433,578.4 1436.1,577.3 1435.5,571.9 1433.6,576.8 1433.3,566.5 1434,570.2 1432,576 1436.3,568.5 1433.9,570.3 1432.7,571.6 1433.5,567.2 1432.9,568.6 1434.1,571.4 1434.2,570.1 1436.9,568.5 1437.3,573 1436.5,567.7 1434.8,577.9 1434,567.6 1434.6,562.5 1434.1,563.4 1434.6,573.2 1436.3,560.8 1435.9,565.5 1434.7,566.5 1436.3,560.4 1438.2,557.5 1441.3,566.5 1437,568 1436.2,562.7 1435.5,567 1438.6,562.9 1437.3,558.7 1436.8,560.5 1436.5,561.7 1438.1,548.5 1437,559.4 1439.2,562.1 1437.3,559.9 1437.3,555.9 1438.2,555.5 1439.5,555.4 1436,558.2 1438.8,538.4 1437.7,557.1 1438.2,555.4 1440.5,552.3 1437.4,554.8 1437.7,555.8 1440.8,550.5 1440.1,547.2 1441.4,547.3 1439.6,550.4 1438.7,551.1 1438.7,546.1 1441.2,553.9 1441.3,551.7 1439.9,543.8 1439.7,541.6 1440.3,548.1 1441.4,546.1 1442.5,544.1 1442.8,543.3 1439.7,544.9 1439.9,545.2 1442.5,544.9 1440.7,549.5 1443,548.5 1442.8,535.2 1442.3,545.3 1444.1,546.5 1443.8,535.9 1443.3,538.7 1441.3,538.9 1443.9,542.4 1445.2,540.8 1442.1,539.9 1445.6,539.1 1444.9,547.7 1445.1,538.6 1442.7,533.8 1446.5,533.3 1443.8,541.9 1443.4,541.8 1445.2,536.4 1446.6,537.2 1446.1,540.1 1445.9,535.1 1445.1,526.5 1446.7,533.9 1448.3,524.4 1447.8,530.1 1447.4,529.1 1448.8,530.5 1446.6,526.4 1448.1,533.5 1445.8,526.3 1450.3,530.8 1449.7,530.2 1448.4,524.8 1447.5,531 1449.3,524.3 1446.9,521.6 1445.9,525.7 1449.9,526.9 1448.5,526.5 1449.4,529 1450.4,523.4 1450.9,528.5 1448.4,536.3 1449.5,524.4 1449.7,519.1 1451.5,535 1449.9,521.8 1453.9,521.8 1451.5,515.7 1449.9,513.9 1453.2,525.3 1450.6,522.1 1454.3,516.1 1451.4,516.8 1452.5,513.7 1453.4,517.4 1451,500 1450.8,519.4 1453.4,517.5 1452.9,519.6 1451.3,515.5 1451.8,517 1455.5,515.9 1453.9,515.7 1454.6,511.4 1456,516.9 1453.4,507.9 1456.8,510.2 1455.7,511.4 1456.3,519.4 1456.8,507.3 1454.3,511.4 1454.3,511.4 1456.3,503.5 1459.3,517.6 1455.4,512.3 1457,509.2 1455.5,506.9 1460.3,509.9 1458.5,498.5 1456.4,512 1456.7,504.5 1456.1,508.8 1457.4,501 1458,502 1456.6,495.2 1458.9,502.2 1457.9,502.5 1458.5,499.7 1460.4,507.4 1459.3,500.7 1460.9,500.3 1457.8,496.8 1461.3,501.9 1458.1,497.5 1460.8,498.4 1459.5,494.6 1459,502 1461.6,502.4 1461.3,495.8 1460.3,497.9 1462.3,493.7 1458.8,499 1461.6,498.4 1459.3,492 1460.9,503.1 1460.4,478.2 1462,492.7 1462.9,493.4 1461.9,492.9 1464.6,492.5 1460.4,486.3 1465.1,486.6 1459.5,488.4 1463.9,481.8 1461.4,488.3 1463.4,489.2 1463.6,486.6 1462.1,495 1464.6,488.9 1465,484.6 1464.4,491 1465.2,488.4 1463.8,496.7 1466.2,489.4 1465.6,480.8 1463.6,482.9 1464,483.4 1465.7,477.9 1464.3,478.9 1463.7,479.8 1465.6,484.5 1466,484.3 1465.9,479.6 1469,473.7 1465.6,482.7 1469.4,476.9 1465.4,481.5 1469.6,471.6 1467.1,483.7 1467.1,478.6 1469.6,487.4 1467.9,477.6 1469.3,481.8 1469.6,482.2 1469.6,473 1467.1,473.9 1465.5,484.1 1469,477.6 1470.4,466.1 1471.9,474.4 1469.2,467.9 1471.4,477.2 1468.4,473.7 1472.8,468.3 1471.1,468 1474.2,477 1471.1,477.4 1471.7,469.8 1474.5,468 1473.1,471.5 1475.9,465 1473.3,467.8 1472.2,469.2 1472.2,468.9 1474.6,468.9 1475,465.7 1472.8,464.9 1476.2,460.5 1476.2,457.6 1474.6,465.9 1472.9,463.1 1472.7,469 1474.4,465 1474.8,456.2 1474,465.3 1476.5,458.3 1477.4,459.7 1475.1,449.8 1474.8,452.3 1474.4,465.1 1475,458.2 1476.1,459.7 1478.1,456.2 1477.4,453.6 1479.3,454.5 1477.6,462.9 1477.7,453.7 1480.4,451 1479.5,462.6 1479.4,453.2 1480.9,451.2 1477.5,457.9 1479.2,450.1 1483.8,454.2 1479.5,452.2 1480.1,448.6 1479.8,446.5 1481.8,456 1478.3,454.1 1482.6,457.7 1483.1,450.3 1480.7,449.1 1482.1,450.1 1481.8,450.6 1482.1,452.7 1482.9,450.7 1480.8,450.8 1481.1,445.2 1483.9,447.1 1480.6,442.6 1482.9,445.2 1483.9,451.3 1484.2,436.4 1481.2,445.3 1484.2,443.3 1482.3,441.6 1483.4,435.8 1481.4,443.6 1482.8,439.8 1483.1,440.8 1484.7,439.9 1485.5,440.9 1485.6,438.3 1485,438.7 1484,441.9 1483.7,439.9 1485.2,443 1484.2,435.8 1485.8,429.4 1485,436 1485.9,432.2 1484.9,431.4 1485.7,435.8 1487.6,423.5 1488.7,435.5 1487.4,440.2 1488.3,440.2 1489.2,434.7 1489.6,435.4 1490.9,435.9 1490,436.8 1491.7,433.3 1492.6,424.7 1490.9,436.4 1489.7,416.2 1492,422.2 1493.7,429.3 1491.6,417.6 1492.1,433.4 1491.1,438.9 1492.7,429.5 1493.7,426.7 1494.8,427.6 1492.7,430.9 1494.5,426.5 1493.9,426.7 1494,423.5 1497.4,423.6 1493.4,423.1 1498.2,431 1495.6,424.1 1498.5,419.6 1500.7,427.9 1498.3,422 1495.7,420.4 1498.2,411.1 1502.2,418 1495.8,415.6 1497.9,420.3 1498.6,418.9 1502,420.7 1500.7,420.7 1501.1,415.3 1499.6,410 1500.5,420.4 1502.3,427 1500.4,421.3 1499.6,412.6 1502.3,412.9 1504,427.5 1504.6,414.5 1504.1,418.1 1504.8,412.7 1504,409 1501.9,418.9 1507.3,419.9 1507,420.8 1509.4,414.3 1505.2,412.3 1508.6,417.7 1508.1,414.5 1508.8,417.6 1510.4,415.8 1506.5,421 1508.6,417.2 1509.5,412.8 1508.3,410.2 1507.3,414.8 1511,408.1 1508.7,414.6 1514.4,404.8 1514.3,410.9 1511.5,405 1510.7,404.4 1511.8,405.9 1514,421.2 1513.1,407.5 1513.5,401.4 1514.8,411.1 1516.9,407.3 1514.6,410.1 1514.4,411.3 1518.1,401.1 1515.3,396.1 1516.9,397.9 1519.9,404.5 1512.8,401.8 1516.2,405.8 1519.6,411.7 1519.9,397.7 1518.2,402.1 1518.2,402.8 1520.5,406.7 1520.8,401.6 1521.1,399.2 1523.4,405.2 1522.6,399.4 1519.1,401.2 1521.8,404.6 1523.7,401.7 1522.7,407 1524.1,405.3 1525.1,397 1524.4,402 1523.7,400.8 1525.8,396.4 1527,399.5 1529.8,402.5 1527.2,412.8 1525.4,402.3 1526.2,395.4 1527.2,397.4 1528.3,401.3 1527.5,393.6 1531.2,394.9 1528.5,403.3 1528,394.3 1532.8,395.8 1532.6,405.2 1530.7,384.3 1529,406.7 1532.6,390.6 1532.6,395 1532.9,393.7 1531.1,390.1 1532.5,381.8 1535.2,393 1533.7,384.2 1538.3,396.2 1535.9,401.3 1537.3,395.5 1535.1,388.6 1541.4,390.7 1538.7,386.8 1539,397.3 1537.4,400.5 1540,387.1 1539.5,393.9 1539.2,397.4 1542.1,391 1542.4,399 1541.6,389.6 1546.6,391.5 1547.3,393.8 1545.8,386.2 1546.3,388.9 1541.4,391.8 1545.8,391.1 1545.1,396.9 1544.4,389.1 1547.1,390.1 1546.5,386.7 1549.5,386.9 1548.9,393.7 1551.4,394.3 1549.3,391 1550.7,391.1 1549.6,386.5 1549.9,389.9 1549.2,397.4 1550.5,396.6 1550.9,377.6 1553.6,390.6 1551.3,395 1553.3,383.8 1551.3,391.7 1554.3,394.3 1554.7,381.7 1555.7,388 1556.4,388.9 1557.3,386.5 1554,378.7 1556.7,389 1559.6,392.4 1556.9,382.5 1557,381.1 1559.3,390.9 1560.2,382.2 1559.9,386 1559.1,388.5 1562.4,383.1 1559.9,393.1 1565.8,388.2 1564.9,384.7 1564,375.3 1563.5,381.4 1565.8,386.8 1566.4,378.3 1564.7,377.9 1566.7,386 1569.3,386.7 1562.9,379.3 1563.7,388.9 1564.7,386.5 1569.4,378.3 1567.5,388.4 1569.9,377 1566.5,384.1 1570.6,388.6 1572.1,385.7 1565.7,381 1572,381.2 1572.8,393.8 1575.2,388.6 1575.5,402.2 1574.6,384.5 1576.3,383.3 1574.3,383.8 1577.6,393.9 1574.1,380 1575,386.6 1574.1,385 1576.1,376 1578.5,377 1580.6,386.6 1583.1,386.2 1578.1,383.1 1580.7,388.1 1581.1,374.9 1583.5,376.7 1580.5,381.8" fill="none" stroke="#ff0000" stroke-width="2.6" stroke-linejoin="round" stroke-linecap="round"/>
<path d="M1564.8,551V673H1664.4" fill="none" stroke="#000" stroke-width="3.2" stroke-linecap="round" stroke-linejoin="round"/>
<line x1="1268.7" y1="1011.5" x2="1987.5" y2="1011.5" stroke="#000" stroke-width="2.2"/>
<line x1="1268.7" y1="1011.5" x2="1268.7" y2="1022" stroke="#000" stroke-width="2.2"/>
<line x1="1348.5" y1="1011.5" x2="1348.5" y2="1022" stroke="#000" stroke-width="2.2"/>
<line x1="1428.3" y1="1011.5" x2="1428.3" y2="1022" stroke="#000" stroke-width="2.2"/>
<line x1="1508.1" y1="1011.5" x2="1508.1" y2="1022" stroke="#000" stroke-width="2.2"/>
<line x1="1587.9" y1="1011.5" x2="1587.9" y2="1022" stroke="#000" stroke-width="2.2"/>
<line x1="1667.8" y1="1011.5" x2="1667.8" y2="1022" stroke="#000" stroke-width="2.2"/>
<line x1="1747.6" y1="1011.5" x2="1747.6" y2="1022" stroke="#000" stroke-width="2.2"/>
<line x1="1827.4" y1="1011.5" x2="1827.4" y2="1022" stroke="#000" stroke-width="2.2"/>
<line x1="1907.2" y1="1011.5" x2="1907.2" y2="1022" stroke="#000" stroke-width="2.2"/>
<line x1="1987" y1="1011.5" x2="1987" y2="1022" stroke="#000" stroke-width="2.2"/>
<line x1="1828" y1="877.5" x2="1828" y2="1547" stroke="#000" stroke-width="2.2"/>
<line x1="1817.3" y1="878.3" x2="1828" y2="878.3" stroke="#000" stroke-width="2.2"/>
<line x1="1817.3" y1="922.8" x2="1828" y2="922.8" stroke="#000" stroke-width="2.2"/>
<line x1="1817.3" y1="967.3" x2="1828" y2="967.3" stroke="#000" stroke-width="2.2"/>
<line x1="1817.3" y1="1011.8" x2="1828" y2="1011.8" stroke="#000" stroke-width="2.2"/>
<line x1="1817.3" y1="1056.4" x2="1828" y2="1056.4" stroke="#000" stroke-width="2.2"/>
<line x1="1817.3" y1="1100.9" x2="1828" y2="1100.9" stroke="#000" stroke-width="2.2"/>
<line x1="1817.3" y1="1145.4" x2="1828" y2="1145.4" stroke="#000" stroke-width="2.2"/>
<line x1="1817.3" y1="1189.9" x2="1828" y2="1189.9" stroke="#000" stroke-width="2.2"/>
<line x1="1817.3" y1="1234.4" x2="1828" y2="1234.4" stroke="#000" stroke-width="2.2"/>
<line x1="1817.3" y1="1278.9" x2="1828" y2="1278.9" stroke="#000" stroke-width="2.2"/>
<line x1="1817.3" y1="1323.4" x2="1828" y2="1323.4" stroke="#000" stroke-width="2.2"/>
<line x1="1817.3" y1="1367.9" x2="1828" y2="1367.9" stroke="#000" stroke-width="2.2"/>
<line x1="1817.3" y1="1412.5" x2="1828" y2="1412.5" stroke="#000" stroke-width="2.2"/>
<line x1="1817.3" y1="1457" x2="1828" y2="1457" stroke="#000" stroke-width="2.2"/>
<line x1="1817.3" y1="1501.5" x2="1828" y2="1501.5" stroke="#000" stroke-width="2.2"/>
<line x1="1817.3" y1="1546" x2="1828" y2="1546" stroke="#000" stroke-width="2.2"/>
<path d="M1271.8,1328.9C1273.2,1328.9 1277.4,1328.4 1280.3,1328.9C1283.2,1329.4 1286.1,1331 1289,1332C1291.9,1333 1294.4,1335.3 1297.8,1335C1301.2,1334.7 1304.6,1334.4 1309.4,1330C1314.2,1325.6 1320.7,1314.5 1326.8,1308.7C1332.9,1302.9 1340.2,1300 1346.1,1295.2C1352,1290.4 1356.8,1285.5 1362,1280C1367.2,1274.5 1372.4,1267.3 1377.1,1262.3C1381.8,1257.3 1386.1,1253.5 1390,1250C1393.9,1246.5 1395.3,1246.4 1400.3,1241C1405.2,1235.6 1413.2,1224.8 1419.7,1217.7C1426.2,1210.6 1432.5,1204 1439,1198.4C1445.5,1192.8 1452.4,1189.1 1458.4,1184C1464.4,1178.9 1468.5,1174 1475,1168C1481.5,1162 1490.8,1154.5 1497.1,1148C1503.4,1141.5 1507.1,1133.5 1512.6,1128.8C1518.1,1124.1 1524.2,1122.9 1530,1120C1535.8,1117.1 1540.8,1115.8 1547.5,1111.3C1554.2,1106.8 1562.9,1098.8 1570,1093C1577.1,1087.2 1583,1082 1590,1076.5C1597,1071 1604.9,1065.2 1612,1060C1619.1,1054.8 1626.3,1048.8 1632.6,1045.5C1638.9,1042.2 1644.8,1041.6 1650,1040C1655.2,1038.4 1658.6,1037.8 1663.6,1035.8C1668.6,1033.8 1674.8,1030.6 1680,1028C1685.2,1025.4 1688.3,1023.3 1694.6,1020.4C1700.9,1017.5 1711.4,1013.4 1717.8,1010.7C1724.2,1008 1727.8,1006.3 1733,1004C1738.2,1001.7 1743.5,999.2 1748.8,997C1754.1,994.8 1759.2,993.2 1765,991C1770.8,988.8 1778.1,985.9 1783.6,983.6C1789.1,981.3 1793.5,979.1 1798,977C1802.5,974.9 1806.7,971.9 1810.7,971.2C1814.7,970.5 1818.1,972.4 1822,973C1825.9,973.6 1829.4,975.3 1834,975C1838.6,974.7 1844.1,972 1849.4,971.2C1854.7,970.4 1860.2,970.4 1866,970C1871.8,969.6 1879,970.2 1884.3,968.9C1889.6,967.6 1893.5,964.2 1898,962C1902.5,959.8 1906.9,956.5 1911.4,955.7C1915.9,954.9 1920.5,956.4 1925,957C1929.5,957.6 1934.3,959.4 1938.5,959.6C1942.7,959.8 1946.1,958.4 1950,958C1953.9,957.6 1957.5,957 1961.7,957.2C1965.9,957.4 1970.8,958.5 1975,959C1979.2,959.5 1984.9,960.1 1986.9,960.3" fill="none" stroke="#000" stroke-width="3.0" stroke-linejoin="round" stroke-linecap="round"/>
<path d="M1271.8,1517.8C1273.5,1517.2 1279.3,1514.2 1282.3,1513.9C1285.3,1513.6 1287.1,1514.8 1290,1516C1292.9,1517.2 1296.2,1521.2 1299.7,1520.9C1303.2,1520.6 1307.9,1517.7 1311.3,1513.9C1314.7,1510.1 1316.8,1503.8 1320,1498C1323.2,1492.2 1326,1485 1330.7,1479C1335.4,1473 1342.3,1469.4 1348.1,1461.7C1353.9,1454 1359.7,1443.8 1365.5,1432.6C1371.3,1421.4 1377.1,1403.7 1382.9,1394.7C1388.7,1385.7 1394.8,1384.7 1400.3,1378.4C1405.8,1372.1 1411.3,1365.2 1415.8,1357.1C1420.3,1349 1423.4,1336.2 1427.4,1330C1431.4,1323.8 1436.1,1322.9 1440,1320C1443.9,1317.1 1447,1315.4 1450.7,1312.6C1454.4,1309.8 1457.2,1310.8 1462.3,1302.9C1467.4,1295 1475.8,1272.8 1481.6,1265.4C1487.4,1258 1492.6,1261.5 1497.1,1258.4C1501.6,1255.3 1504.2,1252.9 1508.7,1246.8C1513.2,1240.7 1519,1228.1 1524.2,1221.6C1529.4,1215.1 1534.5,1212.3 1539.7,1208C1544.9,1203.7 1549.4,1202.8 1555.2,1195.7C1561,1188.6 1568.1,1171.8 1574.6,1165.5C1581,1159.2 1588.5,1162 1593.9,1157.8C1599.3,1153.5 1602.5,1146.1 1607,1140C1611.5,1133.9 1615.4,1124.8 1621,1121C1626.6,1117.2 1634.7,1121.3 1640.4,1117C1646.1,1112.7 1650.2,1101.4 1655,1095C1659.8,1088.6 1663.5,1081.2 1669.4,1078.4C1675.4,1075.6 1684.8,1082.3 1690.7,1078.4C1696.6,1074.5 1700.5,1062.1 1705,1055C1709.5,1047.9 1713.3,1037.8 1717.8,1035.8C1722.3,1033.8 1727.5,1040.9 1732,1043C1736.5,1045.1 1740.9,1049.9 1744.9,1048.6C1748.9,1047.3 1752.1,1039.5 1756,1035C1759.9,1030.5 1762.2,1026.5 1768.1,1021.5C1774,1016.5 1785.4,1010.1 1791.4,1004.9C1797.4,999.6 1800.1,995 1804,990C1807.9,985 1810.9,977 1814.6,975C1818.3,973 1822.1,976.5 1826,978C1829.9,979.5 1833.6,985.6 1837.8,984.3C1842,983 1846.5,974.6 1851,970C1855.5,965.4 1860.7,958.2 1864.9,956.5C1869.1,954.8 1872.1,958.4 1876,960C1879.9,961.6 1883.8,968.5 1888.1,966.2C1892.4,963.9 1897.5,952.5 1902,946C1906.5,939.5 1908.6,930.5 1915.3,927.4C1922,924.3 1934.6,929.8 1942.3,927.4C1950,925 1956.2,915.9 1961.7,913.1C1967.2,910.3 1971.1,912.7 1975.3,910.8C1979.5,908.9 1985,903 1986.9,901.5" fill="none" stroke="#ff0000" stroke-width="2.8" stroke-linejoin="round" stroke-linecap="round"/>
<text filter="url(#sh)" stroke="#000" stroke-width="0.6" x="19.12" y="41.60" font-size="49.31" textLength="29.38" lengthAdjust="spacingAndGlyphs">A</text>
<text filter="url(#sh)" stroke="#000" stroke-width="0.6" x="524.82" y="37.80" font-size="50.04" textLength="27.75" lengthAdjust="spacingAndGlyphs">B</text>
<text filter="url(#sh)" stroke="#000" stroke-width="0.6" x="18.73" y="837.70" font-size="47.86" textLength="28.49" lengthAdjust="spacingAndGlyphs">C</text>
<text filter="url(#sh)" stroke="#000" stroke-width="0.6" x="1251.26" y="37.60" font-size="49.60" textLength="32.36" lengthAdjust="spacingAndGlyphs">D</text>
<text filter="url(#sh)" stroke="#000" stroke-width="0.6" x="1242.12" y="838.20" font-size="49.16" textLength="22.82" lengthAdjust="spacingAndGlyphs">E</text>
<text x="142.01" y="65.90" font-size="30.69" textLength="55.94" lengthAdjust="spacingAndGlyphs">ATP</text>
<text x="281.34" y="265.50" font-size="30.55" textLength="67.50" lengthAdjust="spacingAndGlyphs">1 µM</text>
<text x="264.01" y="294.10" font-size="30.43" textLength="83.91" lengthAdjust="spacingAndGlyphs">10 µM</text>
<text x="249.14" y="324.00" font-size="30.43" textLength="100.57" lengthAdjust="spacingAndGlyphs">100 µM</text>
<text x="250.70" y="355.70" font-size="31.29" textLength="100.72" lengthAdjust="spacingAndGlyphs">250 µM</text>
<text x="252.40" y="388.50" font-size="31.29" textLength="100.00" lengthAdjust="spacingAndGlyphs">500 µM</text>
<text x="235.90" y="419.20" font-size="31.71" textLength="117.31" lengthAdjust="spacingAndGlyphs">2500 µM</text>
<text x="187.16" y="658.30" font-size="30.71" textLength="79.46" lengthAdjust="spacingAndGlyphs">10 nA</text>
<text x="235.99" y="716.50" font-size="31.42" textLength="40.03" lengthAdjust="spacingAndGlyphs">5 s</text>
<text x="494.13" y="223.90" font-size="34.71" textLength="18.85" lengthAdjust="spacingAndGlyphs">3</text>
<text x="498.09" y="385.00" font-size="33.43" textLength="19.02" lengthAdjust="spacingAndGlyphs">2</text>
<text x="494.11" y="539.20" font-size="34.04" textLength="18.55" lengthAdjust="spacingAndGlyphs">1</text>
<text x="607.47" y="731.30" font-size="33.50" textLength="31.02" lengthAdjust="spacingAndGlyphs">-6</text>
<text x="698.23" y="731.30" font-size="33.50" textLength="29.91" lengthAdjust="spacingAndGlyphs">-5</text>
<text x="786.86" y="731.30" font-size="33.50" textLength="29.22" lengthAdjust="spacingAndGlyphs">-4</text>
<text x="869.47" y="731.30" font-size="33.50" textLength="31.13" lengthAdjust="spacingAndGlyphs">-3</text>
<text x="954.32" y="731.30" font-size="33.50" textLength="30.14" lengthAdjust="spacingAndGlyphs">-2</text>
<text x="728.67" y="793.70" font-size="32.00" font-weight="bold" textLength="123.01" lengthAdjust="spacingAndGlyphs">ATP (M)</text>
<text transform="translate(482.50,573.96) rotate(-90)" font-size="33.52" textLength="236.88" lengthAdjust="spacingAndGlyphs">Relative Current</text>
<text x="1025.64" y="457.90" font-size="34.76" textLength="234.83" lengthAdjust="spacingAndGlyphs">Fast component</text>
<text x="1022.37" y="519.40" font-size="33.10" textLength="241.63" lengthAdjust="spacingAndGlyphs">Slow component</text>
<text x="471.15" y="1047.30" font-size="34.62" textLength="102.66" lengthAdjust="spacingAndGlyphs">BzATP</text>
<text x="477.79" y="1139.40" font-size="35.35" textLength="62.55" lengthAdjust="spacingAndGlyphs">ATP</text>
<text x="335.80" y="1433.40" font-size="30.98" textLength="61.03" lengthAdjust="spacingAndGlyphs">5 nA</text>
<text x="362.79" y="1494.30" font-size="31.56" textLength="40.03" lengthAdjust="spacingAndGlyphs">5 s</text>
<text x="1604.40" y="286.40" font-size="30.34" textLength="96.94" lengthAdjust="spacingAndGlyphs">Control</text>
<text x="1604.48" y="395.00" font-size="30.07" textLength="125.02" lengthAdjust="spacingAndGlyphs">High Na+</text>
<text x="1574.09" y="614.50" font-size="31.13" textLength="61.44" lengthAdjust="spacingAndGlyphs">5 nA</text>
<text x="1596.58" y="703.50" font-size="30.25" textLength="40.14" lengthAdjust="spacingAndGlyphs">5 s</text>
<text x="1387.98" y="988.70" font-size="28.80" textLength="295.19" lengthAdjust="spacingAndGlyphs">Holding potential (mV)</text>
<text x="1328.17" y="1052.80" font-size="29.50" textLength="43.81" lengthAdjust="spacingAndGlyphs">-60</text>
<text x="1487.87" y="1052.80" font-size="29.50" textLength="44.02" lengthAdjust="spacingAndGlyphs">-40</text>
<text x="1648.20" y="1052.80" font-size="29.50" textLength="43.07" lengthAdjust="spacingAndGlyphs">-20</text>
<text x="1971.96" y="1052.70" font-size="29.50" textLength="34.30" lengthAdjust="spacingAndGlyphs">20</text>
<text x="1766.39" y="1199.70" font-size="29.50" textLength="43.39" lengthAdjust="spacingAndGlyphs">-20</text>
<text x="1766.39" y="1377.60" font-size="29.50" textLength="43.39" lengthAdjust="spacingAndGlyphs">-40</text>
<text x="1766.39" y="1554.80" font-size="29.50" textLength="43.39" lengthAdjust="spacingAndGlyphs">-60</text>
<text transform="translate(1875.00,1351.51) rotate(-90)" font-size="31.17" textLength="165.74" lengthAdjust="spacingAndGlyphs">Current (nA)</text>
<text x="1290.79" y="1248.90" font-size="28.41" textLength="97.04" lengthAdjust="spacingAndGlyphs">Control</text>
<text x="1334.08" y="1522.00" font-size="29.66" textLength="125.02" lengthAdjust="spacingAndGlyphs">High Na+</text>
</svg></body></html>
